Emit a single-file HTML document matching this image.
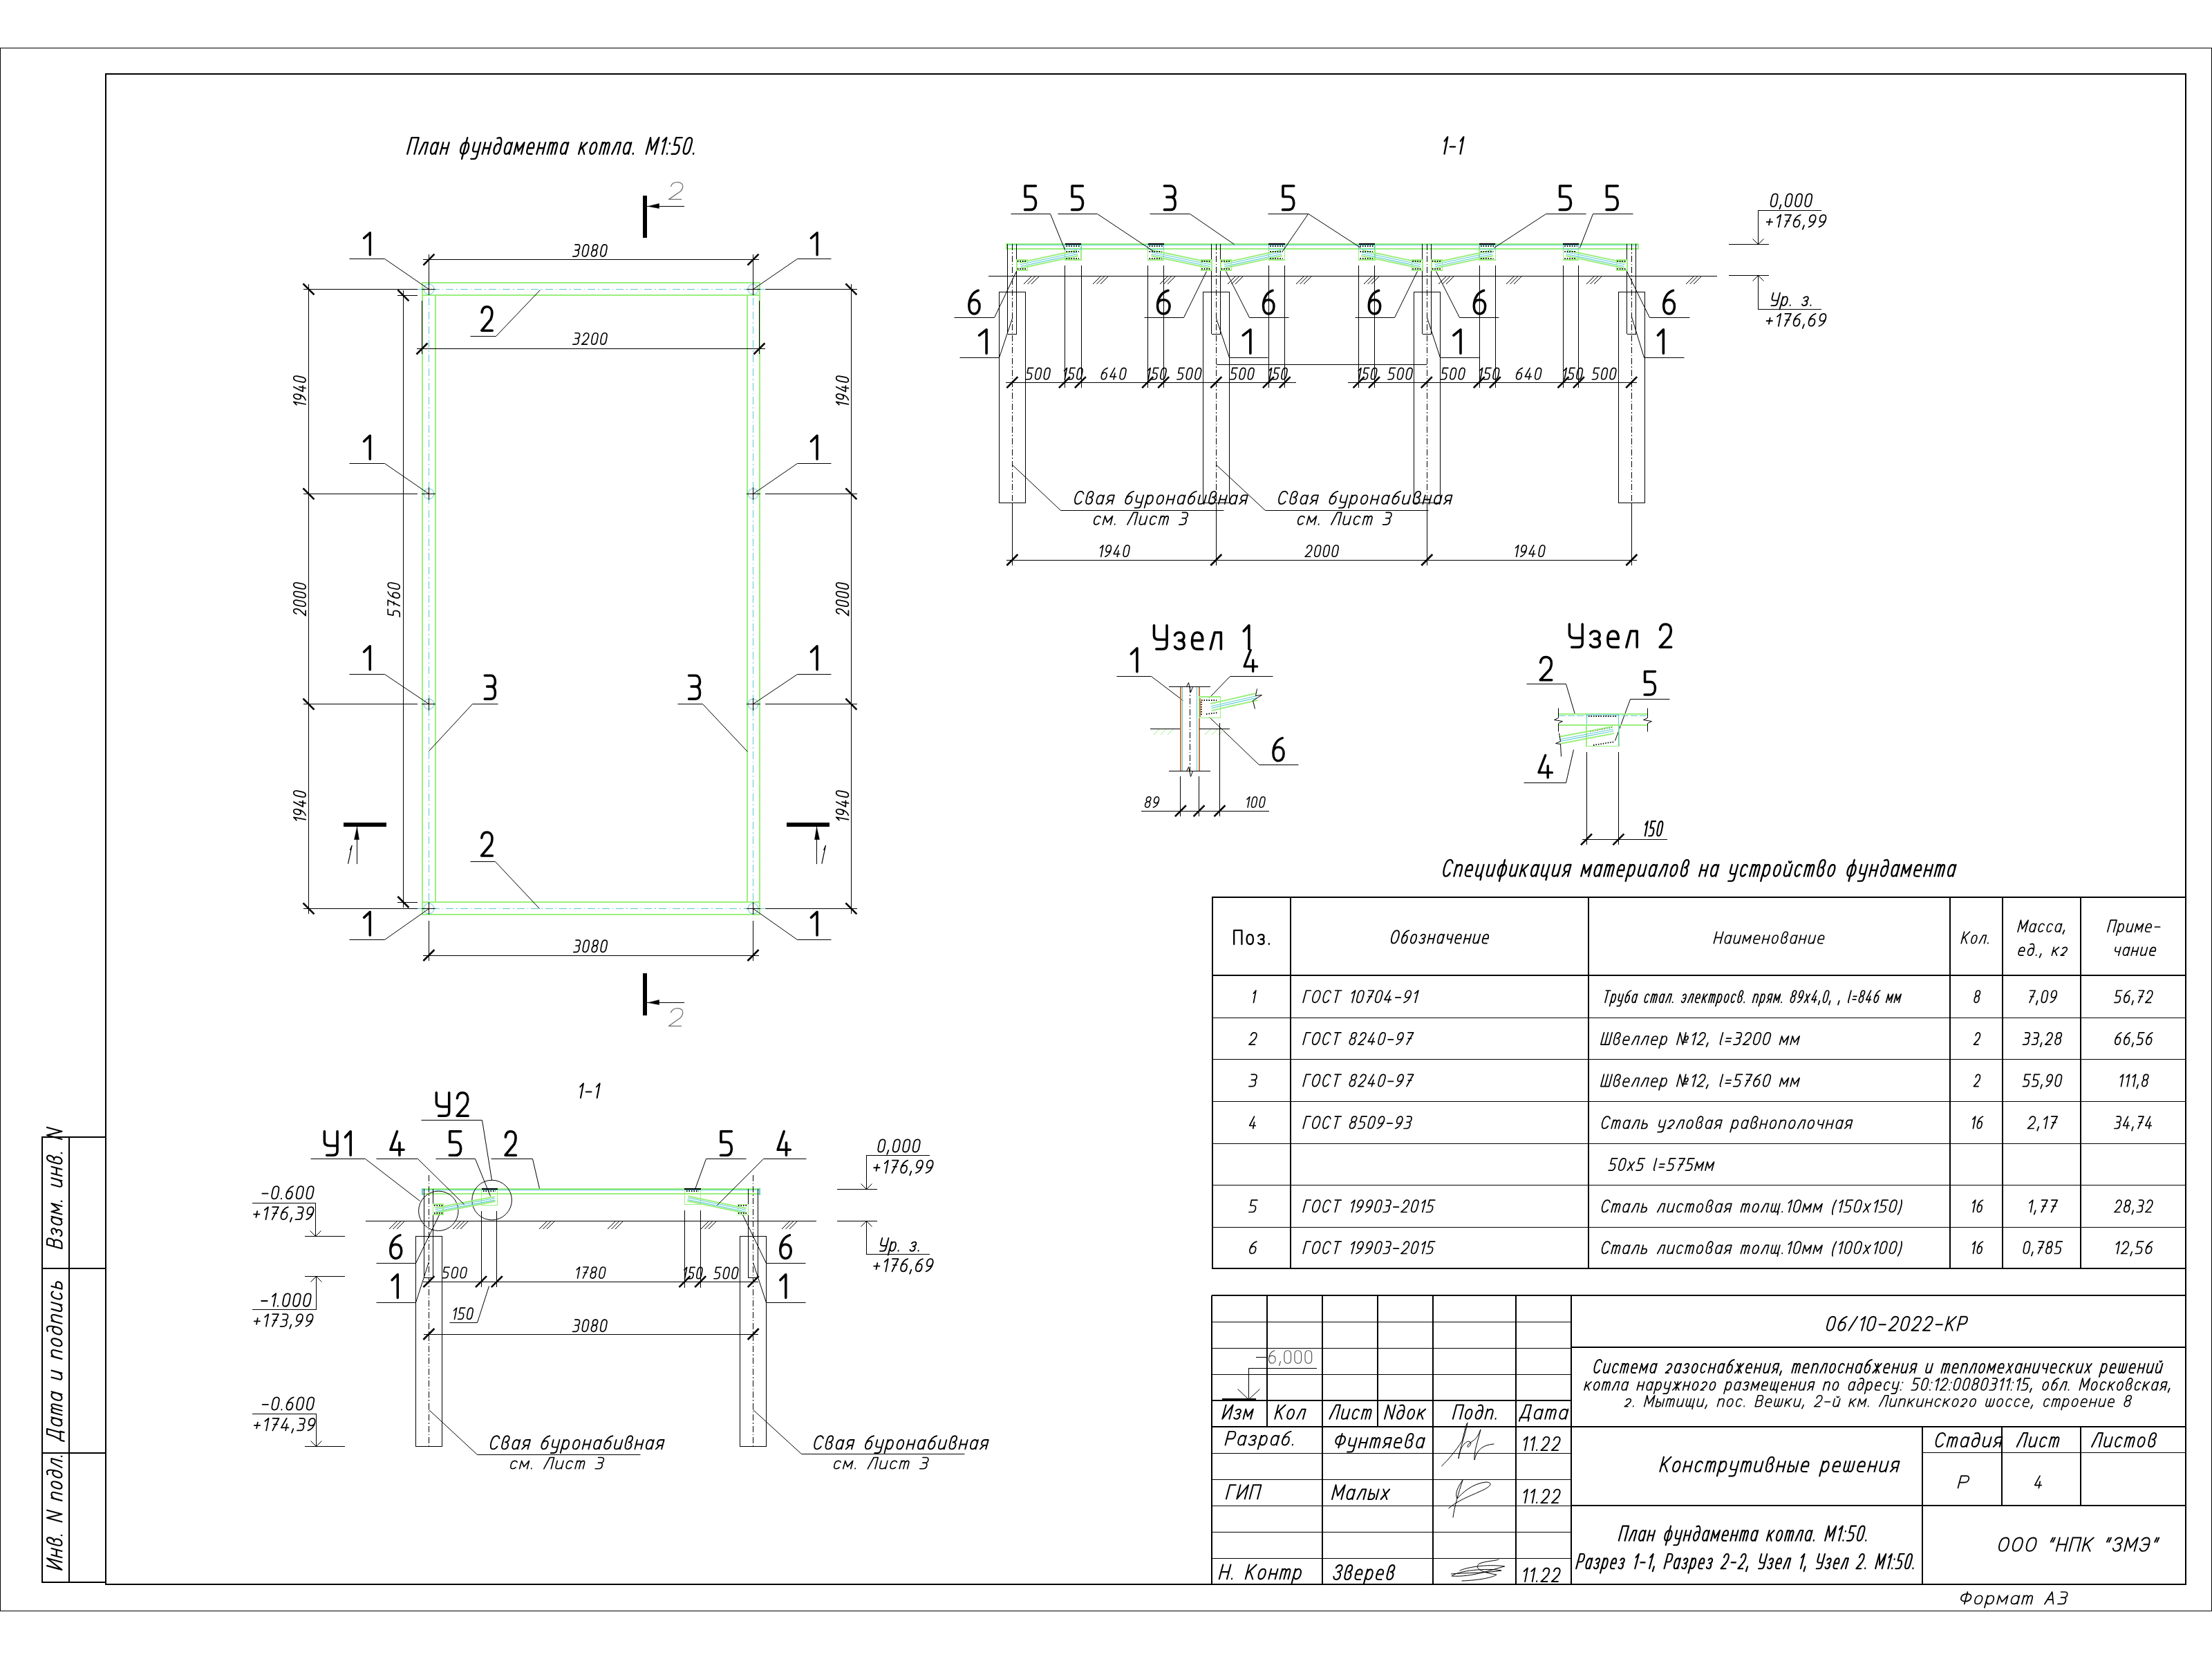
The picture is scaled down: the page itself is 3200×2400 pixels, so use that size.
<!DOCTYPE html><html><head><meta charset="utf-8"><style>html,body{margin:0;padding:0;background:#fff;overflow:hidden}</style></head><body><svg width="3200" height="2400" viewBox="0 0 3200 2400" style="display:block;font-family:'Liberation Sans',sans-serif;font-kerning:none">
<rect width="3200" height="2400" fill="#fff"/>
<defs><path id="g0" d="M0,0.24 L1,0 L1,1" vector-effect="non-scaling-stroke"/><path id="g1" d="M0.02,0.24 C0.06,0.08 0.25,0 0.5,0 C0.78,0 0.98,0.1 0.98,0.27 C0.98,0.38 0.93,0.45 0.85,0.53 L0,1 L1,1" vector-effect="non-scaling-stroke"/><path id="g2" d="M0,0 L0.58,0 C0.86,0 1,0.12 1,0.27 C1,0.4 0.86,0.47 0.6,0.47 L0.22,0.47 M0.6,0.47 C0.86,0.47 1,0.58 1,0.74 C1,0.9 0.86,1 0.58,1 L0,1" vector-effect="non-scaling-stroke"/><path id="g3" d="M0.5,0 L0,0.77 L1,0.77 M0.68,0.47 L0.68,1" vector-effect="non-scaling-stroke"/><path id="g4" d="M1,0 L0.03,0 L0.03,0.45 L0.55,0.45 C0.84,0.45 1,0.57 1,0.72 C1,0.89 0.84,1 0.55,1 L0,1" vector-effect="non-scaling-stroke"/><path id="g5" d="M0.88,0 C0.38,0.06 0,0.32 0,0.66 C0,0.88 0.2,1 0.5,1 C0.8,1 1,0.86 1,0.68 C1,0.5 0.8,0.4 0.5,0.4 C0.25,0.4 0.06,0.48 0,0.6" vector-effect="non-scaling-stroke"/><path id="g6" d="M0,0.3 C0,0.1 0.2,0 0.5,0 C0.8,0 1,0.1 1,0.3 L1,0.7 C1,0.9 0.8,1 0.5,1 C0.2,1 0,0.9 0,0.7 Z" vector-effect="non-scaling-stroke"/><path id="g7" d="M0,0 L1,0 L0.35,1 M0.35,0.5 L0.9,0.5" vector-effect="non-scaling-stroke"/><path id="g8" d="M0.5,0.46 C0.16,0.46 0.04,0.36 0.04,0.22 C0.04,0.08 0.2,0 0.5,0 C0.8,0 0.96,0.08 0.96,0.22 C0.96,0.36 0.84,0.46 0.5,0.46 C0.15,0.46 0,0.58 0,0.73 C0,0.9 0.2,1 0.5,1 C0.8,1 1,0.9 1,0.73 C1,0.58 0.85,0.46 0.5,0.46 Z" vector-effect="non-scaling-stroke"/><path id="g9" d="M0.12,1 C0.62,0.94 1,0.68 1,0.34 C1,0.12 0.8,0 0.5,0 C0.2,0 0,0.14 0,0.32 C0,0.5 0.2,0.6 0.5,0.6 C0.75,0.6 0.94,0.52 1,0.4" vector-effect="non-scaling-stroke"/><path id="g10" d="M1,0.86 L0,1.18" vector-effect="non-scaling-stroke"/><path id="g11" d="M0.5,0.96 L0.5,1" vector-effect="non-scaling-stroke"/><path id="g12" d="M0,0.58 L1,0.58 M0.5,0.33 L0.5,0.83" vector-effect="non-scaling-stroke"/><path id="g13" d="M0,0.58 L1,0.58" vector-effect="non-scaling-stroke"/><path id="g14" d="M0,0.58 L1,0.58" vector-effect="non-scaling-stroke"/><path id="g15" d="M0,0 L0,0.42 C0,0.55 0.15,0.6 0.4,0.6 L1,0.6 M1,0 L1,0.82 C1,0.94 0.88,1 0.68,1 L0.18,1" vector-effect="non-scaling-stroke"/><path id="g16" d="M0,0.42 C0.12,0.32 0.3,0.3 0.5,0.3 C0.8,0.3 0.98,0.38 0.98,0.48 C0.98,0.58 0.82,0.64 0.42,0.64 M0.5,0.64 C0.85,0.64 1,0.72 1,0.83 C1,0.94 0.82,1 0.5,1 C0.3,1 0.12,0.98 0,0.9" vector-effect="non-scaling-stroke"/><path id="g17" d="M0,0.64 L1,0.64 C1,0.42 0.85,0.3 0.5,0.3 C0.18,0.3 0,0.44 0,0.62 L0,0.74 C0,0.9 0.18,1 0.48,1 L1,1" vector-effect="non-scaling-stroke"/><path id="g18" d="M0,1 L0.4,0.3 L1,0.3 L1,1" vector-effect="non-scaling-stroke"/><path id="g19" d="M0,1 L0.5,0 L1,1 M0.2,0.64 L0.8,0.64" vector-effect="non-scaling-stroke"/><path id="g20" d="M0,0 L0,1 L0.6,1 C0.88,1 1,0.88 1,0.73 C1,0.57 0.88,0.47 0.6,0.47 L0,0.47 M0.55,0.47 C0.82,0.47 0.94,0.37 0.94,0.23 C0.94,0.09 0.82,0 0.55,0 L0,0" vector-effect="non-scaling-stroke"/><path id="g21" d="M1,0 L0,0 L0,1" vector-effect="non-scaling-stroke"/><path id="g22" d="M0,1.15 L0,0.9 L1,0.9 L1,1.15 M0.08,0.9 C0.25,0.6 0.3,0.3 0.3,0 L0.88,0 L0.88,0.9" vector-effect="non-scaling-stroke"/><path id="g24" d="M0,0.2 C0.1,0.05 0.3,0 0.5,0 C0.8,0 0.98,0.1 0.98,0.25 C0.98,0.4 0.8,0.47 0.42,0.47 M0.5,0.47 C0.85,0.47 1,0.6 1,0.75 C1,0.9 0.8,1 0.5,1 C0.25,1 0.08,0.92 0,0.8" vector-effect="non-scaling-stroke"/><path id="g25" d="M0,0 L0,1 L1,0 L1,1" vector-effect="non-scaling-stroke"/><path id="g26" d="M0,0 L0,1 M1,0 L0,0.62 M0.3,0.44 L1,1" vector-effect="non-scaling-stroke"/><path id="g27" d="M0,1 L0.42,0 L1,0 L1,1" vector-effect="non-scaling-stroke"/><path id="g28" d="M0,1 L0,0 L0.5,0.75 L1,0 L1,1" vector-effect="non-scaling-stroke"/><path id="g29" d="M0,0 L0,1 M1,0 L1,1 M0,0.5 L1,0.5" vector-effect="non-scaling-stroke"/><path id="g30" d="M0.5,0 C0.85,0 1.0,0.2 1.0,0.5 C1.0,0.8 0.85,1 0.5,1 C0.15,1 0.0,0.8 0.0,0.5 C0.0,0.2 0.15,0 0.5,0 Z" vector-effect="non-scaling-stroke"/><path id="g31" d="M0,1 L0,0 L1,0 L1,1" vector-effect="non-scaling-stroke"/><path id="g32" d="M0,1 L0,0 L0.6,0 C0.88,0 1,0.12 1,0.27 C1,0.42 0.88,0.54 0.6,0.54 L0,0.54" vector-effect="non-scaling-stroke"/><path id="g33" d="M1,0.2 C0.9,0.06 0.72,0 0.5,0 C0.15,0 0,0.25 0,0.5 C0,0.75 0.15,1 0.5,1 C0.72,1 0.9,0.94 1,0.8" vector-effect="non-scaling-stroke"/><path id="g34" d="M0,0 L1,0 M0.5,0 L0.5,1" vector-effect="non-scaling-stroke"/><path id="g35" d="M0.5,0 L0.5,1 M0.5,0.16 C0.15,0.16 0,0.3 0,0.47 C0,0.64 0.15,0.78 0.5,0.78 C0.85,0.78 1,0.64 1,0.47 C1,0.3 0.85,0.16 0.5,0.16 Z" vector-effect="non-scaling-stroke"/><path id="g36" d="M0,0 L0,1 L1,1 L1,0 M0.5,0 L0.5,1" vector-effect="non-scaling-stroke"/><path id="g37" d="M0,0.2 C0.1,0.06 0.28,0 0.5,0 C0.85,0 1,0.25 1,0.5 C1,0.75 0.85,1 0.5,1 C0.28,1 0.1,0.94 0,0.8 M0.35,0.5 L1,0.5" vector-effect="non-scaling-stroke"/><path id="g38" d="M0,1 L0,0 L1,1 L1,0" vector-effect="non-scaling-stroke"/><path id="g39" d="M1,0.3 L1,1 M1,0.62 C1,0.42 0.8,0.3 0.5,0.3 C0.18,0.3 0,0.45 0,0.65 C0,0.87 0.18,1 0.48,1 C0.78,1 1,0.87 1,0.7" vector-effect="non-scaling-stroke"/><path id="g40" d="M0.95,0 C0.45,0.03 0,0.25 0,0.66 C0,0.88 0.2,1 0.5,1 C0.8,1 1,0.88 1,0.68 C1,0.48 0.8,0.38 0.5,0.38 C0.25,0.38 0.06,0.47 0,0.6" vector-effect="non-scaling-stroke"/><path id="g41" d="M0,0.7 L0,0.3 C0,0.1 0.18,0 0.45,0 C0.72,0 0.9,0.1 0.9,0.24 C0.9,0.4 0.7,0.47 0.4,0.47 M0.45,0.47 C0.8,0.47 1,0.6 1,0.76 C1,0.92 0.8,1 0.5,1 C0.2,1 0,0.9 0,0.7" vector-effect="non-scaling-stroke"/><path id="g42" d="M0,0.42 C0.1,0.33 0.3,0.3 0.5,0.3 C0.8,0.3 1,0.38 1,0.5 C1,0.64 0.7,0.78 0,1 L0.7,1" vector-effect="non-scaling-stroke"/><path id="g43" d="M0.05,0.04 C0.2,0.01 0.35,0 0.5,0 C0.85,0.05 1,0.35 1,0.68 C1,0.88 0.8,1 0.5,1 C0.2,1 0,0.88 0,0.7 C0,0.5 0.2,0.38 0.5,0.38 C0.75,0.38 0.95,0.46 1,0.58" vector-effect="non-scaling-stroke"/><path id="g44" d="M0,0.3 L1,1 M1,0.3 L0,1 M0.5,0.3 L0.5,1" vector-effect="non-scaling-stroke"/><path id="g45" d="M0,0.3 L0,0.8 C0,0.93 0.12,1 0.4,1 C0.7,1 1,0.9 1,0.7 M1,0.3 L1,1" vector-effect="non-scaling-stroke"/><path id="g46" d="M0,0.3 L0,0.8 C0,0.93 0.12,1 0.4,1 C0.7,1 1,0.9 1,0.7 M1,0.3 L1,1 M0.3,0.1 C0.38,0.2 0.62,0.2 0.7,0.1" vector-effect="non-scaling-stroke"/><path id="g47" d="M0,0.3 L0,1 M1,0.3 L0,0.74 M0.35,0.6 L1,1" vector-effect="non-scaling-stroke"/><path id="g48" d="M0,1 L0,0.3 L0.5,0.82 L1,0.3 L1,1" vector-effect="non-scaling-stroke"/><path id="g49" d="M0,0.3 L0,1 M1,0.3 L1,1 M0,0.64 L1,0.64" vector-effect="non-scaling-stroke"/><path id="g50" d="M0.5,0.3 C0.85,0.3 1.0,0.43999999999999995 1.0,0.65 C1.0,0.86 0.85,1.0 0.5,1.0 C0.15,1.0 0.0,0.86 0.0,0.65 C0.0,0.43999999999999995 0.15,0.3 0.5,0.3 Z" vector-effect="non-scaling-stroke"/><path id="g51" d="M0,1 L0,0.3 M0,0.5 C0.1,0.35 0.3,0.3 0.6,0.3 C0.9,0.3 1,0.4 1,0.55 L1,1" vector-effect="non-scaling-stroke"/><path id="g52" d="M0,0.3 L0,1.3 M0,0.65 C0,0.45 0.2,0.3 0.5,0.3 C0.8,0.3 1,0.45 1,0.65 C1,0.85 0.8,1 0.5,1 C0.2,1 0,0.85 0,0.65" vector-effect="non-scaling-stroke"/><path id="g53" d="M1,0.42 C0.9,0.33 0.72,0.3 0.5,0.3 C0.15,0.3 0,0.45 0,0.65 C0,0.85 0.15,1 0.5,1 C0.72,1 0.9,0.97 1,0.88" vector-effect="non-scaling-stroke"/><path id="g54" d="M0,1 L0,0.3 M0,0.48 C0.05,0.35 0.15,0.3 0.28,0.3 C0.42,0.3 0.5,0.38 0.5,0.5 L0.5,1 M0.5,0.5 C0.55,0.35 0.65,0.3 0.78,0.3 C0.92,0.3 1,0.38 1,0.5 L1,1" vector-effect="non-scaling-stroke"/><path id="g55" d="M0,0.3 L0,0.68 C0,0.8 0.12,0.86 0.4,0.86 L1,0.86 M1,0.3 L1,1.12 C1,1.24 0.88,1.3 0.65,1.3 L0.12,1.3" vector-effect="non-scaling-stroke"/><path id="g56" d="M0.5,0 L0.5,1.3 M0.5,0.3 C0.85,0.3 1.0,0.43999999999999995 1.0,0.65 C1.0,0.86 0.85,1.0 0.5,1.0 C0.15,1.0 0.0,0.86 0.0,0.65 C0.0,0.43999999999999995 0.15,0.3 0.5,0.3 Z" vector-effect="non-scaling-stroke"/><path id="g57" d="M0,0.3 L1,1 M1,0.3 L0,1" vector-effect="non-scaling-stroke"/><path id="g58" d="M0,0.3 L0,0.8 C0,0.93 0.12,1 0.4,1 C0.68,1 0.9,0.9 0.9,0.7 M0.9,0.3 L0.9,1 L1,1 L1,1.22" vector-effect="non-scaling-stroke"/><path id="g59" d="M0,0.3 L0,0.5 C0,0.62 0.15,0.68 0.45,0.68 L1,0.68 M1,0.3 L1,1" vector-effect="non-scaling-stroke"/><path id="g60" d="M0,0.3 L0,0.8 C0,0.93 0.1,1 0.25,1 C0.4,1 0.5,0.93 0.5,0.8 L0.5,0.3 M0.5,0.8 C0.5,0.93 0.6,1 0.75,1 C0.9,1 1,0.93 1,0.8 L1,0.3" vector-effect="non-scaling-stroke"/><path id="g61" d="M0,0.3 L0,0.8 C0,0.93 0.1,1 0.24,1 C0.38,1 0.48,0.93 0.48,0.8 L0.48,0.3 M0.48,0.8 C0.48,0.93 0.58,1 0.72,1 C0.86,1 0.94,0.93 0.94,0.8 L0.94,0.3 M0.94,0.9 L1,1 L1,1.22" vector-effect="non-scaling-stroke"/><path id="g62" d="M0,0.3 L0,1 L0.38,1 C0.58,1 0.68,0.92 0.68,0.8 C0.68,0.68 0.58,0.6 0.38,0.6 L0,0.6 M1,0.3 L1,1" vector-effect="non-scaling-stroke"/><path id="g63" d="M0,0.3 L0,1 L0.55,1 C0.85,1 1,0.92 1,0.8 C1,0.68 0.85,0.6 0.55,0.6 L0,0.6" vector-effect="non-scaling-stroke"/><path id="g64" d="M0,0.42 C0.1,0.33 0.28,0.3 0.5,0.3 C0.85,0.3 1,0.45 1,0.65 C1,0.85 0.85,1 0.5,1 C0.28,1 0.1,0.97 0,0.88 M0.35,0.65 L1,0.65" vector-effect="non-scaling-stroke"/><path id="g65" d="M1,1 L1,0.3 L0.45,0.3 C0.15,0.3 0,0.4 0,0.52 C0,0.64 0.15,0.72 0.45,0.72 L1,0.72 M0.5,0.72 L0,1" vector-effect="non-scaling-stroke"/><path id="g66" d="M0.4,0 L0.4,0.82 C0.4,0.94 0.6,1 1,1" vector-effect="non-scaling-stroke"/><path id="g67" d="M0,1 L0,0 L0.62,1 L0.62,0 M0.84,0.3 C0.95,0.3 1,0.38 1,0.48 C1,0.58 0.95,0.64 0.84,0.64 C0.73,0.64 0.68,0.58 0.68,0.48 C0.68,0.38 0.73,0.3 0.84,0.3 Z M0.68,0.8 L1,0.8" vector-effect="non-scaling-stroke"/><path id="g68" d="M0,0.48 L1,0.48 M0,0.74 L1,0.74" vector-effect="non-scaling-stroke"/><path id="g69" d="M1,0 C0.1,0.3 0.1,0.95 1,1.2" vector-effect="non-scaling-stroke"/><path id="g70" d="M0,0 C0.9,0.3 0.9,0.95 0,1.2" vector-effect="non-scaling-stroke"/><path id="g71" d="M0.35,0 L0.05,0.32 M1,0 L0.7,0.32" vector-effect="non-scaling-stroke"/><path id="g72" d="M0,1 L1,0" vector-effect="non-scaling-stroke"/><path id="g73" d="M0.5,0.34 L0.5,0.38 M0.5,0.96 L0.5,1" vector-effect="non-scaling-stroke"/></defs>
<rect x="0.5" y="69.5" width="3199.0" height="2261.0" fill="none" stroke="#000" stroke-width="1.4" shape-rendering="crispEdges"/>
<rect x="153.0" y="107.0" width="3009.0" height="2185.0" fill="none" stroke="#000" stroke-width="2.2" shape-rendering="crispEdges"/>
<g fill="none" stroke="#000" stroke-width="2.34" stroke-linecap="round" stroke-linejoin="round">
<use href="#g31" transform="translate(589.2,222.8) skewX(-15) translate(0,-23.7) scale(10.16,23.66)"/>
<use href="#g18" transform="translate(606.2,222.8) skewX(-15) translate(0,-23.7) scale(8.44,23.66)"/>
<use href="#g39" transform="translate(621.5,222.8) skewX(-15) translate(0,-23.7) scale(8.44,23.66)"/>
<use href="#g49" transform="translate(636.8,222.8) skewX(-15) translate(0,-23.7) scale(8.44,23.66)"/>
<use href="#g56" transform="translate(664.4,222.8) skewX(-15) translate(0,-23.7) scale(11.02,23.66)"/>
<use href="#g55" transform="translate(682.3,222.8) skewX(-15) translate(0,-23.7) scale(8.44,23.66)"/>
<use href="#g49" transform="translate(697.6,222.8) skewX(-15) translate(0,-23.7) scale(8.44,23.66)"/>
<use href="#g43" transform="translate(712.9,222.8) skewX(-15) translate(0,-23.7) scale(8.44,23.66)"/>
<use href="#g39" transform="translate(728.2,222.8) skewX(-15) translate(0,-23.7) scale(8.44,23.66)"/>
<use href="#g48" transform="translate(743.5,222.8) skewX(-15) translate(0,-23.7) scale(10.59,23.66)"/>
<use href="#g17" transform="translate(761.0,222.8) skewX(-15) translate(0,-23.7) scale(8.44,23.66)"/>
<use href="#g49" transform="translate(776.3,222.8) skewX(-15) translate(0,-23.7) scale(8.44,23.66)"/>
<use href="#g54" transform="translate(791.6,222.8) skewX(-15) translate(0,-23.7) scale(11.02,23.66)"/>
<use href="#g39" transform="translate(809.5,222.8) skewX(-15) translate(0,-23.7) scale(8.44,23.66)"/>
<use href="#g47" transform="translate(837.1,222.8) skewX(-15) translate(0,-23.7) scale(8.01,23.66)"/>
<use href="#g50" transform="translate(851.9,222.8) skewX(-15) translate(0,-23.7) scale(8.44,23.66)"/>
<use href="#g54" transform="translate(867.2,222.8) skewX(-15) translate(0,-23.7) scale(11.02,23.66)"/>
<use href="#g18" transform="translate(885.1,222.8) skewX(-15) translate(0,-23.7) scale(8.44,23.66)"/>
<use href="#g39" transform="translate(900.4,222.8) skewX(-15) translate(0,-23.7) scale(8.44,23.66)"/>
<use href="#g11" transform="translate(915.7,222.8) skewX(-15) translate(0,-23.7) scale(0.02,23.66)"/>
<use href="#g28" transform="translate(934.7,222.8) skewX(-15) translate(0,-23.7) scale(12.32,23.66)"/>
<use href="#g0" transform="translate(953.9,222.8) skewX(-15) translate(0,-23.7) scale(4.13,23.66)"/>
<use href="#g73" transform="translate(964.9,222.8) skewX(-15) translate(0,-23.7) scale(0.02,23.66)"/>
<use href="#g4" transform="translate(971.6,222.8) skewX(-15) translate(0,-23.7) scale(8.87,23.66)"/>
<use href="#g6" transform="translate(987.3,222.8) skewX(-15) translate(0,-23.7) scale(8.87,23.66)"/>
<use href="#g11" transform="translate(1003.0,222.8) skewX(-15) translate(0,-23.7) scale(0.02,23.66)"/>
</g>
<rect x="610.5" y="409.0" width="488.9" height="18.0" fill="none" stroke="#9bef7d" stroke-width="2" shape-rendering="crispEdges"/>
<rect x="610.5" y="1304.6" width="488.9" height="18.4" fill="none" stroke="#9bef7d" stroke-width="2" shape-rendering="crispEdges"/>
<rect x="610.5" y="427.0" width="19.5" height="877.6" fill="none" stroke="#9bef7d" stroke-width="2" shape-rendering="crispEdges"/>
<rect x="1081.0" y="427.0" width="18.4" height="877.6" fill="none" stroke="#9bef7d" stroke-width="2" shape-rendering="crispEdges"/>
<line x1="604.0" y1="418.5" x2="1106.0" y2="418.5" stroke="#5ac8d2" stroke-width="1.2" stroke-dasharray="11 4 1.5 4" shape-rendering="crispEdges"/>
<line x1="604.0" y1="1314.5" x2="1106.0" y2="1314.5" stroke="#5ac8d2" stroke-width="1.2" stroke-dasharray="11 4 1.5 4" shape-rendering="crispEdges"/>
<line x1="620.5" y1="410.0" x2="620.5" y2="1323.0" stroke="#5ac8d2" stroke-width="1.2" stroke-dasharray="11 4 1.5 4" shape-rendering="crispEdges"/>
<line x1="1089.5" y1="410.0" x2="1089.5" y2="1323.0" stroke="#5ac8d2" stroke-width="1.2" stroke-dasharray="11 4 1.5 4" shape-rendering="crispEdges"/>
<circle cx="620.4" cy="418.4" r="7.5" fill="none" stroke="#5ac8d2" stroke-width="1"/>
<line x1="610.4" y1="418.5" x2="630.4" y2="418.5" stroke="#000" stroke-width="1" shape-rendering="crispEdges"/>
<line x1="620.5" y1="409.4" x2="620.5" y2="427.4" stroke="#000" stroke-width="1" shape-rendering="crispEdges"/>
<circle cx="1089.5" cy="418.4" r="7.5" fill="none" stroke="#5ac8d2" stroke-width="1"/>
<line x1="1079.5" y1="418.5" x2="1099.5" y2="418.5" stroke="#000" stroke-width="1" shape-rendering="crispEdges"/>
<line x1="1089.5" y1="409.4" x2="1089.5" y2="427.4" stroke="#000" stroke-width="1" shape-rendering="crispEdges"/>
<circle cx="620.4" cy="714.4" r="7.5" fill="none" stroke="#5ac8d2" stroke-width="1"/>
<line x1="610.4" y1="714.5" x2="630.4" y2="714.5" stroke="#000" stroke-width="1" shape-rendering="crispEdges"/>
<line x1="620.5" y1="705.4" x2="620.5" y2="723.4" stroke="#000" stroke-width="1" shape-rendering="crispEdges"/>
<circle cx="1089.5" cy="714.4" r="7.5" fill="none" stroke="#5ac8d2" stroke-width="1"/>
<line x1="1079.5" y1="714.5" x2="1099.5" y2="714.5" stroke="#000" stroke-width="1" shape-rendering="crispEdges"/>
<line x1="1089.5" y1="705.4" x2="1089.5" y2="723.4" stroke="#000" stroke-width="1" shape-rendering="crispEdges"/>
<circle cx="620.4" cy="1018.6" r="7.5" fill="none" stroke="#5ac8d2" stroke-width="1"/>
<line x1="610.4" y1="1018.5" x2="630.4" y2="1018.5" stroke="#000" stroke-width="1" shape-rendering="crispEdges"/>
<line x1="620.5" y1="1009.6" x2="620.5" y2="1027.6" stroke="#000" stroke-width="1" shape-rendering="crispEdges"/>
<circle cx="1089.5" cy="1018.6" r="7.5" fill="none" stroke="#5ac8d2" stroke-width="1"/>
<line x1="1079.5" y1="1018.5" x2="1099.5" y2="1018.5" stroke="#000" stroke-width="1" shape-rendering="crispEdges"/>
<line x1="1089.5" y1="1009.6" x2="1089.5" y2="1027.6" stroke="#000" stroke-width="1" shape-rendering="crispEdges"/>
<circle cx="620.4" cy="1314.4" r="7.5" fill="none" stroke="#5ac8d2" stroke-width="1"/>
<line x1="610.4" y1="1314.5" x2="630.4" y2="1314.5" stroke="#000" stroke-width="1" shape-rendering="crispEdges"/>
<line x1="620.5" y1="1305.4" x2="620.5" y2="1323.4" stroke="#000" stroke-width="1" shape-rendering="crispEdges"/>
<circle cx="1089.5" cy="1314.4" r="7.5" fill="none" stroke="#5ac8d2" stroke-width="1"/>
<line x1="1079.5" y1="1314.5" x2="1099.5" y2="1314.5" stroke="#000" stroke-width="1" shape-rendering="crispEdges"/>
<line x1="1089.5" y1="1305.4" x2="1089.5" y2="1323.4" stroke="#000" stroke-width="1" shape-rendering="crispEdges"/>
<line x1="446.5" y1="411.0" x2="446.5" y2="1322.0" stroke="#000" stroke-width="1" shape-rendering="crispEdges"/>
<line x1="439.0" y1="418.5" x2="603.5" y2="418.5" stroke="#000" stroke-width="1" shape-rendering="crispEdges"/>
<line x1="438.5" y1="410.4" x2="454.5" y2="426.4" stroke="#000" stroke-width="2.6"/>
<line x1="439.0" y1="714.5" x2="603.5" y2="714.5" stroke="#000" stroke-width="1" shape-rendering="crispEdges"/>
<line x1="438.5" y1="706.4" x2="454.5" y2="722.4" stroke="#000" stroke-width="2.6"/>
<line x1="439.0" y1="1018.5" x2="603.5" y2="1018.5" stroke="#000" stroke-width="1" shape-rendering="crispEdges"/>
<line x1="438.5" y1="1010.6" x2="454.5" y2="1026.6" stroke="#000" stroke-width="2.6"/>
<line x1="439.0" y1="1314.5" x2="603.5" y2="1314.5" stroke="#000" stroke-width="1" shape-rendering="crispEdges"/>
<line x1="438.5" y1="1306.4" x2="454.5" y2="1322.4" stroke="#000" stroke-width="2.6"/>
<line x1="583.5" y1="420.0" x2="583.5" y2="1313.0" stroke="#000" stroke-width="1" shape-rendering="crispEdges"/>
<line x1="575.0" y1="427.5" x2="604.0" y2="427.5" stroke="#000" stroke-width="1" shape-rendering="crispEdges"/>
<line x1="575.4" y1="419.4" x2="591.4" y2="435.4" stroke="#000" stroke-width="2.6"/>
<line x1="575.0" y1="1305.5" x2="604.0" y2="1305.5" stroke="#000" stroke-width="1" shape-rendering="crispEdges"/>
<line x1="575.4" y1="1297.0" x2="591.4" y2="1313.0" stroke="#000" stroke-width="2.6"/>
<line x1="1231.5" y1="411.0" x2="1231.5" y2="1322.0" stroke="#000" stroke-width="1" shape-rendering="crispEdges"/>
<line x1="1107.0" y1="418.5" x2="1240.0" y2="418.5" stroke="#000" stroke-width="1" shape-rendering="crispEdges"/>
<line x1="1223.4" y1="410.4" x2="1239.4" y2="426.4" stroke="#000" stroke-width="2.6"/>
<line x1="1107.0" y1="714.5" x2="1240.0" y2="714.5" stroke="#000" stroke-width="1" shape-rendering="crispEdges"/>
<line x1="1223.4" y1="706.4" x2="1239.4" y2="722.4" stroke="#000" stroke-width="2.6"/>
<line x1="1107.0" y1="1018.5" x2="1240.0" y2="1018.5" stroke="#000" stroke-width="1" shape-rendering="crispEdges"/>
<line x1="1223.4" y1="1010.6" x2="1239.4" y2="1026.6" stroke="#000" stroke-width="2.6"/>
<line x1="1107.0" y1="1314.5" x2="1240.0" y2="1314.5" stroke="#000" stroke-width="1" shape-rendering="crispEdges"/>
<line x1="1223.4" y1="1306.4" x2="1239.4" y2="1322.4" stroke="#000" stroke-width="2.6"/>
<line x1="611.7" y1="375.5" x2="1097.6" y2="375.5" stroke="#000" stroke-width="1" shape-rendering="crispEdges"/>
<line x1="620.5" y1="368.0" x2="620.5" y2="410.0" stroke="#000" stroke-width="1" shape-rendering="crispEdges"/>
<line x1="612.4" y1="383.6" x2="628.4" y2="367.6" stroke="#000" stroke-width="2.6"/>
<line x1="1089.5" y1="368.0" x2="1089.5" y2="410.0" stroke="#000" stroke-width="1" shape-rendering="crispEdges"/>
<line x1="1081.5" y1="383.6" x2="1097.5" y2="367.6" stroke="#000" stroke-width="2.6"/>
<line x1="603.0" y1="504.5" x2="1106.5" y2="504.5" stroke="#000" stroke-width="1" shape-rendering="crispEdges"/>
<line x1="610.5" y1="435.0" x2="610.5" y2="512.0" stroke="#000" stroke-width="1" shape-rendering="crispEdges"/>
<line x1="602.5" y1="512.5" x2="618.5" y2="496.5" stroke="#000" stroke-width="2.6"/>
<line x1="1098.5" y1="435.0" x2="1098.5" y2="512.0" stroke="#000" stroke-width="1" shape-rendering="crispEdges"/>
<line x1="1090.4" y1="512.5" x2="1106.4" y2="496.5" stroke="#000" stroke-width="2.6"/>
<line x1="611.7" y1="1382.5" x2="1097.6" y2="1382.5" stroke="#000" stroke-width="1" shape-rendering="crispEdges"/>
<line x1="620.5" y1="1332.0" x2="620.5" y2="1390.0" stroke="#000" stroke-width="1" shape-rendering="crispEdges"/>
<line x1="612.4" y1="1390.0" x2="628.4" y2="1374.0" stroke="#000" stroke-width="2.6"/>
<line x1="1089.5" y1="1332.0" x2="1089.5" y2="1390.0" stroke="#000" stroke-width="1" shape-rendering="crispEdges"/>
<line x1="1081.5" y1="1390.0" x2="1097.5" y2="1374.0" stroke="#000" stroke-width="2.6"/>
<g fill="none" stroke="#000" stroke-width="1.67" stroke-linecap="round" stroke-linejoin="round">
<use href="#g2" transform="translate(828.8,370.8) skewX(-11) translate(0,-16.9) scale(7.32,16.93)"/>
<use href="#g6" transform="translate(841.6,370.8) skewX(-11) translate(0,-16.9) scale(7.68,16.93)"/>
<use href="#g8" transform="translate(854.7,370.8) skewX(-11) translate(0,-16.9) scale(7.68,16.93)"/>
<use href="#g6" transform="translate(867.9,370.8) skewX(-11) translate(0,-16.9) scale(7.68,16.93)"/>
</g>
<g fill="none" stroke="#000" stroke-width="1.62" stroke-linecap="round" stroke-linejoin="round">
<use href="#g2" transform="translate(828.8,498.2) skewX(-11) translate(0,-16.4) scale(7.36,16.38)"/>
<use href="#g1" transform="translate(841.6,498.2) skewX(-11) translate(0,-16.4) scale(7.90,16.38)"/>
<use href="#g6" transform="translate(854.9,498.2) skewX(-11) translate(0,-16.4) scale(7.72,16.38)"/>
<use href="#g6" transform="translate(868.0,498.2) skewX(-11) translate(0,-16.4) scale(7.72,16.38)"/>
</g>
<g fill="none" stroke="#000" stroke-width="1.69" stroke-linecap="round" stroke-linejoin="round">
<use href="#g2" transform="translate(829.8,1377.3) skewX(-11) translate(0,-17.1) scale(7.16,17.11)"/>
<use href="#g6" transform="translate(842.4,1377.3) skewX(-11) translate(0,-17.1) scale(7.52,17.11)"/>
<use href="#g8" transform="translate(855.4,1377.3) skewX(-11) translate(0,-17.1) scale(7.52,17.11)"/>
<use href="#g6" transform="translate(868.3,1377.3) skewX(-11) translate(0,-17.1) scale(7.52,17.11)"/>
</g>
<g transform="translate(443.00,589.00) rotate(-90)">
<g fill="none" stroke="#000" stroke-width="1.71" stroke-linecap="round" stroke-linejoin="round">
<use href="#g0" transform="translate(0.9,-0.9) skewX(-11) translate(0,-17.3) scale(3.35,17.29)"/>
<use href="#g9" transform="translate(9.4,-0.9) skewX(-11) translate(0,-17.3) scale(7.05,17.29)"/>
<use href="#g3" transform="translate(21.8,-0.9) skewX(-11) translate(0,-17.3) scale(8.40,17.29)"/>
<use href="#g6" transform="translate(35.4,-0.9) skewX(-11) translate(0,-17.3) scale(7.05,17.29)"/>
</g>
</g>
<g transform="translate(443.00,891.60) rotate(-90)">
<g fill="none" stroke="#000" stroke-width="1.71" stroke-linecap="round" stroke-linejoin="round">
<use href="#g1" transform="translate(0.9,-0.9) skewX(-11) translate(0,-17.3) scale(7.43,17.29)"/>
<use href="#g6" transform="translate(13.6,-0.9) skewX(-11) translate(0,-17.3) scale(7.26,17.29)"/>
<use href="#g6" transform="translate(26.2,-0.9) skewX(-11) translate(0,-17.3) scale(7.26,17.29)"/>
<use href="#g6" transform="translate(38.8,-0.9) skewX(-11) translate(0,-17.3) scale(7.26,17.29)"/>
</g>
</g>
<g transform="translate(443.00,1190.00) rotate(-90)">
<g fill="none" stroke="#000" stroke-width="1.71" stroke-linecap="round" stroke-linejoin="round">
<use href="#g0" transform="translate(0.9,-0.9) skewX(-11) translate(0,-17.3) scale(3.46,17.29)"/>
<use href="#g9" transform="translate(9.6,-0.9) skewX(-11) translate(0,-17.3) scale(7.25,17.29)"/>
<use href="#g3" transform="translate(22.2,-0.9) skewX(-11) translate(0,-17.3) scale(8.63,17.29)"/>
<use href="#g6" transform="translate(36.2,-0.9) skewX(-11) translate(0,-17.3) scale(7.25,17.29)"/>
</g>
</g>
<g transform="translate(1228.30,589.00) rotate(-90)">
<g fill="none" stroke="#000" stroke-width="1.75" stroke-linecap="round" stroke-linejoin="round">
<use href="#g0" transform="translate(0.9,-0.9) skewX(-11) translate(0,-17.7) scale(3.29,17.74)"/>
<use href="#g9" transform="translate(9.5,-0.9) skewX(-11) translate(0,-17.7) scale(6.99,17.74)"/>
<use href="#g3" transform="translate(21.7,-0.9) skewX(-11) translate(0,-17.7) scale(8.33,17.74)"/>
<use href="#g6" transform="translate(35.3,-0.9) skewX(-11) translate(0,-17.7) scale(6.99,17.74)"/>
</g>
</g>
<g transform="translate(1228.30,891.60) rotate(-90)">
<g fill="none" stroke="#000" stroke-width="1.75" stroke-linecap="round" stroke-linejoin="round">
<use href="#g1" transform="translate(0.9,-0.9) skewX(-11) translate(0,-17.7) scale(7.37,17.74)"/>
<use href="#g6" transform="translate(13.6,-0.9) skewX(-11) translate(0,-17.7) scale(7.19,17.74)"/>
<use href="#g6" transform="translate(26.2,-0.9) skewX(-11) translate(0,-17.7) scale(7.19,17.74)"/>
<use href="#g6" transform="translate(38.7,-0.9) skewX(-11) translate(0,-17.7) scale(7.19,17.74)"/>
</g>
</g>
<g transform="translate(1228.30,1190.00) rotate(-90)">
<g fill="none" stroke="#000" stroke-width="1.75" stroke-linecap="round" stroke-linejoin="round">
<use href="#g0" transform="translate(0.9,-0.9) skewX(-11) translate(0,-17.7) scale(3.41,17.74)"/>
<use href="#g9" transform="translate(9.7,-0.9) skewX(-11) translate(0,-17.7) scale(7.19,17.74)"/>
<use href="#g3" transform="translate(22.2,-0.9) skewX(-11) translate(0,-17.7) scale(8.57,17.74)"/>
<use href="#g6" transform="translate(36.1,-0.9) skewX(-11) translate(0,-17.7) scale(7.19,17.74)"/>
</g>
</g>
<g transform="translate(579.00,893.00) rotate(-90)">
<g fill="none" stroke="#000" stroke-width="1.68" stroke-linecap="round" stroke-linejoin="round">
<use href="#g4" transform="translate(0.8,-0.8) skewX(-11) translate(0,-17.0) scale(7.60,17.02)"/>
<use href="#g7" transform="translate(13.9,-0.8) skewX(-11) translate(0,-17.0) scale(7.60,17.02)"/>
<use href="#g5" transform="translate(26.9,-0.8) skewX(-11) translate(0,-17.0) scale(7.60,17.02)"/>
<use href="#g6" transform="translate(39.9,-0.8) skewX(-11) translate(0,-17.0) scale(7.60,17.02)"/>
</g>
</g>
<g fill="none" stroke="#000" stroke-width="3.37" stroke-linecap="round" stroke-linejoin="round">
<use href="#g0" transform="translate(526.5,336.7) scale(8.83,32.13)"/>
</g>
<polyline points="505.5,374.5 556.5,374.5 620.5,418.5" fill="none" stroke="#000" stroke-width="1.0"/>
<g fill="none" stroke="#000" stroke-width="3.37" stroke-linecap="round" stroke-linejoin="round">
<use href="#g0" transform="translate(1173.3,336.7) scale(8.83,32.13)"/>
</g>
<polyline points="1202.5,374.5 1153.5,374.5 1089.5,418.5" fill="none" stroke="#000" stroke-width="1.0"/>
<g fill="none" stroke="#000" stroke-width="3.56" stroke-linecap="round" stroke-linejoin="round">
<use href="#g0" transform="translate(526.6,630.3) scale(8.64,33.94)"/>
</g>
<polyline points="505.5,670.5 556.5,670.5 620.5,714.5" fill="none" stroke="#000" stroke-width="1.0"/>
<g fill="none" stroke="#000" stroke-width="3.56" stroke-linecap="round" stroke-linejoin="round">
<use href="#g0" transform="translate(1173.4,630.3) scale(8.64,33.94)"/>
</g>
<polyline points="1202.5,670.5 1153.5,670.5 1089.5,714.5" fill="none" stroke="#000" stroke-width="1.0"/>
<g fill="none" stroke="#000" stroke-width="3.56" stroke-linecap="round" stroke-linejoin="round">
<use href="#g0" transform="translate(526.6,934.8) scale(8.64,33.94)"/>
</g>
<polyline points="505.5,975.5 556.5,975.5 620.5,1018.5" fill="none" stroke="#000" stroke-width="1.0"/>
<g fill="none" stroke="#000" stroke-width="3.56" stroke-linecap="round" stroke-linejoin="round">
<use href="#g0" transform="translate(1173.4,934.8) scale(8.64,33.94)"/>
</g>
<polyline points="1202.5,975.5 1153.5,975.5 1089.5,1018.5" fill="none" stroke="#000" stroke-width="1.0"/>
<g fill="none" stroke="#000" stroke-width="3.54" stroke-linecap="round" stroke-linejoin="round">
<use href="#g0" transform="translate(526.6,1319.3) scale(8.66,33.76)"/>
</g>
<polyline points="505.5,1359.5 556.5,1359.5 620.5,1314.5" fill="none" stroke="#000" stroke-width="1.0"/>
<g fill="none" stroke="#000" stroke-width="3.54" stroke-linecap="round" stroke-linejoin="round">
<use href="#g0" transform="translate(1173.4,1319.3) scale(8.66,33.76)"/>
</g>
<polyline points="1202.5,1359.5 1153.5,1359.5 1089.5,1314.5" fill="none" stroke="#000" stroke-width="1.0"/>
<g fill="none" stroke="#000" stroke-width="3.61" stroke-linecap="round" stroke-linejoin="round">
<use href="#g1" transform="translate(696.8,443.8) scale(15.39,34.39)"/>
</g>
<polyline points="680.5,486.5 717.5,486.5 781.5,419.5" fill="none" stroke="#000" stroke-width="1.0"/>
<g fill="none" stroke="#000" stroke-width="3.56" stroke-linecap="round" stroke-linejoin="round">
<use href="#g1" transform="translate(696.5,1204.0) scale(15.84,33.94)"/>
</g>
<polyline points="680.5,1246.5 716.5,1246.5 780.5,1314.5" fill="none" stroke="#000" stroke-width="1.0"/>
<g fill="none" stroke="#000" stroke-width="3.56" stroke-linecap="round" stroke-linejoin="round">
<use href="#g2" transform="translate(701.3,977.2) scale(15.14,33.94)"/>
</g>
<polyline points="720.5,1018.5 683.5,1018.5 620.5,1086.5" fill="none" stroke="#000" stroke-width="1.0"/>
<g fill="none" stroke="#000" stroke-width="3.56" stroke-linecap="round" stroke-linejoin="round">
<use href="#g2" transform="translate(996.6,977.2) scale(15.94,33.94)"/>
</g>
<polyline points="980.5,1018.5 1016.5,1018.5 1081.5,1087.5" fill="none" stroke="#000" stroke-width="1.0"/>
<rect x="930.0" y="283.0" width="6.0" height="61.0" fill="#000"/>
<line x1="936.0" y1="298.5" x2="990.0" y2="298.5" stroke="#000" stroke-width="1" shape-rendering="crispEdges"/>
<polygon points="937.5,298.5 953.5,294.5 953.5,301.5" fill="#000" stroke="#000" stroke-width="0.5"/>
<g fill="none" stroke="#707070" stroke-width="1.30" stroke-linecap="round" stroke-linejoin="round">
<use href="#g1" transform="translate(967.6,288.4) skewX(-8) translate(0,-24.7) scale(18.05,24.70)"/>
</g>
<rect x="930.0" y="1408.0" width="6.0" height="61.0" fill="#000"/>
<line x1="936.0" y1="1450.5" x2="990.0" y2="1450.5" stroke="#000" stroke-width="1" shape-rendering="crispEdges"/>
<polygon points="937.5,1450.5 953.5,1446.5 953.5,1453.5" fill="#000" stroke="#000" stroke-width="0.5"/>
<g fill="none" stroke="#707070" stroke-width="1.30" stroke-linecap="round" stroke-linejoin="round">
<use href="#g1" transform="translate(967.6,1484.3) skewX(-8) translate(0,-25.7) scale(17.91,25.70)"/>
</g>
<rect x="497.0" y="1190.0" width="62.0" height="6.0" fill="#000"/>
<line x1="516.5" y1="1196.0" x2="516.5" y2="1250.0" stroke="#000" stroke-width="1" shape-rendering="crispEdges"/>
<polygon points="516.5,1196.5 512.5,1214.5 519.5,1214.5" fill="#000" stroke="#000" stroke-width="0.5"/>
<g fill="none" stroke="#000" stroke-width="1.20" stroke-linecap="round" stroke-linejoin="round">
<use href="#g0" transform="translate(502.3,1249.1) skewX(-12) translate(0,-25.9) scale(1.34,25.90)"/>
</g>
<rect x="1138.0" y="1190.0" width="62.0" height="6.0" fill="#000"/>
<line x1="1181.5" y1="1196.0" x2="1181.5" y2="1250.0" stroke="#000" stroke-width="1" shape-rendering="crispEdges"/>
<polygon points="1181.5,1196.5 1178.5,1214.5 1185.5,1214.5" fill="#000" stroke="#000" stroke-width="0.5"/>
<g fill="none" stroke="#000" stroke-width="1.20" stroke-linecap="round" stroke-linejoin="round">
<use href="#g0" transform="translate(1187.6,1249.1) skewX(-12) translate(0,-25.9) scale(1.34,25.90)"/>
</g>
<g fill="none" stroke="#000" stroke-width="2.39" stroke-linecap="round" stroke-linejoin="round">
<use href="#g0" transform="translate(2086.2,222.5) skewX(-11) translate(0,-24.2) scale(3.30,24.21)"/>
<use href="#g14" transform="translate(2095.9,222.5) skewX(-11) translate(0,-24.2) scale(7.09,24.21)"/>
<use href="#g0" transform="translate(2109.3,222.5) skewX(-11) translate(0,-24.2) scale(3.30,24.21)"/>
</g>
<line x1="1430.2" y1="399.5" x2="2483.9" y2="399.5" stroke="#000" stroke-width="1" shape-rendering="crispEdges"/>
<line x1="1481.0" y1="411.0" x2="1492.0" y2="400.0" stroke="#000" stroke-width="1.0"/>
<line x1="1486.5" y1="411.0" x2="1497.5" y2="400.0" stroke="#000" stroke-width="1.0"/>
<line x1="1492.0" y1="411.0" x2="1503.0" y2="400.0" stroke="#000" stroke-width="1.0"/>
<line x1="1581.0" y1="411.0" x2="1592.0" y2="400.0" stroke="#000" stroke-width="1.0"/>
<line x1="1586.5" y1="411.0" x2="1597.5" y2="400.0" stroke="#000" stroke-width="1.0"/>
<line x1="1592.0" y1="411.0" x2="1603.0" y2="400.0" stroke="#000" stroke-width="1.0"/>
<line x1="1678.0" y1="411.0" x2="1689.0" y2="400.0" stroke="#000" stroke-width="1.0"/>
<line x1="1683.5" y1="411.0" x2="1694.5" y2="400.0" stroke="#000" stroke-width="1.0"/>
<line x1="1689.0" y1="411.0" x2="1700.0" y2="400.0" stroke="#000" stroke-width="1.0"/>
<line x1="1776.0" y1="411.0" x2="1787.0" y2="400.0" stroke="#000" stroke-width="1.0"/>
<line x1="1781.5" y1="411.0" x2="1792.5" y2="400.0" stroke="#000" stroke-width="1.0"/>
<line x1="1787.0" y1="411.0" x2="1798.0" y2="400.0" stroke="#000" stroke-width="1.0"/>
<line x1="1875.0" y1="411.0" x2="1886.0" y2="400.0" stroke="#000" stroke-width="1.0"/>
<line x1="1880.5" y1="411.0" x2="1891.5" y2="400.0" stroke="#000" stroke-width="1.0"/>
<line x1="1886.0" y1="411.0" x2="1897.0" y2="400.0" stroke="#000" stroke-width="1.0"/>
<line x1="1973.0" y1="411.0" x2="1984.0" y2="400.0" stroke="#000" stroke-width="1.0"/>
<line x1="1978.5" y1="411.0" x2="1989.5" y2="400.0" stroke="#000" stroke-width="1.0"/>
<line x1="1984.0" y1="411.0" x2="1995.0" y2="400.0" stroke="#000" stroke-width="1.0"/>
<line x1="2081.0" y1="411.0" x2="2092.0" y2="400.0" stroke="#000" stroke-width="1.0"/>
<line x1="2086.5" y1="411.0" x2="2097.5" y2="400.0" stroke="#000" stroke-width="1.0"/>
<line x1="2092.0" y1="411.0" x2="2103.0" y2="400.0" stroke="#000" stroke-width="1.0"/>
<line x1="2179.0" y1="411.0" x2="2190.0" y2="400.0" stroke="#000" stroke-width="1.0"/>
<line x1="2184.5" y1="411.0" x2="2195.5" y2="400.0" stroke="#000" stroke-width="1.0"/>
<line x1="2190.0" y1="411.0" x2="2201.0" y2="400.0" stroke="#000" stroke-width="1.0"/>
<line x1="2295.0" y1="411.0" x2="2306.0" y2="400.0" stroke="#000" stroke-width="1.0"/>
<line x1="2300.5" y1="411.0" x2="2311.5" y2="400.0" stroke="#000" stroke-width="1.0"/>
<line x1="2306.0" y1="411.0" x2="2317.0" y2="400.0" stroke="#000" stroke-width="1.0"/>
<line x1="2439.0" y1="411.0" x2="2450.0" y2="400.0" stroke="#000" stroke-width="1.0"/>
<line x1="2444.5" y1="411.0" x2="2455.5" y2="400.0" stroke="#000" stroke-width="1.0"/>
<line x1="2450.0" y1="411.0" x2="2461.0" y2="400.0" stroke="#000" stroke-width="1.0"/>
<line x1="1455.1" y1="353.0" x2="2370.2" y2="353.0" stroke="#9bef7d" stroke-width="2.2" shape-rendering="crispEdges"/>
<line x1="1455.1" y1="354.5" x2="2370.2" y2="354.5" stroke="#5ac8d2" stroke-width="1" shape-rendering="crispEdges"/>
<line x1="1455.1" y1="360.0" x2="2370.2" y2="360.0" stroke="#9bef7d" stroke-width="2.2" shape-rendering="crispEdges"/>
<line x1="1456.0" y1="352.5" x2="1456.0" y2="361.0" stroke="#9bef7d" stroke-width="2" shape-rendering="crispEdges"/>
<line x1="2370.0" y1="352.5" x2="2370.0" y2="361.0" stroke="#9bef7d" stroke-width="2.5" shape-rendering="crispEdges"/>
<rect x="1540.5" y="353.3" width="23.5" height="22.7" fill="none" stroke="#9bef7d" stroke-width="1.6" shape-rendering="crispEdges"/>
<rect x="1540.5" y="353.3" width="23.5" height="6.7" fill="none" stroke="#5ac8d2" stroke-width="1" shape-rendering="crispEdges"/>
<line x1="1540.5" y1="353.0" x2="1564.0" y2="353.0" stroke="#000" stroke-width="2" shape-rendering="crispEdges"/>
<line x1="1542.5" y1="356.0" x2="1562.0" y2="356.0" stroke="#000" stroke-width="1.8" stroke-dasharray="1.5 2"/>
<rect x="1660.6" y="353.3" width="23.0" height="22.7" fill="none" stroke="#9bef7d" stroke-width="1.6" shape-rendering="crispEdges"/>
<rect x="1660.6" y="353.3" width="23.0" height="6.7" fill="none" stroke="#5ac8d2" stroke-width="1" shape-rendering="crispEdges"/>
<line x1="1660.6" y1="353.0" x2="1683.6" y2="353.0" stroke="#000" stroke-width="2" shape-rendering="crispEdges"/>
<line x1="1662.6" y1="356.0" x2="1681.6" y2="356.0" stroke="#000" stroke-width="1.8" stroke-dasharray="1.5 2"/>
<rect x="1835.3" y="353.3" width="23.3" height="22.7" fill="none" stroke="#9bef7d" stroke-width="1.6" shape-rendering="crispEdges"/>
<rect x="1835.3" y="353.3" width="23.3" height="6.7" fill="none" stroke="#5ac8d2" stroke-width="1" shape-rendering="crispEdges"/>
<line x1="1835.3" y1="353.0" x2="1858.6" y2="353.0" stroke="#000" stroke-width="2" shape-rendering="crispEdges"/>
<line x1="1837.3" y1="356.0" x2="1856.6" y2="356.0" stroke="#000" stroke-width="1.8" stroke-dasharray="1.5 2"/>
<rect x="1965.5" y="353.3" width="23.3" height="22.7" fill="none" stroke="#9bef7d" stroke-width="1.6" shape-rendering="crispEdges"/>
<rect x="1965.5" y="353.3" width="23.3" height="6.7" fill="none" stroke="#5ac8d2" stroke-width="1" shape-rendering="crispEdges"/>
<line x1="1965.5" y1="353.0" x2="1988.8" y2="353.0" stroke="#000" stroke-width="2" shape-rendering="crispEdges"/>
<line x1="1967.5" y1="356.0" x2="1986.8" y2="356.0" stroke="#000" stroke-width="1.8" stroke-dasharray="1.5 2"/>
<rect x="2140.1" y="353.3" width="23.3" height="22.7" fill="none" stroke="#9bef7d" stroke-width="1.6" shape-rendering="crispEdges"/>
<rect x="2140.1" y="353.3" width="23.3" height="6.7" fill="none" stroke="#5ac8d2" stroke-width="1" shape-rendering="crispEdges"/>
<line x1="2140.1" y1="353.0" x2="2163.4" y2="353.0" stroke="#000" stroke-width="2" shape-rendering="crispEdges"/>
<line x1="2142.1" y1="356.0" x2="2161.4" y2="356.0" stroke="#000" stroke-width="1.8" stroke-dasharray="1.5 2"/>
<rect x="2261.3" y="353.3" width="22.4" height="22.7" fill="none" stroke="#9bef7d" stroke-width="1.6" shape-rendering="crispEdges"/>
<rect x="2261.3" y="353.3" width="22.4" height="6.7" fill="none" stroke="#5ac8d2" stroke-width="1" shape-rendering="crispEdges"/>
<line x1="2261.3" y1="353.0" x2="2283.7" y2="353.0" stroke="#000" stroke-width="2" shape-rendering="crispEdges"/>
<line x1="2263.3" y1="356.0" x2="2281.7" y2="356.0" stroke="#000" stroke-width="1.8" stroke-dasharray="1.5 2"/>
<rect x="1445.4" y="422.3" width="38.0" height="304.7" fill="none" stroke="#000" stroke-width="1" shape-rendering="crispEdges"/>
<line x1="1457.5" y1="353.0" x2="1457.5" y2="483.2" stroke="#000" stroke-width="1" shape-rendering="crispEdges"/>
<line x1="1470.5" y1="353.0" x2="1470.5" y2="483.2" stroke="#000" stroke-width="1" shape-rendering="crispEdges"/>
<line x1="1457.6" y1="483.5" x2="1470.6" y2="483.5" stroke="#000" stroke-width="1" shape-rendering="crispEdges"/>
<line x1="1464.5" y1="353.0" x2="1464.5" y2="727.0" stroke="#000" stroke-width="1" stroke-dasharray="9 3 1.5 3" shape-rendering="crispEdges"/>
<line x1="1464.5" y1="727.0" x2="1464.5" y2="817.5" stroke="#000" stroke-width="1" shape-rendering="crispEdges"/>
<rect x="1740.3" y="422.3" width="38.0" height="304.7" fill="none" stroke="#000" stroke-width="1" shape-rendering="crispEdges"/>
<line x1="1752.5" y1="353.0" x2="1752.5" y2="483.2" stroke="#000" stroke-width="1" shape-rendering="crispEdges"/>
<line x1="1765.5" y1="353.0" x2="1765.5" y2="483.2" stroke="#000" stroke-width="1" shape-rendering="crispEdges"/>
<line x1="1752.5" y1="483.5" x2="1765.5" y2="483.5" stroke="#000" stroke-width="1" shape-rendering="crispEdges"/>
<line x1="1759.5" y1="353.0" x2="1759.5" y2="727.0" stroke="#000" stroke-width="1" stroke-dasharray="9 3 1.5 3" shape-rendering="crispEdges"/>
<line x1="1759.5" y1="727.0" x2="1759.5" y2="817.5" stroke="#000" stroke-width="1" shape-rendering="crispEdges"/>
<rect x="2045.3" y="422.3" width="38.0" height="304.7" fill="none" stroke="#000" stroke-width="1" shape-rendering="crispEdges"/>
<line x1="2057.5" y1="353.0" x2="2057.5" y2="483.2" stroke="#000" stroke-width="1" shape-rendering="crispEdges"/>
<line x1="2070.5" y1="353.0" x2="2070.5" y2="483.2" stroke="#000" stroke-width="1" shape-rendering="crispEdges"/>
<line x1="2057.5" y1="483.5" x2="2070.5" y2="483.5" stroke="#000" stroke-width="1" shape-rendering="crispEdges"/>
<line x1="2064.5" y1="353.0" x2="2064.5" y2="727.0" stroke="#000" stroke-width="1" stroke-dasharray="9 3 1.5 3" shape-rendering="crispEdges"/>
<line x1="2064.5" y1="727.0" x2="2064.5" y2="817.5" stroke="#000" stroke-width="1" shape-rendering="crispEdges"/>
<rect x="2341.4" y="422.3" width="38.0" height="304.7" fill="none" stroke="#000" stroke-width="1" shape-rendering="crispEdges"/>
<line x1="2353.5" y1="353.0" x2="2353.5" y2="483.2" stroke="#000" stroke-width="1" shape-rendering="crispEdges"/>
<line x1="2366.5" y1="353.0" x2="2366.5" y2="483.2" stroke="#000" stroke-width="1" shape-rendering="crispEdges"/>
<line x1="2353.6" y1="483.5" x2="2366.6" y2="483.5" stroke="#000" stroke-width="1" shape-rendering="crispEdges"/>
<line x1="2360.5" y1="353.0" x2="2360.5" y2="727.0" stroke="#000" stroke-width="1" stroke-dasharray="9 3 1.5 3" shape-rendering="crispEdges"/>
<line x1="2360.5" y1="727.0" x2="2360.5" y2="817.5" stroke="#000" stroke-width="1" shape-rendering="crispEdges"/>
<line x1="1476.8" y1="387.9" x2="1559.8" y2="369.9" stroke="#9bef7d" stroke-width="2"/>
<line x1="1475.2" y1="380.1" x2="1558.2" y2="362.1" stroke="#9bef7d" stroke-width="2"/>
<line x1="1476.3" y1="385.5" x2="1559.3" y2="367.5" stroke="#5ac8d2" stroke-width="1.2"/>
<line x1="1475.7" y1="382.8" x2="1558.7" y2="364.8" stroke="#5ac8d2" stroke-width="1.0"/>
<line x1="1665.2" y1="369.9" x2="1750.2" y2="387.9" stroke="#9bef7d" stroke-width="2"/>
<line x1="1666.8" y1="362.1" x2="1751.8" y2="380.1" stroke="#9bef7d" stroke-width="2"/>
<line x1="1665.7" y1="367.5" x2="1750.7" y2="385.5" stroke="#5ac8d2" stroke-width="1.2"/>
<line x1="1666.2" y1="364.8" x2="1751.2" y2="382.8" stroke="#5ac8d2" stroke-width="1.0"/>
<line x1="1771.8" y1="387.9" x2="1854.8" y2="369.9" stroke="#9bef7d" stroke-width="2"/>
<line x1="1770.2" y1="380.1" x2="1853.2" y2="362.1" stroke="#9bef7d" stroke-width="2"/>
<line x1="1771.3" y1="385.5" x2="1854.3" y2="367.5" stroke="#5ac8d2" stroke-width="1.2"/>
<line x1="1770.7" y1="382.8" x2="1853.7" y2="364.8" stroke="#5ac8d2" stroke-width="1.0"/>
<line x1="1969.2" y1="369.9" x2="2054.2" y2="387.9" stroke="#9bef7d" stroke-width="2"/>
<line x1="1970.8" y1="362.1" x2="2055.8" y2="380.1" stroke="#9bef7d" stroke-width="2"/>
<line x1="1969.7" y1="367.5" x2="2054.7" y2="385.5" stroke="#5ac8d2" stroke-width="1.2"/>
<line x1="1970.2" y1="364.8" x2="2055.2" y2="382.8" stroke="#5ac8d2" stroke-width="1.0"/>
<line x1="2076.8" y1="387.9" x2="2159.8" y2="369.9" stroke="#9bef7d" stroke-width="2"/>
<line x1="2075.2" y1="380.1" x2="2158.2" y2="362.1" stroke="#9bef7d" stroke-width="2"/>
<line x1="2076.3" y1="385.5" x2="2159.3" y2="367.5" stroke="#5ac8d2" stroke-width="1.2"/>
<line x1="2075.7" y1="382.8" x2="2158.7" y2="364.8" stroke="#5ac8d2" stroke-width="1.0"/>
<line x1="2265.2" y1="369.9" x2="2349.2" y2="387.9" stroke="#9bef7d" stroke-width="2"/>
<line x1="2266.8" y1="362.1" x2="2350.8" y2="380.1" stroke="#9bef7d" stroke-width="2"/>
<line x1="2265.7" y1="367.5" x2="2349.7" y2="385.5" stroke="#5ac8d2" stroke-width="1.2"/>
<line x1="2266.3" y1="364.8" x2="2350.3" y2="382.8" stroke="#5ac8d2" stroke-width="1.0"/>
<rect x="1470.9" y="376.0" width="15.5" height="15.0" fill="none" stroke="#9bef7d" stroke-width="1.4" shape-rendering="crispEdges"/>
<line x1="1471.9" y1="378.0" x2="1484.9" y2="378.0" stroke="#000" stroke-width="1.8" stroke-dasharray="1.5 2"/>
<line x1="1471.9" y1="389.0" x2="1484.9" y2="389.0" stroke="#000" stroke-width="1.8" stroke-dasharray="1.5 2"/>
<rect x="1737.3" y="376.0" width="15.5" height="15.0" fill="none" stroke="#9bef7d" stroke-width="1.4" shape-rendering="crispEdges"/>
<line x1="1738.3" y1="378.0" x2="1751.3" y2="378.0" stroke="#000" stroke-width="1.8" stroke-dasharray="1.5 2"/>
<line x1="1738.3" y1="389.0" x2="1751.3" y2="389.0" stroke="#000" stroke-width="1.8" stroke-dasharray="1.5 2"/>
<rect x="1765.8" y="376.0" width="15.5" height="15.0" fill="none" stroke="#9bef7d" stroke-width="1.4" shape-rendering="crispEdges"/>
<line x1="1766.8" y1="378.0" x2="1779.8" y2="378.0" stroke="#000" stroke-width="1.8" stroke-dasharray="1.5 2"/>
<line x1="1766.8" y1="389.0" x2="1779.8" y2="389.0" stroke="#000" stroke-width="1.8" stroke-dasharray="1.5 2"/>
<rect x="2042.3" y="376.0" width="15.5" height="15.0" fill="none" stroke="#9bef7d" stroke-width="1.4" shape-rendering="crispEdges"/>
<line x1="2043.3" y1="378.0" x2="2056.3" y2="378.0" stroke="#000" stroke-width="1.8" stroke-dasharray="1.5 2"/>
<line x1="2043.3" y1="389.0" x2="2056.3" y2="389.0" stroke="#000" stroke-width="1.8" stroke-dasharray="1.5 2"/>
<rect x="2070.8" y="376.0" width="15.5" height="15.0" fill="none" stroke="#9bef7d" stroke-width="1.4" shape-rendering="crispEdges"/>
<line x1="2071.8" y1="378.0" x2="2084.8" y2="378.0" stroke="#000" stroke-width="1.8" stroke-dasharray="1.5 2"/>
<line x1="2071.8" y1="389.0" x2="2084.8" y2="389.0" stroke="#000" stroke-width="1.8" stroke-dasharray="1.5 2"/>
<rect x="2338.4" y="376.0" width="15.5" height="15.0" fill="none" stroke="#9bef7d" stroke-width="1.4" shape-rendering="crispEdges"/>
<line x1="2339.4" y1="378.0" x2="2352.4" y2="378.0" stroke="#000" stroke-width="1.8" stroke-dasharray="1.5 2"/>
<line x1="2339.4" y1="389.0" x2="2352.4" y2="389.0" stroke="#000" stroke-width="1.8" stroke-dasharray="1.5 2"/>
<line x1="1542.5" y1="364.0" x2="1561.0" y2="364.0" stroke="#000" stroke-width="1.8" stroke-dasharray="1.5 2"/>
<line x1="1542.5" y1="374.0" x2="1561.0" y2="374.0" stroke="#000" stroke-width="1.8" stroke-dasharray="1.5 2"/>
<line x1="1662.6" y1="364.0" x2="1680.6" y2="364.0" stroke="#000" stroke-width="1.8" stroke-dasharray="1.5 2"/>
<line x1="1662.6" y1="374.0" x2="1680.6" y2="374.0" stroke="#000" stroke-width="1.8" stroke-dasharray="1.5 2"/>
<line x1="1837.3" y1="364.0" x2="1855.6" y2="364.0" stroke="#000" stroke-width="1.8" stroke-dasharray="1.5 2"/>
<line x1="1837.3" y1="374.0" x2="1855.6" y2="374.0" stroke="#000" stroke-width="1.8" stroke-dasharray="1.5 2"/>
<line x1="1967.5" y1="364.0" x2="1985.8" y2="364.0" stroke="#000" stroke-width="1.8" stroke-dasharray="1.5 2"/>
<line x1="1967.5" y1="374.0" x2="1985.8" y2="374.0" stroke="#000" stroke-width="1.8" stroke-dasharray="1.5 2"/>
<line x1="2142.1" y1="364.0" x2="2160.4" y2="364.0" stroke="#000" stroke-width="1.8" stroke-dasharray="1.5 2"/>
<line x1="2142.1" y1="374.0" x2="2160.4" y2="374.0" stroke="#000" stroke-width="1.8" stroke-dasharray="1.5 2"/>
<line x1="2263.3" y1="364.0" x2="2280.7" y2="364.0" stroke="#000" stroke-width="1.8" stroke-dasharray="1.5 2"/>
<line x1="2263.3" y1="374.0" x2="2280.7" y2="374.0" stroke="#000" stroke-width="1.8" stroke-dasharray="1.5 2"/>
<line x1="1540.5" y1="383.5" x2="1540.5" y2="561.0" stroke="#000" stroke-width="1" shape-rendering="crispEdges"/>
<line x1="1564.5" y1="383.5" x2="1564.5" y2="561.0" stroke="#000" stroke-width="1" shape-rendering="crispEdges"/>
<line x1="1660.5" y1="383.5" x2="1660.5" y2="561.0" stroke="#000" stroke-width="1" shape-rendering="crispEdges"/>
<line x1="1683.5" y1="383.5" x2="1683.5" y2="561.0" stroke="#000" stroke-width="1" shape-rendering="crispEdges"/>
<line x1="1835.5" y1="383.5" x2="1835.5" y2="561.0" stroke="#000" stroke-width="1" shape-rendering="crispEdges"/>
<line x1="1858.5" y1="383.5" x2="1858.5" y2="561.0" stroke="#000" stroke-width="1" shape-rendering="crispEdges"/>
<line x1="1965.5" y1="383.5" x2="1965.5" y2="561.0" stroke="#000" stroke-width="1" shape-rendering="crispEdges"/>
<line x1="1988.5" y1="383.5" x2="1988.5" y2="561.0" stroke="#000" stroke-width="1" shape-rendering="crispEdges"/>
<line x1="2140.5" y1="383.5" x2="2140.5" y2="561.0" stroke="#000" stroke-width="1" shape-rendering="crispEdges"/>
<line x1="2163.5" y1="383.5" x2="2163.5" y2="561.0" stroke="#000" stroke-width="1" shape-rendering="crispEdges"/>
<line x1="2261.5" y1="383.5" x2="2261.5" y2="561.0" stroke="#000" stroke-width="1" shape-rendering="crispEdges"/>
<line x1="2283.5" y1="383.5" x2="2283.5" y2="561.0" stroke="#000" stroke-width="1" shape-rendering="crispEdges"/>
<line x1="1455.0" y1="553.5" x2="1875.0" y2="553.5" stroke="#000" stroke-width="1" shape-rendering="crispEdges"/>
<line x1="1949.5" y1="553.5" x2="2367.5" y2="553.5" stroke="#000" stroke-width="1" shape-rendering="crispEdges"/>
<line x1="1456.4" y1="561.2" x2="1472.4" y2="545.2" stroke="#000" stroke-width="2.6"/>
<line x1="1531.9" y1="561.2" x2="1547.9" y2="545.2" stroke="#000" stroke-width="2.6"/>
<line x1="1554.9" y1="561.2" x2="1570.9" y2="545.2" stroke="#000" stroke-width="2.6"/>
<line x1="1652.2" y1="561.2" x2="1668.2" y2="545.2" stroke="#000" stroke-width="2.6"/>
<line x1="1675.2" y1="561.2" x2="1691.2" y2="545.2" stroke="#000" stroke-width="2.6"/>
<line x1="1751.3" y1="561.2" x2="1767.3" y2="545.2" stroke="#000" stroke-width="2.6"/>
<line x1="1826.9" y1="561.2" x2="1842.9" y2="545.2" stroke="#000" stroke-width="2.6"/>
<line x1="1850.7" y1="561.2" x2="1866.7" y2="545.2" stroke="#000" stroke-width="2.6"/>
<line x1="1957.6" y1="561.2" x2="1973.6" y2="545.2" stroke="#000" stroke-width="2.6"/>
<line x1="1980.0" y1="561.2" x2="1996.0" y2="545.2" stroke="#000" stroke-width="2.6"/>
<line x1="2055.8" y1="561.2" x2="2071.8" y2="545.2" stroke="#000" stroke-width="2.6"/>
<line x1="2131.7" y1="561.2" x2="2147.7" y2="545.2" stroke="#000" stroke-width="2.6"/>
<line x1="2154.8" y1="561.2" x2="2170.8" y2="545.2" stroke="#000" stroke-width="2.6"/>
<line x1="2253.5" y1="561.2" x2="2269.5" y2="545.2" stroke="#000" stroke-width="2.6"/>
<line x1="2275.9" y1="561.2" x2="2291.9" y2="545.2" stroke="#000" stroke-width="2.6"/>
<line x1="2352.2" y1="561.2" x2="2368.2" y2="545.2" stroke="#000" stroke-width="2.6"/>
<g fill="none" stroke="#000" stroke-width="1.62" stroke-linecap="round" stroke-linejoin="round">
<use href="#g4" transform="translate(1484.2,548.8) skewX(-11) translate(0,-16.4) scale(7.34,16.38)"/>
<use href="#g6" transform="translate(1496.8,548.8) skewX(-11) translate(0,-16.4) scale(7.34,16.38)"/>
<use href="#g6" transform="translate(1509.4,548.8) skewX(-11) translate(0,-16.4) scale(7.34,16.38)"/>
</g>
<g fill="none" stroke="#000" stroke-width="1.62" stroke-linecap="round" stroke-linejoin="round">
<use href="#g0" transform="translate(1537.1,548.8) skewX(-11) translate(0,-16.4) scale(3.19,16.38)"/>
<use href="#g4" transform="translate(1545.3,548.8) skewX(-11) translate(0,-16.4) scale(6.71,16.38)"/>
<use href="#g6" transform="translate(1557.0,548.8) skewX(-11) translate(0,-16.4) scale(6.71,16.38)"/>
</g>
<g fill="none" stroke="#000" stroke-width="1.62" stroke-linecap="round" stroke-linejoin="round">
<use href="#g5" transform="translate(1592.4,548.8) skewX(-11) translate(0,-16.4) scale(7.44,16.38)"/>
<use href="#g3" transform="translate(1605.1,548.8) skewX(-11) translate(0,-16.4) scale(8.84,16.38)"/>
<use href="#g6" transform="translate(1619.2,548.8) skewX(-11) translate(0,-16.4) scale(7.44,16.38)"/>
</g>
<g fill="none" stroke="#000" stroke-width="1.62" stroke-linecap="round" stroke-linejoin="round">
<use href="#g0" transform="translate(1657.8,548.8) skewX(-11) translate(0,-16.4) scale(3.24,16.38)"/>
<use href="#g4" transform="translate(1666.1,548.8) skewX(-11) translate(0,-16.4) scale(6.80,16.38)"/>
<use href="#g6" transform="translate(1677.9,548.8) skewX(-11) translate(0,-16.4) scale(6.80,16.38)"/>
</g>
<g fill="none" stroke="#000" stroke-width="1.62" stroke-linecap="round" stroke-linejoin="round">
<use href="#g4" transform="translate(1702.8,548.8) skewX(-11) translate(0,-16.4) scale(7.36,16.38)"/>
<use href="#g6" transform="translate(1715.4,548.8) skewX(-11) translate(0,-16.4) scale(7.36,16.38)"/>
<use href="#g6" transform="translate(1728.0,548.8) skewX(-11) translate(0,-16.4) scale(7.36,16.38)"/>
</g>
<g fill="none" stroke="#000" stroke-width="1.62" stroke-linecap="round" stroke-linejoin="round">
<use href="#g4" transform="translate(1779.8,548.8) skewX(-11) translate(0,-16.4) scale(7.18,16.38)"/>
<use href="#g6" transform="translate(1792.2,548.8) skewX(-11) translate(0,-16.4) scale(7.18,16.38)"/>
<use href="#g6" transform="translate(1804.5,548.8) skewX(-11) translate(0,-16.4) scale(7.18,16.38)"/>
</g>
<g fill="none" stroke="#000" stroke-width="1.62" stroke-linecap="round" stroke-linejoin="round">
<use href="#g0" transform="translate(1833.3,548.8) skewX(-11) translate(0,-16.4) scale(3.15,16.38)"/>
<use href="#g4" transform="translate(1841.4,548.8) skewX(-11) translate(0,-16.4) scale(6.65,16.38)"/>
<use href="#g6" transform="translate(1853.0,548.8) skewX(-11) translate(0,-16.4) scale(6.65,16.38)"/>
</g>
<g fill="none" stroke="#000" stroke-width="1.62" stroke-linecap="round" stroke-linejoin="round">
<use href="#g0" transform="translate(1962.7,548.8) skewX(-11) translate(0,-16.4) scale(3.20,16.38)"/>
<use href="#g4" transform="translate(1970.9,548.8) skewX(-11) translate(0,-16.4) scale(6.74,16.38)"/>
<use href="#g6" transform="translate(1982.6,548.8) skewX(-11) translate(0,-16.4) scale(6.74,16.38)"/>
</g>
<g fill="none" stroke="#000" stroke-width="1.62" stroke-linecap="round" stroke-linejoin="round">
<use href="#g4" transform="translate(2007.9,548.8) skewX(-11) translate(0,-16.4) scale(7.47,16.38)"/>
<use href="#g6" transform="translate(2020.7,548.8) skewX(-11) translate(0,-16.4) scale(7.47,16.38)"/>
<use href="#g6" transform="translate(2033.4,548.8) skewX(-11) translate(0,-16.4) scale(7.47,16.38)"/>
</g>
<g fill="none" stroke="#000" stroke-width="1.62" stroke-linecap="round" stroke-linejoin="round">
<use href="#g4" transform="translate(2084.5,548.8) skewX(-11) translate(0,-16.4) scale(7.26,16.38)"/>
<use href="#g6" transform="translate(2097.0,548.8) skewX(-11) translate(0,-16.4) scale(7.26,16.38)"/>
<use href="#g6" transform="translate(2109.4,548.8) skewX(-11) translate(0,-16.4) scale(7.26,16.38)"/>
</g>
<g fill="none" stroke="#000" stroke-width="1.62" stroke-linecap="round" stroke-linejoin="round">
<use href="#g0" transform="translate(2138.0,548.8) skewX(-11) translate(0,-16.4) scale(3.49,16.38)"/>
<use href="#g4" transform="translate(2146.7,548.8) skewX(-11) translate(0,-16.4) scale(7.24,16.38)"/>
<use href="#g6" transform="translate(2159.1,548.8) skewX(-11) translate(0,-16.4) scale(7.24,16.38)"/>
</g>
<g fill="none" stroke="#000" stroke-width="1.62" stroke-linecap="round" stroke-linejoin="round">
<use href="#g5" transform="translate(2192.7,548.8) skewX(-11) translate(0,-16.4) scale(7.54,16.38)"/>
<use href="#g3" transform="translate(2205.6,548.8) skewX(-11) translate(0,-16.4) scale(8.95,16.38)"/>
<use href="#g6" transform="translate(2219.8,548.8) skewX(-11) translate(0,-16.4) scale(7.54,16.38)"/>
</g>
<g fill="none" stroke="#000" stroke-width="1.62" stroke-linecap="round" stroke-linejoin="round">
<use href="#g0" transform="translate(2259.8,548.8) skewX(-11) translate(0,-16.4) scale(3.29,16.38)"/>
<use href="#g4" transform="translate(2268.2,548.8) skewX(-11) translate(0,-16.4) scale(6.89,16.38)"/>
<use href="#g6" transform="translate(2280.1,548.8) skewX(-11) translate(0,-16.4) scale(6.89,16.38)"/>
</g>
<g fill="none" stroke="#000" stroke-width="1.62" stroke-linecap="round" stroke-linejoin="round">
<use href="#g4" transform="translate(2303.3,548.8) skewX(-11) translate(0,-16.4) scale(7.26,16.38)"/>
<use href="#g6" transform="translate(2315.8,548.8) skewX(-11) translate(0,-16.4) scale(7.26,16.38)"/>
<use href="#g6" transform="translate(2328.2,548.8) skewX(-11) translate(0,-16.4) scale(7.26,16.38)"/>
</g>
<line x1="1759.6" y1="527.5" x2="2064.3" y2="527.5" stroke="#000" stroke-width="1" shape-rendering="crispEdges"/>
<line x1="1456.0" y1="810.5" x2="2367.5" y2="810.5" stroke="#000" stroke-width="1" shape-rendering="crispEdges"/>
<line x1="1456.4" y1="818.0" x2="1472.4" y2="802.0" stroke="#000" stroke-width="2.6"/>
<line x1="1751.3" y1="818.0" x2="1767.3" y2="802.0" stroke="#000" stroke-width="2.6"/>
<line x1="2056.3" y1="818.0" x2="2072.3" y2="802.0" stroke="#000" stroke-width="2.6"/>
<line x1="2352.4" y1="818.0" x2="2368.4" y2="802.0" stroke="#000" stroke-width="2.6"/>
<g fill="none" stroke="#000" stroke-width="1.63" stroke-linecap="round" stroke-linejoin="round">
<use href="#g0" transform="translate(1589.2,805.3) skewX(-11) translate(0,-16.5) scale(3.51,16.47)"/>
<use href="#g9" transform="translate(1597.9,805.3) skewX(-11) translate(0,-16.5) scale(7.27,16.47)"/>
<use href="#g3" transform="translate(1610.4,805.3) skewX(-11) translate(0,-16.5) scale(8.64,16.47)"/>
<use href="#g6" transform="translate(1624.3,805.3) skewX(-11) translate(0,-16.5) scale(7.27,16.47)"/>
</g>
<g fill="none" stroke="#000" stroke-width="1.63" stroke-linecap="round" stroke-linejoin="round">
<use href="#g1" transform="translate(1888.0,805.3) skewX(-11) translate(0,-16.5) scale(7.58,16.47)"/>
<use href="#g6" transform="translate(1900.9,805.3) skewX(-11) translate(0,-16.5) scale(7.41,16.47)"/>
<use href="#g6" transform="translate(1913.6,805.3) skewX(-11) translate(0,-16.5) scale(7.41,16.47)"/>
<use href="#g6" transform="translate(1926.3,805.3) skewX(-11) translate(0,-16.5) scale(7.41,16.47)"/>
</g>
<g fill="none" stroke="#000" stroke-width="1.63" stroke-linecap="round" stroke-linejoin="round">
<use href="#g0" transform="translate(2190.1,805.3) skewX(-11) translate(0,-16.5) scale(3.51,16.47)"/>
<use href="#g9" transform="translate(2198.8,805.3) skewX(-11) translate(0,-16.5) scale(7.27,16.47)"/>
<use href="#g3" transform="translate(2211.3,805.3) skewX(-11) translate(0,-16.5) scale(8.64,16.47)"/>
<use href="#g6" transform="translate(2225.2,805.3) skewX(-11) translate(0,-16.5) scale(7.27,16.47)"/>
</g>
<polyline points="1464.5,672.5 1534.5,738.5 1770.5,738.5" fill="none" stroke="#000" stroke-width="1.0"/>
<g fill="none" stroke="#000" stroke-width="1.80" stroke-linecap="round" stroke-linejoin="round">
<use href="#g33" transform="translate(1553.1,729.1) skewX(-15) translate(0,-18.2) scale(10.54,18.20)"/>
<use href="#g41" transform="translate(1569.9,729.1) skewX(-15) translate(0,-18.2) scale(8.84,18.20)"/>
<use href="#g39" transform="translate(1585.0,729.1) skewX(-15) translate(0,-18.2) scale(8.84,18.20)"/>
<use href="#g65" transform="translate(1600.1,729.1) skewX(-15) translate(0,-18.2) scale(8.41,18.20)"/>
<use href="#g40" transform="translate(1626.9,729.1) skewX(-15) translate(0,-18.2) scale(8.84,18.20)"/>
<use href="#g55" transform="translate(1642.0,729.1) skewX(-15) translate(0,-18.2) scale(8.84,18.20)"/>
<use href="#g52" transform="translate(1657.1,729.1) skewX(-15) translate(0,-18.2) scale(8.84,18.20)"/>
<use href="#g50" transform="translate(1672.2,729.1) skewX(-15) translate(0,-18.2) scale(8.84,18.20)"/>
<use href="#g49" transform="translate(1687.3,729.1) skewX(-15) translate(0,-18.2) scale(8.84,18.20)"/>
<use href="#g39" transform="translate(1702.4,729.1) skewX(-15) translate(0,-18.2) scale(8.84,18.20)"/>
<use href="#g40" transform="translate(1717.5,729.1) skewX(-15) translate(0,-18.2) scale(8.84,18.20)"/>
<use href="#g45" transform="translate(1732.6,729.1) skewX(-15) translate(0,-18.2) scale(8.84,18.20)"/>
<use href="#g41" transform="translate(1747.7,729.1) skewX(-15) translate(0,-18.2) scale(8.84,18.20)"/>
<use href="#g49" transform="translate(1762.8,729.1) skewX(-15) translate(0,-18.2) scale(8.84,18.20)"/>
<use href="#g39" transform="translate(1777.9,729.1) skewX(-15) translate(0,-18.2) scale(8.84,18.20)"/>
<use href="#g65" transform="translate(1793.0,729.1) skewX(-15) translate(0,-18.2) scale(8.41,18.20)"/>
</g>
<g fill="none" stroke="#000" stroke-width="1.73" stroke-linecap="round" stroke-linejoin="round">
<use href="#g53" transform="translate(1581.4,758.9) skewX(-15) translate(0,-17.5) scale(7.93,17.47)"/>
<use href="#g48" transform="translate(1595.4,758.9) skewX(-15) translate(0,-17.5) scale(10.87,17.47)"/>
<use href="#g11" transform="translate(1612.4,758.9) skewX(-15) translate(0,-17.5) scale(0.37,17.47)"/>
<use href="#g27" transform="translate(1630.9,758.9) skewX(-15) translate(0,-17.5) scale(10.45,17.47)"/>
<use href="#g45" transform="translate(1647.5,758.9) skewX(-15) translate(0,-17.5) scale(8.77,17.47)"/>
<use href="#g53" transform="translate(1662.4,758.9) skewX(-15) translate(0,-17.5) scale(7.93,17.47)"/>
<use href="#g54" transform="translate(1676.4,758.9) skewX(-15) translate(0,-17.5) scale(11.28,17.47)"/>
<use href="#g2" transform="translate(1705.8,758.9) skewX(-15) translate(0,-17.5) scale(8.77,17.47)"/>
</g>
<polyline points="1759.5,672.5 1830.5,738.5 2066.5,738.5" fill="none" stroke="#000" stroke-width="1.0"/>
<g fill="none" stroke="#000" stroke-width="1.80" stroke-linecap="round" stroke-linejoin="round">
<use href="#g33" transform="translate(1848.1,729.1) skewX(-15) translate(0,-18.2) scale(10.57,18.20)"/>
<use href="#g41" transform="translate(1865.0,729.1) skewX(-15) translate(0,-18.2) scale(8.87,18.20)"/>
<use href="#g39" transform="translate(1880.1,729.1) skewX(-15) translate(0,-18.2) scale(8.87,18.20)"/>
<use href="#g65" transform="translate(1895.2,729.1) skewX(-15) translate(0,-18.2) scale(8.44,18.20)"/>
<use href="#g40" transform="translate(1922.1,729.1) skewX(-15) translate(0,-18.2) scale(8.87,18.20)"/>
<use href="#g55" transform="translate(1937.3,729.1) skewX(-15) translate(0,-18.2) scale(8.87,18.20)"/>
<use href="#g52" transform="translate(1952.4,729.1) skewX(-15) translate(0,-18.2) scale(8.87,18.20)"/>
<use href="#g50" transform="translate(1967.5,729.1) skewX(-15) translate(0,-18.2) scale(8.87,18.20)"/>
<use href="#g49" transform="translate(1982.7,729.1) skewX(-15) translate(0,-18.2) scale(8.87,18.20)"/>
<use href="#g39" transform="translate(1997.8,729.1) skewX(-15) translate(0,-18.2) scale(8.87,18.20)"/>
<use href="#g40" transform="translate(2013.0,729.1) skewX(-15) translate(0,-18.2) scale(8.87,18.20)"/>
<use href="#g45" transform="translate(2028.1,729.1) skewX(-15) translate(0,-18.2) scale(8.87,18.20)"/>
<use href="#g41" transform="translate(2043.3,729.1) skewX(-15) translate(0,-18.2) scale(8.87,18.20)"/>
<use href="#g49" transform="translate(2058.4,729.1) skewX(-15) translate(0,-18.2) scale(8.87,18.20)"/>
<use href="#g39" transform="translate(2073.6,729.1) skewX(-15) translate(0,-18.2) scale(8.87,18.20)"/>
<use href="#g65" transform="translate(2088.7,729.1) skewX(-15) translate(0,-18.2) scale(8.44,18.20)"/>
</g>
<g fill="none" stroke="#000" stroke-width="1.73" stroke-linecap="round" stroke-linejoin="round">
<use href="#g53" transform="translate(1876.4,758.9) skewX(-15) translate(0,-17.5) scale(7.91,17.47)"/>
<use href="#g48" transform="translate(1890.4,758.9) skewX(-15) translate(0,-17.5) scale(10.84,17.47)"/>
<use href="#g11" transform="translate(1907.4,758.9) skewX(-15) translate(0,-17.5) scale(0.37,17.47)"/>
<use href="#g27" transform="translate(1925.8,758.9) skewX(-15) translate(0,-17.5) scale(10.42,17.47)"/>
<use href="#g45" transform="translate(1942.3,758.9) skewX(-15) translate(0,-17.5) scale(8.74,17.47)"/>
<use href="#g53" transform="translate(1957.2,758.9) skewX(-15) translate(0,-17.5) scale(7.91,17.47)"/>
<use href="#g54" transform="translate(1971.2,758.9) skewX(-15) translate(0,-17.5) scale(11.26,17.47)"/>
<use href="#g2" transform="translate(2000.5,758.9) skewX(-15) translate(0,-17.5) scale(8.74,17.47)"/>
</g>
<g fill="none" stroke="#000" stroke-width="3.61" stroke-linecap="round" stroke-linejoin="round">
<use href="#g4" transform="translate(1482.6,269.0) scale(15.89,34.39)"/>
</g>
<polyline points="1462.5,309.5 1519.5,309.5 1540.5,361.5" fill="none" stroke="#000" stroke-width="1.0"/>
<g fill="none" stroke="#000" stroke-width="3.61" stroke-linecap="round" stroke-linejoin="round">
<use href="#g4" transform="translate(1550.6,269.0) scale(15.89,34.39)"/>
</g>
<polyline points="1530.5,309.5 1587.5,309.5 1668.5,363.5" fill="none" stroke="#000" stroke-width="1.0"/>
<g fill="none" stroke="#000" stroke-width="3.61" stroke-linecap="round" stroke-linejoin="round">
<use href="#g2" transform="translate(1684.4,269.0) scale(15.79,34.39)"/>
</g>
<polyline points="1663.5,309.5 1721.5,309.5 1785.5,353.5" fill="none" stroke="#000" stroke-width="1.0"/>
<g fill="none" stroke="#000" stroke-width="3.61" stroke-linecap="round" stroke-linejoin="round">
<use href="#g4" transform="translate(1855.5,269.0) scale(16.29,34.39)"/>
</g>
<polyline points="1834.5,309.5 1892.5,309.5 1855.5,363.5" fill="none" stroke="#000" stroke-width="1.0"/>
<line x1="1892.6" y1="309.3" x2="1968.5" y2="358.5" stroke="#000" stroke-width="1"/>
<g fill="none" stroke="#000" stroke-width="3.61" stroke-linecap="round" stroke-linejoin="round">
<use href="#g4" transform="translate(2256.2,269.0) scale(16.29,34.39)"/>
</g>
<polyline points="2294.5,309.5 2236.5,309.5 2161.5,358.5" fill="none" stroke="#000" stroke-width="1.0"/>
<g fill="none" stroke="#000" stroke-width="3.61" stroke-linecap="round" stroke-linejoin="round">
<use href="#g4" transform="translate(2324.0,269.0) scale(16.29,34.39)"/>
</g>
<polyline points="2362.5,309.5 2304.5,309.5 2285.5,358.5" fill="none" stroke="#000" stroke-width="1.0"/>
<g fill="none" stroke="#000" stroke-width="3.53" stroke-linecap="round" stroke-linejoin="round">
<use href="#g5" transform="translate(1401.8,420.3) scale(15.27,33.67)"/>
</g>
<polyline points="1380.5,459.5 1438.5,459.5 1470.5,392.5" fill="none" stroke="#000" stroke-width="1.0"/>
<g fill="none" stroke="#000" stroke-width="3.53" stroke-linecap="round" stroke-linejoin="round">
<use href="#g5" transform="translate(1674.5,420.3) scale(17.57,33.67)"/>
</g>
<polyline points="1655.5,459.5 1712.5,459.5 1745.5,392.5" fill="none" stroke="#000" stroke-width="1.0"/>
<g fill="none" stroke="#000" stroke-width="3.53" stroke-linecap="round" stroke-linejoin="round">
<use href="#g5" transform="translate(1827.5,420.3) scale(15.47,33.67)"/>
</g>
<polyline points="1864.5,459.5 1807.5,459.5 1773.5,392.5" fill="none" stroke="#000" stroke-width="1.0"/>
<g fill="none" stroke="#000" stroke-width="3.53" stroke-linecap="round" stroke-linejoin="round">
<use href="#g5" transform="translate(1980.3,420.3) scale(16.37,33.67)"/>
</g>
<polyline points="1960.5,459.5 2017.5,459.5 2050.5,392.5" fill="none" stroke="#000" stroke-width="1.0"/>
<g fill="none" stroke="#000" stroke-width="3.53" stroke-linecap="round" stroke-linejoin="round">
<use href="#g5" transform="translate(2132.3,420.3) scale(16.37,33.67)"/>
</g>
<polyline points="2168.5,459.5 2111.5,459.5 2077.5,392.5" fill="none" stroke="#000" stroke-width="1.0"/>
<g fill="none" stroke="#000" stroke-width="3.53" stroke-linecap="round" stroke-linejoin="round">
<use href="#g5" transform="translate(2406.7,420.3) scale(15.77,33.67)"/>
</g>
<polyline points="2444.5,459.5 2386.5,459.5 2353.5,392.5" fill="none" stroke="#000" stroke-width="1.0"/>
<g fill="none" stroke="#000" stroke-width="3.61" stroke-linecap="round" stroke-linejoin="round">
<use href="#g0" transform="translate(1416.6,476.8) scale(10.49,34.39)"/>
</g>
<polyline points="1388.5,517.5 1445.5,517.5 1464.5,460.5" fill="none" stroke="#000" stroke-width="1.0"/>
<g fill="none" stroke="#000" stroke-width="3.61" stroke-linecap="round" stroke-linejoin="round">
<use href="#g0" transform="translate(1798.3,476.8) scale(10.59,34.39)"/>
</g>
<polyline points="1834.5,517.5 1778.5,517.5 1759.5,460.5" fill="none" stroke="#000" stroke-width="1.0"/>
<g fill="none" stroke="#000" stroke-width="3.61" stroke-linecap="round" stroke-linejoin="round">
<use href="#g0" transform="translate(2102.9,476.8) scale(10.09,34.39)"/>
</g>
<polyline points="2140.5,517.5 2083.5,517.5 2064.5,459.5" fill="none" stroke="#000" stroke-width="1.0"/>
<g fill="none" stroke="#000" stroke-width="3.61" stroke-linecap="round" stroke-linejoin="round">
<use href="#g0" transform="translate(2398.5,476.8) scale(7.89,34.39)"/>
</g>
<polyline points="2436.5,517.5 2378.5,517.5 2360.5,458.5" fill="none" stroke="#000" stroke-width="1.0"/>
<line x1="2501.3" y1="353.5" x2="2558.8" y2="353.5" stroke="#000" stroke-width="1" shape-rendering="crispEdges"/>
<line x1="2543.5" y1="353.3" x2="2543.5" y2="304.4" stroke="#000" stroke-width="1" shape-rendering="crispEdges"/>
<line x1="2543.2" y1="304.5" x2="2634.6" y2="304.5" stroke="#000" stroke-width="1" shape-rendering="crispEdges"/>
<polyline points="2535.5,345.5 2543.5,353.5 2551.5,345.5" fill="none" stroke="#000" stroke-width="1"/>
<g fill="none" stroke="#000" stroke-width="1.83" stroke-linecap="round" stroke-linejoin="round">
<use href="#g6" transform="translate(2560.7,298.9) skewX(-11) translate(0,-18.5) scale(8.33,18.47)"/>
<use href="#g10" transform="translate(2575.0,298.9) skewX(-11) translate(0,-18.5) scale(0.91,18.47)"/>
<use href="#g6" transform="translate(2581.8,298.9) skewX(-11) translate(0,-18.5) scale(8.33,18.47)"/>
<use href="#g6" transform="translate(2596.1,298.9) skewX(-11) translate(0,-18.5) scale(8.33,18.47)"/>
<use href="#g6" transform="translate(2610.3,298.9) skewX(-11) translate(0,-18.5) scale(8.33,18.47)"/>
</g>
<g fill="none" stroke="#000" stroke-width="1.75" stroke-linecap="round" stroke-linejoin="round">
<use href="#g12" transform="translate(2554.2,328.5) skewX(-11) translate(0,-17.7) scale(8.37,17.65)"/>
<use href="#g0" transform="translate(2568.5,328.5) skewX(-11) translate(0,-17.7) scale(4.33,17.65)"/>
<use href="#g7" transform="translate(2578.9,328.5) skewX(-11) translate(0,-17.7) scale(8.78,17.65)"/>
<use href="#g5" transform="translate(2593.6,328.5) skewX(-11) translate(0,-17.7) scale(8.78,17.65)"/>
<use href="#g10" transform="translate(2608.4,328.5) skewX(-11) translate(0,-17.7) scale(1.09,17.65)"/>
<use href="#g9" transform="translate(2615.5,328.5) skewX(-11) translate(0,-17.7) scale(8.78,17.65)"/>
<use href="#g9" transform="translate(2630.3,328.5) skewX(-11) translate(0,-17.7) scale(8.78,17.65)"/>
</g>
<line x1="2501.3" y1="398.5" x2="2558.8" y2="398.5" stroke="#000" stroke-width="1" shape-rendering="crispEdges"/>
<line x1="2543.5" y1="398.4" x2="2543.5" y2="447.3" stroke="#000" stroke-width="1" shape-rendering="crispEdges"/>
<line x1="2543.2" y1="447.5" x2="2634.6" y2="447.5" stroke="#000" stroke-width="1" shape-rendering="crispEdges"/>
<polyline points="2535.5,406.5 2543.5,398.5 2551.5,406.5" fill="none" stroke="#000" stroke-width="1"/>
<g fill="none" stroke="#000" stroke-width="1.83" stroke-linecap="round" stroke-linejoin="round">
<use href="#g15" transform="translate(2560.7,442.1) skewX(-15) translate(0,-18.5) scale(9.46,18.47)"/>
<use href="#g52" transform="translate(2576.0,442.1) skewX(-15) translate(0,-18.5) scale(7.74,18.47)"/>
<use href="#g11" transform="translate(2589.6,442.1) skewX(-15) translate(0,-18.5) scale(0.09,18.47)"/>
<use href="#g16" transform="translate(2606.4,442.1) skewX(-15) translate(0,-18.5) scale(6.97,18.47)"/>
<use href="#g11" transform="translate(2619.3,442.1) skewX(-15) translate(0,-18.5) scale(0.09,18.47)"/>
</g>
<g fill="none" stroke="#000" stroke-width="1.76" stroke-linecap="round" stroke-linejoin="round">
<use href="#g12" transform="translate(2554.2,471.7) skewX(-11) translate(0,-17.8) scale(8.35,17.84)"/>
<use href="#g0" transform="translate(2568.5,471.7) skewX(-11) translate(0,-17.8) scale(4.31,17.84)"/>
<use href="#g7" transform="translate(2578.9,471.7) skewX(-11) translate(0,-17.8) scale(8.76,17.84)"/>
<use href="#g5" transform="translate(2593.6,471.7) skewX(-11) translate(0,-17.8) scale(8.76,17.84)"/>
<use href="#g10" transform="translate(2608.4,471.7) skewX(-11) translate(0,-17.8) scale(1.07,17.84)"/>
<use href="#g5" transform="translate(2615.5,471.7) skewX(-11) translate(0,-17.8) scale(8.76,17.84)"/>
<use href="#g9" transform="translate(2630.3,471.7) skewX(-11) translate(0,-17.8) scale(8.76,17.84)"/>
</g>
<g fill="none" stroke="#000" stroke-width="3.58" stroke-linecap="round" stroke-linejoin="round">
<use href="#g15" transform="translate(1669.5,904.8) scale(18.54,34.12)"/>
<use href="#g16" transform="translate(1699.5,904.8) scale(13.67,34.12)"/>
<use href="#g17" transform="translate(1724.6,904.8) scale(15.17,34.12)"/>
<use href="#g18" transform="translate(1751.2,904.8) scale(15.17,34.12)"/>
<use href="#g0" transform="translate(1799.2,904.8) scale(7.67,34.12)"/>
</g>
<g fill="none" stroke="#000" stroke-width="3.56" stroke-linecap="round" stroke-linejoin="round">
<use href="#g0" transform="translate(1636.4,937.8) scale(8.54,33.94)"/>
</g>
<polyline points="1615.5,978.5 1665.5,978.5 1711.5,1013.5" fill="none" stroke="#000" stroke-width="1.0"/>
<g fill="none" stroke="#000" stroke-width="3.25" stroke-linecap="round" stroke-linejoin="round">
<use href="#g3" transform="translate(1800.0,940.4) scale(18.65,30.95)"/>
</g>
<polyline points="1841.5,978.5 1779.5,978.5 1749.5,1009.5" fill="none" stroke="#000" stroke-width="1.0"/>
<g fill="none" stroke="#000" stroke-width="3.46" stroke-linecap="round" stroke-linejoin="round">
<use href="#g5" transform="translate(1841.9,1067.7) scale(15.24,32.94)"/>
</g>
<polyline points="1878.5,1106.5 1821.5,1106.5 1749.5,1037.5" fill="none" stroke="#000" stroke-width="1.0"/>
<line x1="1708.0" y1="993.0" x2="1708.0" y2="1115.0" stroke="#c8783c" stroke-width="2" shape-rendering="crispEdges"/>
<line x1="1735.0" y1="993.0" x2="1735.0" y2="1115.0" stroke="#c8783c" stroke-width="2" shape-rendering="crispEdges"/>
<line x1="1710.5" y1="993.0" x2="1710.5" y2="1115.0" stroke="#5ac8d2" stroke-width="1" shape-rendering="crispEdges"/>
<line x1="1731.5" y1="993.0" x2="1731.5" y2="1115.0" stroke="#5ac8d2" stroke-width="1" shape-rendering="crispEdges"/>
<line x1="1721.5" y1="993.0" x2="1721.5" y2="1115.0" stroke="#000" stroke-width="1" stroke-dasharray="9 3 1.5 3" shape-rendering="crispEdges"/>
<line x1="1690.7" y1="993.5" x2="1751.4" y2="993.5" stroke="#000" stroke-width="1" shape-rendering="crispEdges"/>
<polyline points="1716.5,993.5 1719.5,987.5 1722.5,1001.5 1725.5,993.5" fill="none" stroke="#000" stroke-width="1"/>
<line x1="1690.7" y1="1115.5" x2="1751.4" y2="1115.5" stroke="#000" stroke-width="1" shape-rendering="crispEdges"/>
<polyline points="1716.5,1115.5 1719.5,1109.5 1722.5,1123.5 1725.5,1115.5" fill="none" stroke="#000" stroke-width="1"/>
<line x1="1663.6" y1="1054.5" x2="1707.0" y2="1054.5" stroke="#000" stroke-width="1" shape-rendering="crispEdges"/>
<line x1="1735.0" y1="1054.5" x2="1778.5" y2="1054.5" stroke="#000" stroke-width="1" shape-rendering="crispEdges"/>
<line x1="1669.0" y1="1063.0" x2="1677.0" y2="1055.0" stroke="#9bef7d" stroke-width="1"/>
<line x1="1679.0" y1="1063.0" x2="1687.0" y2="1055.0" stroke="#9bef7d" stroke-width="1"/>
<line x1="1689.0" y1="1063.0" x2="1697.0" y2="1055.0" stroke="#9bef7d" stroke-width="1"/>
<line x1="1743.0" y1="1063.0" x2="1751.0" y2="1055.0" stroke="#9bef7d" stroke-width="1"/>
<line x1="1753.0" y1="1063.0" x2="1761.0" y2="1055.0" stroke="#9bef7d" stroke-width="1"/>
<line x1="1763.0" y1="1063.0" x2="1771.0" y2="1055.0" stroke="#9bef7d" stroke-width="1"/>
<rect x="1735.0" y="1008.0" width="30.4" height="30.5" fill="none" stroke="#9bef7d" stroke-width="1.6" shape-rendering="crispEdges"/>
<line x1="1736.0" y1="1010.0" x2="1736.0" y2="1037.0" stroke="#c8783c" stroke-width="2.5" shape-rendering="crispEdges"/>
<line x1="1738.0" y1="1013.0" x2="1760.0" y2="1013.0" stroke="#000" stroke-width="1.8" stroke-dasharray="1.5 2"/>
<line x1="1745.0" y1="1033.0" x2="1762.0" y2="1031.0" stroke="#000" stroke-width="1.8" stroke-dasharray="1.5 2"/>
<line x1="1738.0" y1="1015.0" x2="1738.0" y2="1036.0" stroke="#000" stroke-width="1.8" stroke-dasharray="1.5 2"/>
<line x1="1753.1" y1="1027.9" x2="1819.1" y2="1012.9" stroke="#9bef7d" stroke-width="2"/>
<line x1="1750.9" y1="1018.1" x2="1816.9" y2="1003.1" stroke="#9bef7d" stroke-width="2"/>
<line x1="1752.3" y1="1024.5" x2="1818.3" y2="1009.5" stroke="#5ac8d2" stroke-width="1.2"/>
<line x1="1751.7" y1="1021.8" x2="1817.7" y2="1006.8" stroke="#5ac8d2" stroke-width="1.0"/>
<polyline points="1818.5,996.5 1816.5,1006.5 1825.5,1005.5 1812.5,1013.5 1815.5,1025.5" fill="none" stroke="#000" stroke-width="1"/>
<line x1="1650.5" y1="1173.5" x2="1836.4" y2="1173.5" stroke="#000" stroke-width="1" shape-rendering="crispEdges"/>
<line x1="1699.9" y1="1181.1" x2="1715.9" y2="1165.1" stroke="#000" stroke-width="2.6"/>
<line x1="1726.6" y1="1181.1" x2="1742.6" y2="1165.1" stroke="#000" stroke-width="2.6"/>
<line x1="1756.5" y1="1181.1" x2="1772.5" y2="1165.1" stroke="#000" stroke-width="2.6"/>
<line x1="1707.5" y1="1123.0" x2="1707.5" y2="1181.0" stroke="#000" stroke-width="1" shape-rendering="crispEdges"/>
<line x1="1734.5" y1="1123.0" x2="1734.5" y2="1181.0" stroke="#000" stroke-width="1" shape-rendering="crispEdges"/>
<line x1="1764.5" y1="1046.4" x2="1764.5" y2="1181.0" stroke="#000" stroke-width="1" shape-rendering="crispEdges"/>
<g fill="none" stroke="#000" stroke-width="1.51" stroke-linecap="round" stroke-linejoin="round">
<use href="#g8" transform="translate(1655.9,1168.0) skewX(-11) translate(0,-15.3) scale(6.86,15.29)"/>
<use href="#g9" transform="translate(1667.6,1168.0) skewX(-11) translate(0,-15.3) scale(6.86,15.29)"/>
</g>
<g fill="none" stroke="#000" stroke-width="1.51" stroke-linecap="round" stroke-linejoin="round">
<use href="#g0" transform="translate(1801.8,1168.0) skewX(-11) translate(0,-15.3) scale(3.18,15.29)"/>
<use href="#g6" transform="translate(1809.7,1168.0) skewX(-11) translate(0,-15.3) scale(6.62,15.29)"/>
<use href="#g6" transform="translate(1821.2,1168.0) skewX(-11) translate(0,-15.3) scale(6.62,15.29)"/>
</g>
<g fill="none" stroke="#000" stroke-width="3.51" stroke-linecap="round" stroke-linejoin="round">
<use href="#g15" transform="translate(2270.4,902.9) scale(18.81,33.39)"/>
<use href="#g16" transform="translate(2300.6,902.9) scale(13.89,33.39)"/>
<use href="#g17" transform="translate(2325.9,902.9) scale(15.40,33.39)"/>
<use href="#g18" transform="translate(2352.8,902.9) scale(15.40,33.39)"/>
<use href="#g1" transform="translate(2401.2,902.9) scale(16.54,33.39)"/>
</g>
<g fill="none" stroke="#000" stroke-width="3.51" stroke-linecap="round" stroke-linejoin="round">
<use href="#g1" transform="translate(2228.2,950.4) scale(16.59,33.39)"/>
</g>
<polyline points="2208.5,989.5 2265.5,989.5 2278.5,1033.5" fill="none" stroke="#000" stroke-width="1.0"/>
<g fill="none" stroke="#000" stroke-width="3.51" stroke-linecap="round" stroke-linejoin="round">
<use href="#g4" transform="translate(2379.1,971.5) scale(15.39,33.39)"/>
</g>
<polyline points="2415.5,1011.5 2358.5,1011.5 2336.5,1071.5" fill="none" stroke="#000" stroke-width="1.0"/>
<g fill="none" stroke="#000" stroke-width="3.40" stroke-linecap="round" stroke-linejoin="round">
<use href="#g3" transform="translate(2226.0,1092.7) scale(19.40,32.40)"/>
</g>
<polyline points="2204.5,1132.5 2265.5,1132.5 2276.5,1084.5" fill="none" stroke="#000" stroke-width="1.0"/>
<line x1="2254.9" y1="1033.0" x2="2383.6" y2="1033.0" stroke="#9bef7d" stroke-width="2" shape-rendering="crispEdges"/>
<line x1="2254.9" y1="1049.0" x2="2383.6" y2="1049.0" stroke="#9bef7d" stroke-width="2" shape-rendering="crispEdges"/>
<line x1="2254.9" y1="1035.5" x2="2383.6" y2="1035.5" stroke="#5ac8d2" stroke-width="1" stroke-dasharray="10 3" shape-rendering="crispEdges"/>
<polyline points="2254.5,1024.5 2254.5,1038.5 2248.5,1041.5 2260.5,1043.5 2254.5,1046.5 2254.5,1058.5" fill="none" stroke="#000" stroke-width="1"/>
<polyline points="2383.5,1024.5 2383.5,1038.5 2377.5,1041.5 2389.5,1043.5 2383.5,1046.5 2383.5,1058.5" fill="none" stroke="#000" stroke-width="1"/>
<rect x="2295.0" y="1033.0" width="46.4" height="46.4" fill="none" stroke="#5ac8d2" stroke-width="1" shape-rendering="crispEdges"/>
<rect x="2295.0" y="1048.8" width="47.4" height="30.6" fill="none" stroke="#9bef7d" stroke-width="1.6" shape-rendering="crispEdges"/>
<line x1="2298.0" y1="1036.0" x2="2338.0" y2="1036.0" stroke="#000" stroke-width="1.8" stroke-dasharray="1.5 2"/>
<line x1="2300.0" y1="1058.0" x2="2332.0" y2="1052.0" stroke="#000" stroke-width="1.8" stroke-dasharray="1.5 2"/>
<line x1="2305.0" y1="1078.0" x2="2336.0" y2="1073.0" stroke="#000" stroke-width="1.8" stroke-dasharray="1.5 2"/>
<line x1="2256.9" y1="1075.9" x2="2334.9" y2="1060.9" stroke="#9bef7d" stroke-width="2"/>
<line x1="2255.1" y1="1066.1" x2="2333.1" y2="1051.1" stroke="#9bef7d" stroke-width="2"/>
<line x1="2256.3" y1="1072.5" x2="2334.3" y2="1057.5" stroke="#5ac8d2" stroke-width="1.2"/>
<line x1="2255.8" y1="1069.8" x2="2333.8" y2="1054.8" stroke="#5ac8d2" stroke-width="1.0"/>
<polyline points="2255.5,1060.5 2257.5,1072.5 2250.5,1075.5 2257.5,1076.5 2258.5,1094.5" fill="none" stroke="#000" stroke-width="1"/>
<line x1="2295.5" y1="1087.8" x2="2295.5" y2="1222.0" stroke="#000" stroke-width="1" shape-rendering="crispEdges"/>
<line x1="2341.5" y1="1087.8" x2="2341.5" y2="1222.0" stroke="#000" stroke-width="1" shape-rendering="crispEdges"/>
<line x1="2288.6" y1="1214.5" x2="2412.0" y2="1214.5" stroke="#000" stroke-width="1" shape-rendering="crispEdges"/>
<line x1="2287.0" y1="1222.4" x2="2303.0" y2="1206.4" stroke="#000" stroke-width="2.6"/>
<line x1="2333.4" y1="1222.4" x2="2349.4" y2="1206.4" stroke="#000" stroke-width="2.6"/>
<g fill="none" stroke="#000" stroke-width="2.09" stroke-linecap="round" stroke-linejoin="round">
<use href="#g0" transform="translate(2377.2,1209.2) skewX(-11) translate(0,-21.1) scale(2.53,21.11)"/>
<use href="#g4" transform="translate(2385.1,1209.2) skewX(-11) translate(0,-21.1) scale(5.92,21.11)"/>
<use href="#g6" transform="translate(2396.3,1209.2) skewX(-11) translate(0,-21.1) scale(5.92,21.11)"/>
</g>
<g fill="none" stroke="#000" stroke-width="2.05" stroke-linecap="round" stroke-linejoin="round">
<use href="#g0" transform="translate(836.2,1588.1) skewX(-11) translate(0,-20.7) scale(3.76,20.75)"/>
<use href="#g14" transform="translate(846.1,1588.1) skewX(-11) translate(0,-20.7) scale(7.64,20.75)"/>
<use href="#g0" transform="translate(859.9,1588.1) skewX(-11) translate(0,-20.7) scale(3.76,20.75)"/>
</g>
<line x1="610.6" y1="1720.0" x2="1099.5" y2="1720.0" stroke="#9bef7d" stroke-width="2.2" shape-rendering="crispEdges"/>
<line x1="610.6" y1="1721.5" x2="1099.5" y2="1721.5" stroke="#5ac8d2" stroke-width="1" shape-rendering="crispEdges"/>
<line x1="610.6" y1="1727.0" x2="1099.5" y2="1727.0" stroke="#9bef7d" stroke-width="2.2" shape-rendering="crispEdges"/>
<line x1="611.0" y1="1719.0" x2="611.0" y2="1729.0" stroke="#5ac8d2" stroke-width="2" shape-rendering="crispEdges"/>
<line x1="1099.0" y1="1719.0" x2="1099.0" y2="1729.0" stroke="#5ac8d2" stroke-width="2" shape-rendering="crispEdges"/>
<line x1="528.9" y1="1766.5" x2="1181.2" y2="1766.5" stroke="#000" stroke-width="1" shape-rendering="crispEdges"/>
<line x1="563.0" y1="1778.0" x2="574.0" y2="1767.0" stroke="#000" stroke-width="1.0"/>
<line x1="568.5" y1="1778.0" x2="579.5" y2="1767.0" stroke="#000" stroke-width="1.0"/>
<line x1="574.0" y1="1778.0" x2="585.0" y2="1767.0" stroke="#000" stroke-width="1.0"/>
<line x1="655.0" y1="1778.0" x2="666.0" y2="1767.0" stroke="#000" stroke-width="1.0"/>
<line x1="660.5" y1="1778.0" x2="671.5" y2="1767.0" stroke="#000" stroke-width="1.0"/>
<line x1="666.0" y1="1778.0" x2="677.0" y2="1767.0" stroke="#000" stroke-width="1.0"/>
<line x1="780.0" y1="1778.0" x2="791.0" y2="1767.0" stroke="#000" stroke-width="1.0"/>
<line x1="785.5" y1="1778.0" x2="796.5" y2="1767.0" stroke="#000" stroke-width="1.0"/>
<line x1="791.0" y1="1778.0" x2="802.0" y2="1767.0" stroke="#000" stroke-width="1.0"/>
<line x1="879.0" y1="1778.0" x2="890.0" y2="1767.0" stroke="#000" stroke-width="1.0"/>
<line x1="884.5" y1="1778.0" x2="895.5" y2="1767.0" stroke="#000" stroke-width="1.0"/>
<line x1="890.0" y1="1778.0" x2="901.0" y2="1767.0" stroke="#000" stroke-width="1.0"/>
<line x1="1014.0" y1="1778.0" x2="1025.0" y2="1767.0" stroke="#000" stroke-width="1.0"/>
<line x1="1019.5" y1="1778.0" x2="1030.5" y2="1767.0" stroke="#000" stroke-width="1.0"/>
<line x1="1025.0" y1="1778.0" x2="1036.0" y2="1767.0" stroke="#000" stroke-width="1.0"/>
<line x1="1131.0" y1="1778.0" x2="1142.0" y2="1767.0" stroke="#000" stroke-width="1.0"/>
<line x1="1136.5" y1="1778.0" x2="1147.5" y2="1767.0" stroke="#000" stroke-width="1.0"/>
<line x1="1142.0" y1="1778.0" x2="1153.0" y2="1767.0" stroke="#000" stroke-width="1.0"/>
<line x1="613.5" y1="1720.0" x2="613.5" y2="1848.7" stroke="#000" stroke-width="1" shape-rendering="crispEdges"/>
<line x1="626.5" y1="1720.0" x2="626.5" y2="1848.7" stroke="#000" stroke-width="1" shape-rendering="crispEdges"/>
<line x1="613.4" y1="1848.5" x2="626.3" y2="1848.5" stroke="#000" stroke-width="1" shape-rendering="crispEdges"/>
<rect x="601.6" y="1788.5" width="38.0" height="304.2" fill="none" stroke="#000" stroke-width="1" shape-rendering="crispEdges"/>
<line x1="620.5" y1="1699.6" x2="620.5" y2="2092.7" stroke="#000" stroke-width="1" stroke-dasharray="9 3 1.5 3" shape-rendering="crispEdges"/>
<line x1="1082.5" y1="1720.0" x2="1082.5" y2="1848.7" stroke="#000" stroke-width="1" shape-rendering="crispEdges"/>
<line x1="1096.5" y1="1720.0" x2="1096.5" y2="1848.7" stroke="#000" stroke-width="1" shape-rendering="crispEdges"/>
<line x1="1082.5" y1="1848.5" x2="1096.3" y2="1848.5" stroke="#000" stroke-width="1" shape-rendering="crispEdges"/>
<rect x="1070.5" y="1788.5" width="38.0" height="304.2" fill="none" stroke="#000" stroke-width="1" shape-rendering="crispEdges"/>
<line x1="1089.5" y1="1699.6" x2="1089.5" y2="2092.7" stroke="#000" stroke-width="1" stroke-dasharray="9 3 1.5 3" shape-rendering="crispEdges"/>
<circle cx="634.3" cy="1751.8" r="28.7" fill="none" stroke="#000" stroke-width="1"/>
<circle cx="711.6" cy="1736.1" r="28.8" fill="none" stroke="#000" stroke-width="1"/>
<rect x="696.6" y="1720.5" width="23.1" height="22.8" fill="none" stroke="#9bef7d" stroke-width="1.6" shape-rendering="crispEdges"/>
<line x1="696.6" y1="1720.0" x2="719.7" y2="1720.0" stroke="#000" stroke-width="2" shape-rendering="crispEdges"/>
<line x1="699.0" y1="1723.0" x2="717.0" y2="1723.0" stroke="#000" stroke-width="1.8" stroke-dasharray="1.5 2"/>
<rect x="990.4" y="1720.0" width="23.1" height="22.4" fill="none" stroke="#9bef7d" stroke-width="1.6" shape-rendering="crispEdges"/>
<line x1="990.4" y1="1720.0" x2="1013.5" y2="1720.0" stroke="#000" stroke-width="2" shape-rendering="crispEdges"/>
<line x1="993.0" y1="1723.0" x2="1011.0" y2="1723.0" stroke="#000" stroke-width="1.8" stroke-dasharray="1.5 2"/>
<line x1="630.7" y1="1754.4" x2="716.7" y2="1738.1" stroke="#9bef7d" stroke-width="2"/>
<line x1="629.3" y1="1747.6" x2="715.3" y2="1731.3" stroke="#9bef7d" stroke-width="2"/>
<line x1="630.3" y1="1752.5" x2="716.3" y2="1736.2" stroke="#5ac8d2" stroke-width="1.2"/>
<line x1="629.8" y1="1749.8" x2="715.8" y2="1733.5" stroke="#5ac8d2" stroke-width="1.0"/>
<line x1="994.3" y1="1737.4" x2="1078.3" y2="1754.9" stroke="#9bef7d" stroke-width="2"/>
<line x1="995.7" y1="1730.6" x2="1079.7" y2="1748.1" stroke="#9bef7d" stroke-width="2"/>
<line x1="994.7" y1="1735.5" x2="1078.7" y2="1753.0" stroke="#5ac8d2" stroke-width="1.2"/>
<line x1="995.2" y1="1732.8" x2="1079.2" y2="1750.3" stroke="#5ac8d2" stroke-width="1.0"/>
<rect x="626.3" y="1742.0" width="14.7" height="15.0" fill="none" stroke="#9bef7d" stroke-width="1.4" shape-rendering="crispEdges"/>
<rect x="1067.3" y="1742.4" width="15.2" height="15.2" fill="none" stroke="#9bef7d" stroke-width="1.4" shape-rendering="crispEdges"/>
<line x1="628.0" y1="1744.0" x2="640.0" y2="1744.0" stroke="#000" stroke-width="1.8" stroke-dasharray="1.5 2"/>
<line x1="628.0" y1="1755.0" x2="640.0" y2="1755.0" stroke="#000" stroke-width="1.8" stroke-dasharray="1.5 2"/>
<line x1="1068.0" y1="1744.0" x2="1081.0" y2="1744.0" stroke="#000" stroke-width="1.8" stroke-dasharray="1.5 2"/>
<line x1="1068.0" y1="1755.0" x2="1081.0" y2="1755.0" stroke="#000" stroke-width="1.8" stroke-dasharray="1.5 2"/>
<line x1="696.5" y1="1751.8" x2="696.5" y2="1862.0" stroke="#000" stroke-width="1" shape-rendering="crispEdges"/>
<line x1="718.5" y1="1751.8" x2="718.5" y2="1862.0" stroke="#000" stroke-width="1" shape-rendering="crispEdges"/>
<line x1="990.5" y1="1751.0" x2="990.5" y2="1863.0" stroke="#000" stroke-width="1" shape-rendering="crispEdges"/>
<line x1="1013.5" y1="1751.0" x2="1013.5" y2="1863.0" stroke="#000" stroke-width="1" shape-rendering="crispEdges"/>
<line x1="612.4" y1="1854.5" x2="1097.0" y2="1854.5" stroke="#000" stroke-width="1" shape-rendering="crispEdges"/>
<line x1="612.4" y1="1862.2" x2="628.4" y2="1846.2" stroke="#000" stroke-width="2.6"/>
<line x1="688.0" y1="1862.2" x2="704.0" y2="1846.2" stroke="#000" stroke-width="2.6"/>
<line x1="710.8" y1="1862.2" x2="726.8" y2="1846.2" stroke="#000" stroke-width="2.6"/>
<line x1="982.4" y1="1862.2" x2="998.4" y2="1846.2" stroke="#000" stroke-width="2.6"/>
<line x1="1005.2" y1="1862.2" x2="1021.2" y2="1846.2" stroke="#000" stroke-width="2.6"/>
<line x1="1081.7" y1="1862.2" x2="1097.7" y2="1846.2" stroke="#000" stroke-width="2.6"/>
<g fill="none" stroke="#000" stroke-width="1.54" stroke-linecap="round" stroke-linejoin="round">
<use href="#g4" transform="translate(639.8,1848.8) skewX(-11) translate(0,-15.6) scale(7.57,15.56)"/>
<use href="#g6" transform="translate(652.6,1848.8) skewX(-11) translate(0,-15.6) scale(7.57,15.56)"/>
<use href="#g6" transform="translate(665.3,1848.8) skewX(-11) translate(0,-15.6) scale(7.57,15.56)"/>
</g>
<g fill="none" stroke="#000" stroke-width="1.59" stroke-linecap="round" stroke-linejoin="round">
<use href="#g0" transform="translate(831.9,1849.1) skewX(-11) translate(0,-16.1) scale(3.61,16.11)"/>
<use href="#g7" transform="translate(840.7,1849.1) skewX(-11) translate(0,-16.1) scale(7.42,16.11)"/>
<use href="#g8" transform="translate(853.4,1849.1) skewX(-11) translate(0,-16.1) scale(7.42,16.11)"/>
<use href="#g6" transform="translate(866.0,1849.1) skewX(-11) translate(0,-16.1) scale(7.42,16.11)"/>
</g>
<g fill="none" stroke="#000" stroke-width="1.62" stroke-linecap="round" stroke-linejoin="round">
<use href="#g0" transform="translate(987.4,1849.8) skewX(-11) translate(0,-16.4) scale(3.12,16.38)"/>
<use href="#g4" transform="translate(995.5,1849.8) skewX(-11) translate(0,-16.4) scale(6.59,16.38)"/>
<use href="#g6" transform="translate(1007.0,1849.8) skewX(-11) translate(0,-16.4) scale(6.59,16.38)"/>
</g>
<g fill="none" stroke="#000" stroke-width="1.62" stroke-linecap="round" stroke-linejoin="round">
<use href="#g4" transform="translate(1032.9,1849.8) skewX(-11) translate(0,-16.4) scale(7.34,16.38)"/>
<use href="#g6" transform="translate(1045.5,1849.8) skewX(-11) translate(0,-16.4) scale(7.34,16.38)"/>
<use href="#g6" transform="translate(1058.1,1849.8) skewX(-11) translate(0,-16.4) scale(7.34,16.38)"/>
</g>
<g fill="none" stroke="#000" stroke-width="1.61" stroke-linecap="round" stroke-linejoin="round">
<use href="#g0" transform="translate(654.1,1908.4) skewX(-11) translate(0,-16.3) scale(3.39,16.29)"/>
<use href="#g4" transform="translate(662.6,1908.4) skewX(-11) translate(0,-16.3) scale(7.05,16.29)"/>
<use href="#g6" transform="translate(674.8,1908.4) skewX(-11) translate(0,-16.3) scale(7.05,16.29)"/>
</g>
<polyline points="650.5,1913.5 690.5,1913.5 707.5,1860.5" fill="none" stroke="#000" stroke-width="1.0"/>
<line x1="613.4" y1="1930.5" x2="1097.0" y2="1930.5" stroke="#000" stroke-width="1" shape-rendering="crispEdges"/>
<line x1="612.4" y1="1938.0" x2="628.4" y2="1922.0" stroke="#000" stroke-width="2.6"/>
<line x1="1081.7" y1="1938.0" x2="1097.7" y2="1922.0" stroke="#000" stroke-width="2.6"/>
<g fill="none" stroke="#000" stroke-width="1.69" stroke-linecap="round" stroke-linejoin="round">
<use href="#g2" transform="translate(828.6,1926.3) skewX(-11) translate(0,-17.1) scale(7.33,17.11)"/>
<use href="#g6" transform="translate(841.5,1926.3) skewX(-11) translate(0,-17.1) scale(7.69,17.11)"/>
<use href="#g8" transform="translate(854.6,1926.3) skewX(-11) translate(0,-17.1) scale(7.69,17.11)"/>
<use href="#g6" transform="translate(867.8,1926.3) skewX(-11) translate(0,-17.1) scale(7.69,17.11)"/>
</g>
<g fill="none" stroke="#000" stroke-width="3.61" stroke-linecap="round" stroke-linejoin="round">
<use href="#g15" transform="translate(469.4,1636.8) scale(18.60,34.39)"/>
<use href="#g0" transform="translate(499.5,1636.8) scale(7.68,34.39)"/>
</g>
<polyline points="449.5,1676.5 528.5,1676.5 607.5,1737.5" fill="none" stroke="#000" stroke-width="1.0"/>
<g fill="none" stroke="#000" stroke-width="3.61" stroke-linecap="round" stroke-linejoin="round">
<use href="#g3" transform="translate(564.9,1636.8) scale(19.19,34.39)"/>
</g>
<polyline points="544.5,1676.5 604.5,1676.5 671.5,1742.5" fill="none" stroke="#000" stroke-width="1.0"/>
<g fill="none" stroke="#000" stroke-width="3.61" stroke-linecap="round" stroke-linejoin="round">
<use href="#g4" transform="translate(650.3,1636.8) scale(16.39,34.39)"/>
</g>
<polyline points="630.5,1676.5 687.5,1676.5 709.5,1730.5" fill="none" stroke="#000" stroke-width="1.0"/>
<g fill="none" stroke="#000" stroke-width="3.61" stroke-linecap="round" stroke-linejoin="round">
<use href="#g1" transform="translate(731.0,1636.8) scale(15.39,34.39)"/>
</g>
<polyline points="710.5,1676.5 770.5,1676.5 780.5,1719.5" fill="none" stroke="#000" stroke-width="1.0"/>
<g fill="none" stroke="#000" stroke-width="3.61" stroke-linecap="round" stroke-linejoin="round">
<use href="#g4" transform="translate(1042.5,1636.8) scale(15.89,34.39)"/>
</g>
<polyline points="1079.5,1676.5 1021.5,1676.5 1005.5,1720.5" fill="none" stroke="#000" stroke-width="1.0"/>
<g fill="none" stroke="#000" stroke-width="3.61" stroke-linecap="round" stroke-linejoin="round">
<use href="#g3" transform="translate(1125.1,1636.8) scale(18.19,34.39)"/>
</g>
<polyline points="1166.5,1676.5 1104.5,1676.5 1037.5,1743.5" fill="none" stroke="#000" stroke-width="1.0"/>
<g fill="none" stroke="#000" stroke-width="3.52" stroke-linecap="round" stroke-linejoin="round">
<use href="#g15" transform="translate(631.3,1580.8) scale(18.40,33.49)"/>
<use href="#g1" transform="translate(661.0,1580.8) scale(16.17,33.49)"/>
</g>
<polyline points="609.5,1620.5 697.5,1620.5 711.5,1707.5" fill="none" stroke="#000" stroke-width="1.0"/>
<g fill="none" stroke="#000" stroke-width="3.52" stroke-linecap="round" stroke-linejoin="round">
<use href="#g5" transform="translate(564.8,1786.9) scale(15.98,33.49)"/>
</g>
<polyline points="544.5,1827.5 601.5,1827.5 635.5,1757.5" fill="none" stroke="#000" stroke-width="1.0"/>
<g fill="none" stroke="#000" stroke-width="3.52" stroke-linecap="round" stroke-linejoin="round">
<use href="#g0" transform="translate(567.1,1843.8) scale(8.18,33.58)"/>
</g>
<polyline points="544.5,1884.5 601.5,1884.5 620.5,1825.5" fill="none" stroke="#000" stroke-width="1.0"/>
<g fill="none" stroke="#000" stroke-width="3.52" stroke-linecap="round" stroke-linejoin="round">
<use href="#g5" transform="translate(1128.8,1786.9) scale(15.49,33.49)"/>
</g>
<polyline points="1165.5,1827.5 1108.5,1827.5 1074.5,1757.5" fill="none" stroke="#000" stroke-width="1.0"/>
<g fill="none" stroke="#000" stroke-width="3.52" stroke-linecap="round" stroke-linejoin="round">
<use href="#g0" transform="translate(1128.8,1843.8) scale(7.98,33.58)"/>
</g>
<polyline points="1165.5,1884.5 1108.5,1884.5 1089.5,1826.5" fill="none" stroke="#000" stroke-width="1.0"/>
<g fill="none" stroke="#000" stroke-width="1.81" stroke-linecap="round" stroke-linejoin="round">
<use href="#g14" transform="translate(377.9,1734.4) skewX(-11) translate(0,-18.3) scale(8.23,18.29)"/>
<use href="#g6" transform="translate(392.2,1734.4) skewX(-11) translate(0,-18.3) scale(8.63,18.29)"/>
<use href="#g11" transform="translate(406.8,1734.4) skewX(-11) translate(0,-18.3) scale(0.20,18.29)"/>
<use href="#g5" transform="translate(413.0,1734.4) skewX(-11) translate(0,-18.3) scale(8.63,18.29)"/>
<use href="#g6" transform="translate(427.7,1734.4) skewX(-11) translate(0,-18.3) scale(8.63,18.29)"/>
<use href="#g6" transform="translate(442.4,1734.4) skewX(-11) translate(0,-18.3) scale(8.63,18.29)"/>
</g>
<line x1="364.7" y1="1740.5" x2="456.8" y2="1740.5" stroke="#000" stroke-width="1" shape-rendering="crispEdges"/>
<g fill="none" stroke="#000" stroke-width="1.79" stroke-linecap="round" stroke-linejoin="round">
<use href="#g12" transform="translate(365.6,1764.2) skewX(-11) translate(0,-18.1) scale(8.45,18.11)"/>
<use href="#g0" transform="translate(380.1,1764.2) skewX(-11) translate(0,-18.1) scale(4.35,18.11)"/>
<use href="#g7" transform="translate(390.6,1764.2) skewX(-11) translate(0,-18.1) scale(8.86,18.11)"/>
<use href="#g5" transform="translate(405.5,1764.2) skewX(-11) translate(0,-18.1) scale(8.86,18.11)"/>
<use href="#g10" transform="translate(420.5,1764.2) skewX(-11) translate(0,-18.1) scale(1.08,18.11)"/>
<use href="#g2" transform="translate(427.6,1764.2) skewX(-11) translate(0,-18.1) scale(8.45,18.11)"/>
<use href="#g9" transform="translate(442.2,1764.2) skewX(-11) translate(0,-18.1) scale(8.86,18.11)"/>
</g>
<line x1="456.5" y1="1740.4" x2="456.5" y2="1788.3" stroke="#000" stroke-width="1" shape-rendering="crispEdges"/>
<polyline points="448.5,1780.5 456.5,1788.5 464.5,1780.5" fill="none" stroke="#000" stroke-width="1"/>
<line x1="440.6" y1="1788.5" x2="498.5" y2="1788.5" stroke="#000" stroke-width="1" shape-rendering="crispEdges"/>
<line x1="440.6" y1="1846.5" x2="498.5" y2="1846.5" stroke="#000" stroke-width="1" shape-rendering="crispEdges"/>
<line x1="457.5" y1="1846.4" x2="457.5" y2="1894.9" stroke="#000" stroke-width="1" shape-rendering="crispEdges"/>
<polyline points="449.5,1854.5 457.5,1846.5 465.5,1854.5" fill="none" stroke="#000" stroke-width="1"/>
<line x1="365.4" y1="1894.5" x2="457.0" y2="1894.5" stroke="#000" stroke-width="1" shape-rendering="crispEdges"/>
<g fill="none" stroke="#000" stroke-width="1.83" stroke-linecap="round" stroke-linejoin="round">
<use href="#g14" transform="translate(376.7,1889.8) skewX(-11) translate(0,-18.5) scale(8.45,18.47)"/>
<use href="#g0" transform="translate(391.3,1889.8) skewX(-11) translate(0,-18.5) scale(4.34,18.47)"/>
<use href="#g11" transform="translate(401.8,1889.8) skewX(-11) translate(0,-18.5) scale(0.23,18.47)"/>
<use href="#g6" transform="translate(408.2,1889.8) skewX(-11) translate(0,-18.5) scale(8.86,18.47)"/>
<use href="#g6" transform="translate(423.2,1889.8) skewX(-11) translate(0,-18.5) scale(8.86,18.47)"/>
<use href="#g6" transform="translate(438.2,1889.8) skewX(-11) translate(0,-18.5) scale(8.86,18.47)"/>
</g>
<g fill="none" stroke="#000" stroke-width="1.75" stroke-linecap="round" stroke-linejoin="round">
<use href="#g12" transform="translate(366.3,1918.8) skewX(-11) translate(0,-17.7) scale(8.32,17.65)"/>
<use href="#g0" transform="translate(380.6,1918.8) skewX(-11) translate(0,-17.7) scale(4.29,17.65)"/>
<use href="#g7" transform="translate(390.8,1918.8) skewX(-11) translate(0,-17.7) scale(8.72,17.65)"/>
<use href="#g2" transform="translate(405.5,1918.8) skewX(-11) translate(0,-17.7) scale(8.32,17.65)"/>
<use href="#g10" transform="translate(419.8,1918.8) skewX(-11) translate(0,-17.7) scale(1.07,17.65)"/>
<use href="#g9" transform="translate(426.8,1918.8) skewX(-11) translate(0,-17.7) scale(8.72,17.65)"/>
<use href="#g9" transform="translate(441.5,1918.8) skewX(-11) translate(0,-17.7) scale(8.72,17.65)"/>
</g>
<g fill="none" stroke="#000" stroke-width="1.80" stroke-linecap="round" stroke-linejoin="round">
<use href="#g14" transform="translate(378.2,2039.6) skewX(-11) translate(0,-18.2) scale(8.28,18.20)"/>
<use href="#g6" transform="translate(392.5,2039.6) skewX(-11) translate(0,-18.2) scale(8.69,18.20)"/>
<use href="#g11" transform="translate(407.2,2039.6) skewX(-11) translate(0,-18.2) scale(0.22,18.20)"/>
<use href="#g5" transform="translate(413.5,2039.6) skewX(-11) translate(0,-18.2) scale(8.69,18.20)"/>
<use href="#g6" transform="translate(428.2,2039.6) skewX(-11) translate(0,-18.2) scale(8.69,18.20)"/>
<use href="#g6" transform="translate(442.9,2039.6) skewX(-11) translate(0,-18.2) scale(8.69,18.20)"/>
</g>
<line x1="365.4" y1="2045.5" x2="457.0" y2="2045.5" stroke="#000" stroke-width="1" shape-rendering="crispEdges"/>
<g fill="none" stroke="#000" stroke-width="1.75" stroke-linecap="round" stroke-linejoin="round">
<use href="#g12" transform="translate(366.3,2069.5) skewX(-11) translate(0,-17.7) scale(8.48,17.65)"/>
<use href="#g0" transform="translate(380.8,2069.5) skewX(-11) translate(0,-17.7) scale(4.39,17.65)"/>
<use href="#g7" transform="translate(391.2,2069.5) skewX(-11) translate(0,-17.7) scale(8.89,17.65)"/>
<use href="#g3" transform="translate(406.1,2069.5) skewX(-11) translate(0,-17.7) scale(10.52,17.65)"/>
<use href="#g10" transform="translate(422.7,2069.5) skewX(-11) translate(0,-17.7) scale(1.12,17.65)"/>
<use href="#g2" transform="translate(429.9,2069.5) skewX(-11) translate(0,-17.7) scale(8.48,17.65)"/>
<use href="#g9" transform="translate(444.4,2069.5) skewX(-11) translate(0,-17.7) scale(8.89,17.65)"/>
</g>
<line x1="457.5" y1="2045.0" x2="457.5" y2="2092.7" stroke="#000" stroke-width="1" shape-rendering="crispEdges"/>
<polyline points="449.5,2084.5 457.5,2092.5 465.5,2084.5" fill="none" stroke="#000" stroke-width="1"/>
<line x1="441.4" y1="2092.5" x2="498.7" y2="2092.5" stroke="#000" stroke-width="1" shape-rendering="crispEdges"/>
<line x1="1211.0" y1="1720.5" x2="1268.5" y2="1720.5" stroke="#000" stroke-width="1" shape-rendering="crispEdges"/>
<line x1="1253.5" y1="1720.2" x2="1253.5" y2="1671.4" stroke="#000" stroke-width="1" shape-rendering="crispEdges"/>
<line x1="1253.3" y1="1671.5" x2="1344.5" y2="1671.5" stroke="#000" stroke-width="1" shape-rendering="crispEdges"/>
<polyline points="1245.5,1712.5 1253.5,1720.5 1261.5,1712.5" fill="none" stroke="#000" stroke-width="1"/>
<g fill="none" stroke="#000" stroke-width="1.79" stroke-linecap="round" stroke-linejoin="round">
<use href="#g6" transform="translate(1269.4,1666.5) skewX(-11) translate(0,-18.1) scale(8.51,18.11)"/>
<use href="#g10" transform="translate(1283.9,1666.5) skewX(-11) translate(0,-18.1) scale(0.98,18.11)"/>
<use href="#g6" transform="translate(1290.8,1666.5) skewX(-11) translate(0,-18.1) scale(8.51,18.11)"/>
<use href="#g6" transform="translate(1305.3,1666.5) skewX(-11) translate(0,-18.1) scale(8.51,18.11)"/>
<use href="#g6" transform="translate(1319.7,1666.5) skewX(-11) translate(0,-18.1) scale(8.51,18.11)"/>
</g>
<g fill="none" stroke="#000" stroke-width="1.80" stroke-linecap="round" stroke-linejoin="round">
<use href="#g12" transform="translate(1262.8,1696.9) skewX(-11) translate(0,-18.2) scale(8.27,18.20)"/>
<use href="#g0" transform="translate(1277.1,1696.9) skewX(-11) translate(0,-18.2) scale(4.24,18.20)"/>
<use href="#g7" transform="translate(1287.4,1696.9) skewX(-11) translate(0,-18.2) scale(8.67,18.20)"/>
<use href="#g5" transform="translate(1302.1,1696.9) skewX(-11) translate(0,-18.2) scale(8.67,18.20)"/>
<use href="#g10" transform="translate(1316.8,1696.9) skewX(-11) translate(0,-18.2) scale(1.02,18.20)"/>
<use href="#g9" transform="translate(1323.8,1696.9) skewX(-11) translate(0,-18.2) scale(8.67,18.20)"/>
<use href="#g9" transform="translate(1338.5,1696.9) skewX(-11) translate(0,-18.2) scale(8.67,18.20)"/>
</g>
<line x1="1211.0" y1="1766.5" x2="1268.5" y2="1766.5" stroke="#000" stroke-width="1" shape-rendering="crispEdges"/>
<line x1="1253.5" y1="1766.5" x2="1253.5" y2="1814.5" stroke="#000" stroke-width="1" shape-rendering="crispEdges"/>
<line x1="1253.3" y1="1814.5" x2="1344.5" y2="1814.5" stroke="#000" stroke-width="1" shape-rendering="crispEdges"/>
<polyline points="1245.5,1774.5 1253.5,1766.5 1261.5,1774.5" fill="none" stroke="#000" stroke-width="1"/>
<g fill="none" stroke="#000" stroke-width="1.87" stroke-linecap="round" stroke-linejoin="round">
<use href="#g15" transform="translate(1271.3,1809.8) skewX(-15) translate(0,-18.9) scale(9.15,18.93)"/>
<use href="#g52" transform="translate(1286.3,1809.8) skewX(-15) translate(0,-18.9) scale(7.47,18.93)"/>
<use href="#g11" transform="translate(1299.5,1809.8) skewX(-15) translate(0,-18.9) scale(0.02,18.93)"/>
<use href="#g16" transform="translate(1316.0,1809.8) skewX(-15) translate(0,-18.9) scale(6.72,18.93)"/>
<use href="#g11" transform="translate(1328.5,1809.8) skewX(-15) translate(0,-18.9) scale(0.02,18.93)"/>
</g>
<g fill="none" stroke="#000" stroke-width="1.80" stroke-linecap="round" stroke-linejoin="round">
<use href="#g12" transform="translate(1262.8,1839.3) skewX(-11) translate(0,-18.2) scale(8.27,18.20)"/>
<use href="#g0" transform="translate(1277.1,1839.3) skewX(-11) translate(0,-18.2) scale(4.24,18.20)"/>
<use href="#g7" transform="translate(1287.4,1839.3) skewX(-11) translate(0,-18.2) scale(8.67,18.20)"/>
<use href="#g5" transform="translate(1302.1,1839.3) skewX(-11) translate(0,-18.2) scale(8.67,18.20)"/>
<use href="#g10" transform="translate(1316.8,1839.3) skewX(-11) translate(0,-18.2) scale(1.02,18.20)"/>
<use href="#g5" transform="translate(1323.8,1839.3) skewX(-11) translate(0,-18.2) scale(8.67,18.20)"/>
<use href="#g9" transform="translate(1338.5,1839.3) skewX(-11) translate(0,-18.2) scale(8.67,18.20)"/>
</g>
<polyline points="620.5,2039.5 690.5,2104.5 926.5,2104.5" fill="none" stroke="#000" stroke-width="1.0"/>
<g fill="none" stroke="#000" stroke-width="1.88" stroke-linecap="round" stroke-linejoin="round">
<use href="#g33" transform="translate(707.9,2096.3) skewX(-15) translate(0,-19.0) scale(10.50,19.02)"/>
<use href="#g41" transform="translate(724.8,2096.3) skewX(-15) translate(0,-19.0) scale(8.79,19.02)"/>
<use href="#g39" transform="translate(740.0,2096.3) skewX(-15) translate(0,-19.0) scale(8.79,19.02)"/>
<use href="#g65" transform="translate(755.1,2096.3) skewX(-15) translate(0,-19.0) scale(8.36,19.02)"/>
<use href="#g40" transform="translate(782.0,2096.3) skewX(-15) translate(0,-19.0) scale(8.79,19.02)"/>
<use href="#g55" transform="translate(797.2,2096.3) skewX(-15) translate(0,-19.0) scale(8.79,19.02)"/>
<use href="#g52" transform="translate(812.3,2096.3) skewX(-15) translate(0,-19.0) scale(8.79,19.02)"/>
<use href="#g50" transform="translate(827.5,2096.3) skewX(-15) translate(0,-19.0) scale(8.79,19.02)"/>
<use href="#g49" transform="translate(842.6,2096.3) skewX(-15) translate(0,-19.0) scale(8.79,19.02)"/>
<use href="#g39" transform="translate(857.8,2096.3) skewX(-15) translate(0,-19.0) scale(8.79,19.02)"/>
<use href="#g40" transform="translate(872.9,2096.3) skewX(-15) translate(0,-19.0) scale(8.79,19.02)"/>
<use href="#g45" transform="translate(888.1,2096.3) skewX(-15) translate(0,-19.0) scale(8.79,19.02)"/>
<use href="#g41" transform="translate(903.2,2096.3) skewX(-15) translate(0,-19.0) scale(8.79,19.02)"/>
<use href="#g49" transform="translate(918.4,2096.3) skewX(-15) translate(0,-19.0) scale(8.79,19.02)"/>
<use href="#g39" transform="translate(933.5,2096.3) skewX(-15) translate(0,-19.0) scale(8.79,19.02)"/>
<use href="#g65" transform="translate(948.7,2096.3) skewX(-15) translate(0,-19.0) scale(8.36,19.02)"/>
</g>
<g fill="none" stroke="#000" stroke-width="1.61" stroke-linecap="round" stroke-linejoin="round">
<use href="#g53" transform="translate(737.6,2124.8) skewX(-15) translate(0,-16.3) scale(7.98,16.29)"/>
<use href="#g48" transform="translate(751.6,2124.8) skewX(-15) translate(0,-16.3) scale(10.89,16.29)"/>
<use href="#g11" transform="translate(768.4,2124.8) skewX(-15) translate(0,-16.3) scale(0.47,16.29)"/>
<use href="#g27" transform="translate(786.8,2124.8) skewX(-15) translate(0,-16.3) scale(10.48,16.29)"/>
<use href="#g45" transform="translate(803.3,2124.8) skewX(-15) translate(0,-16.3) scale(8.81,16.29)"/>
<use href="#g53" transform="translate(818.0,2124.8) skewX(-15) translate(0,-16.3) scale(7.98,16.29)"/>
<use href="#g54" transform="translate(832.0,2124.8) skewX(-15) translate(0,-16.3) scale(11.31,16.29)"/>
<use href="#g2" transform="translate(861.2,2124.8) skewX(-15) translate(0,-16.3) scale(8.81,16.29)"/>
</g>
<polyline points="1089.5,2039.5 1159.5,2103.5 1395.5,2103.5" fill="none" stroke="#000" stroke-width="1.0"/>
<g fill="none" stroke="#000" stroke-width="1.88" stroke-linecap="round" stroke-linejoin="round">
<use href="#g33" transform="translate(1176.3,2096.3) skewX(-15) translate(0,-19.0) scale(10.53,19.02)"/>
<use href="#g41" transform="translate(1193.2,2096.3) skewX(-15) translate(0,-19.0) scale(8.82,19.02)"/>
<use href="#g39" transform="translate(1208.4,2096.3) skewX(-15) translate(0,-19.0) scale(8.82,19.02)"/>
<use href="#g65" transform="translate(1223.6,2096.3) skewX(-15) translate(0,-19.0) scale(8.39,19.02)"/>
<use href="#g40" transform="translate(1250.6,2096.3) skewX(-15) translate(0,-19.0) scale(8.82,19.02)"/>
<use href="#g55" transform="translate(1265.8,2096.3) skewX(-15) translate(0,-19.0) scale(8.82,19.02)"/>
<use href="#g52" transform="translate(1281.0,2096.3) skewX(-15) translate(0,-19.0) scale(8.82,19.02)"/>
<use href="#g50" transform="translate(1296.2,2096.3) skewX(-15) translate(0,-19.0) scale(8.82,19.02)"/>
<use href="#g49" transform="translate(1311.4,2096.3) skewX(-15) translate(0,-19.0) scale(8.82,19.02)"/>
<use href="#g39" transform="translate(1326.6,2096.3) skewX(-15) translate(0,-19.0) scale(8.82,19.02)"/>
<use href="#g40" transform="translate(1341.8,2096.3) skewX(-15) translate(0,-19.0) scale(8.82,19.02)"/>
<use href="#g45" transform="translate(1357.0,2096.3) skewX(-15) translate(0,-19.0) scale(8.82,19.02)"/>
<use href="#g41" transform="translate(1372.2,2096.3) skewX(-15) translate(0,-19.0) scale(8.82,19.02)"/>
<use href="#g49" transform="translate(1387.4,2096.3) skewX(-15) translate(0,-19.0) scale(8.82,19.02)"/>
<use href="#g39" transform="translate(1402.6,2096.3) skewX(-15) translate(0,-19.0) scale(8.82,19.02)"/>
<use href="#g65" transform="translate(1417.8,2096.3) skewX(-15) translate(0,-19.0) scale(8.39,19.02)"/>
</g>
<g fill="none" stroke="#000" stroke-width="1.61" stroke-linecap="round" stroke-linejoin="round">
<use href="#g53" transform="translate(1205.6,2124.8) skewX(-15) translate(0,-16.3) scale(8.08,16.29)"/>
<use href="#g48" transform="translate(1219.7,2124.8) skewX(-15) translate(0,-16.3) scale(11.03,16.29)"/>
<use href="#g11" transform="translate(1236.8,2124.8) skewX(-15) translate(0,-16.3) scale(0.50,16.29)"/>
<use href="#g27" transform="translate(1255.3,2124.8) skewX(-15) translate(0,-16.3) scale(10.61,16.29)"/>
<use href="#g45" transform="translate(1272.0,2124.8) skewX(-15) translate(0,-16.3) scale(8.93,16.29)"/>
<use href="#g53" transform="translate(1286.9,2124.8) skewX(-15) translate(0,-16.3) scale(8.08,16.29)"/>
<use href="#g54" transform="translate(1301.1,2124.8) skewX(-15) translate(0,-16.3) scale(11.45,16.29)"/>
<use href="#g2" transform="translate(1330.6,2124.8) skewX(-15) translate(0,-16.3) scale(8.93,16.29)"/>
</g>
<g fill="none" stroke="#000" stroke-width="2.34" stroke-linecap="round" stroke-linejoin="round">
<use href="#g33" transform="translate(2086.2,1267.6) skewX(-15) translate(0,-23.7) scale(10.22,23.66)"/>
<use href="#g51" transform="translate(2103.3,1267.6) skewX(-15) translate(0,-23.7) scale(8.49,23.66)"/>
<use href="#g17" transform="translate(2118.6,1267.6) skewX(-15) translate(0,-23.7) scale(8.49,23.66)"/>
<use href="#g58" transform="translate(2134.0,1267.6) skewX(-15) translate(0,-23.7) scale(8.92,23.66)"/>
<use href="#g45" transform="translate(2149.8,1267.6) skewX(-15) translate(0,-23.7) scale(8.49,23.66)"/>
<use href="#g56" transform="translate(2165.2,1267.6) skewX(-15) translate(0,-23.7) scale(11.08,23.66)"/>
<use href="#g45" transform="translate(2183.2,1267.6) skewX(-15) translate(0,-23.7) scale(8.49,23.66)"/>
<use href="#g47" transform="translate(2198.5,1267.6) skewX(-15) translate(0,-23.7) scale(8.05,23.66)"/>
<use href="#g39" transform="translate(2213.5,1267.6) skewX(-15) translate(0,-23.7) scale(8.49,23.66)"/>
<use href="#g58" transform="translate(2228.9,1267.6) skewX(-15) translate(0,-23.7) scale(8.92,23.66)"/>
<use href="#g45" transform="translate(2244.7,1267.6) skewX(-15) translate(0,-23.7) scale(8.49,23.66)"/>
<use href="#g65" transform="translate(2260.0,1267.6) skewX(-15) translate(0,-23.7) scale(8.05,23.66)"/>
<use href="#g48" transform="translate(2287.3,1267.6) skewX(-15) translate(0,-23.7) scale(10.65,23.66)"/>
<use href="#g39" transform="translate(2304.9,1267.6) skewX(-15) translate(0,-23.7) scale(8.49,23.66)"/>
<use href="#g54" transform="translate(2320.2,1267.6) skewX(-15) translate(0,-23.7) scale(11.08,23.66)"/>
<use href="#g17" transform="translate(2338.2,1267.6) skewX(-15) translate(0,-23.7) scale(8.49,23.66)"/>
<use href="#g52" transform="translate(2353.6,1267.6) skewX(-15) translate(0,-23.7) scale(8.49,23.66)"/>
<use href="#g45" transform="translate(2368.9,1267.6) skewX(-15) translate(0,-23.7) scale(8.49,23.66)"/>
<use href="#g39" transform="translate(2384.3,1267.6) skewX(-15) translate(0,-23.7) scale(8.49,23.66)"/>
<use href="#g18" transform="translate(2399.7,1267.6) skewX(-15) translate(0,-23.7) scale(8.49,23.66)"/>
<use href="#g50" transform="translate(2415.1,1267.6) skewX(-15) translate(0,-23.7) scale(8.49,23.66)"/>
<use href="#g41" transform="translate(2430.4,1267.6) skewX(-15) translate(0,-23.7) scale(8.49,23.66)"/>
<use href="#g49" transform="translate(2458.1,1267.6) skewX(-15) translate(0,-23.7) scale(8.49,23.66)"/>
<use href="#g39" transform="translate(2473.5,1267.6) skewX(-15) translate(0,-23.7) scale(8.49,23.66)"/>
<use href="#g55" transform="translate(2501.2,1267.6) skewX(-15) translate(0,-23.7) scale(8.49,23.66)"/>
<use href="#g53" transform="translate(2516.6,1267.6) skewX(-15) translate(0,-23.7) scale(7.62,23.66)"/>
<use href="#g54" transform="translate(2531.1,1267.6) skewX(-15) translate(0,-23.7) scale(11.08,23.66)"/>
<use href="#g52" transform="translate(2549.1,1267.6) skewX(-15) translate(0,-23.7) scale(8.49,23.66)"/>
<use href="#g50" transform="translate(2564.5,1267.6) skewX(-15) translate(0,-23.7) scale(8.49,23.66)"/>
<use href="#g46" transform="translate(2579.8,1267.6) skewX(-15) translate(0,-23.7) scale(8.49,23.66)"/>
<use href="#g53" transform="translate(2595.2,1267.6) skewX(-15) translate(0,-23.7) scale(7.62,23.66)"/>
<use href="#g54" transform="translate(2609.7,1267.6) skewX(-15) translate(0,-23.7) scale(11.08,23.66)"/>
<use href="#g41" transform="translate(2627.7,1267.6) skewX(-15) translate(0,-23.7) scale(8.49,23.66)"/>
<use href="#g50" transform="translate(2643.0,1267.6) skewX(-15) translate(0,-23.7) scale(8.49,23.66)"/>
<use href="#g56" transform="translate(2670.8,1267.6) skewX(-15) translate(0,-23.7) scale(11.08,23.66)"/>
<use href="#g55" transform="translate(2688.7,1267.6) skewX(-15) translate(0,-23.7) scale(8.49,23.66)"/>
<use href="#g49" transform="translate(2704.1,1267.6) skewX(-15) translate(0,-23.7) scale(8.49,23.66)"/>
<use href="#g43" transform="translate(2719.5,1267.6) skewX(-15) translate(0,-23.7) scale(8.49,23.66)"/>
<use href="#g39" transform="translate(2734.9,1267.6) skewX(-15) translate(0,-23.7) scale(8.49,23.66)"/>
<use href="#g48" transform="translate(2750.2,1267.6) skewX(-15) translate(0,-23.7) scale(10.65,23.66)"/>
<use href="#g17" transform="translate(2767.8,1267.6) skewX(-15) translate(0,-23.7) scale(8.49,23.66)"/>
<use href="#g49" transform="translate(2783.1,1267.6) skewX(-15) translate(0,-23.7) scale(8.49,23.66)"/>
<use href="#g54" transform="translate(2798.5,1267.6) skewX(-15) translate(0,-23.7) scale(11.08,23.66)"/>
<use href="#g39" transform="translate(2816.5,1267.6) skewX(-15) translate(0,-23.7) scale(8.49,23.66)"/>
</g>
<rect x="1754.0" y="1298.3" width="1408.0" height="536.4" fill="none" stroke="#000" stroke-width="2.2" shape-rendering="crispEdges"/>
<line x1="1867.0" y1="1298.3" x2="1867.0" y2="1834.7" stroke="#000" stroke-width="1.6" shape-rendering="crispEdges"/>
<line x1="2298.0" y1="1298.3" x2="2298.0" y2="1834.7" stroke="#000" stroke-width="1.6" shape-rendering="crispEdges"/>
<line x1="2821.0" y1="1298.3" x2="2821.0" y2="1834.7" stroke="#000" stroke-width="1.6" shape-rendering="crispEdges"/>
<line x1="2897.0" y1="1298.3" x2="2897.0" y2="1834.7" stroke="#000" stroke-width="1.6" shape-rendering="crispEdges"/>
<line x1="3010.0" y1="1298.3" x2="3010.0" y2="1834.7" stroke="#000" stroke-width="1.6" shape-rendering="crispEdges"/>
<line x1="1754.0" y1="1411.0" x2="3162.0" y2="1411.0" stroke="#000" stroke-width="2.2" shape-rendering="crispEdges"/>
<line x1="1754.0" y1="1472.5" x2="3162.0" y2="1472.5" stroke="#000" stroke-width="1.2" shape-rendering="crispEdges"/>
<line x1="1754.0" y1="1532.5" x2="3162.0" y2="1532.5" stroke="#000" stroke-width="1.2" shape-rendering="crispEdges"/>
<line x1="1754.0" y1="1593.5" x2="3162.0" y2="1593.5" stroke="#000" stroke-width="1.2" shape-rendering="crispEdges"/>
<line x1="1754.0" y1="1654.5" x2="3162.0" y2="1654.5" stroke="#000" stroke-width="1.2" shape-rendering="crispEdges"/>
<line x1="1754.0" y1="1714.5" x2="3162.0" y2="1714.5" stroke="#000" stroke-width="1.2" shape-rendering="crispEdges"/>
<line x1="1754.0" y1="1775.5" x2="3162.0" y2="1775.5" stroke="#000" stroke-width="1.2" shape-rendering="crispEdges"/>
<g fill="none" stroke="#000" stroke-width="2.30" stroke-linecap="round" stroke-linejoin="round">
<use href="#g31" transform="translate(1785.2,1345.9) scale(11.24,20.10)"/>
<use href="#g50" transform="translate(1803.6,1345.9) scale(9.37,20.10)"/>
<use href="#g16" transform="translate(1820.2,1345.9) scale(8.44,20.10)"/>
<use href="#g11" transform="translate(1835.8,1345.9) scale(0.03,20.10)"/>
</g>
<g fill="none" stroke="#000" stroke-width="1.82" stroke-linecap="round" stroke-linejoin="round">
<use href="#g30" transform="translate(2011.1,1364.6) skewX(-15) translate(0,-18.4) scale(9.65,18.38)"/>
<use href="#g40" transform="translate(2026.5,1364.6) skewX(-15) translate(0,-18.4) scale(7.43,18.38)"/>
<use href="#g50" transform="translate(2039.6,1364.6) skewX(-15) translate(0,-18.4) scale(7.43,18.38)"/>
<use href="#g16" transform="translate(2052.7,1364.6) skewX(-15) translate(0,-18.4) scale(6.69,18.38)"/>
<use href="#g49" transform="translate(2065.1,1364.6) skewX(-15) translate(0,-18.4) scale(7.43,18.38)"/>
<use href="#g39" transform="translate(2078.3,1364.6) skewX(-15) translate(0,-18.4) scale(7.43,18.38)"/>
<use href="#g59" transform="translate(2091.4,1364.6) skewX(-15) translate(0,-18.4) scale(7.06,18.38)"/>
<use href="#g17" transform="translate(2104.1,1364.6) skewX(-15) translate(0,-18.4) scale(7.43,18.38)"/>
<use href="#g49" transform="translate(2117.3,1364.6) skewX(-15) translate(0,-18.4) scale(7.43,18.38)"/>
<use href="#g45" transform="translate(2130.4,1364.6) skewX(-15) translate(0,-18.4) scale(7.43,18.38)"/>
<use href="#g17" transform="translate(2143.5,1364.6) skewX(-15) translate(0,-18.4) scale(7.43,18.38)"/>
</g>
<g fill="none" stroke="#000" stroke-width="1.66" stroke-linecap="round" stroke-linejoin="round">
<use href="#g29" transform="translate(2479.3,1364.7) skewX(-15) translate(0,-16.7) scale(9.20,16.74)"/>
<use href="#g39" transform="translate(2494.1,1364.7) skewX(-15) translate(0,-16.7) scale(7.71,16.74)"/>
<use href="#g45" transform="translate(2507.4,1364.7) skewX(-15) translate(0,-16.7) scale(7.71,16.74)"/>
<use href="#g48" transform="translate(2520.7,1364.7) skewX(-15) translate(0,-16.7) scale(9.58,16.74)"/>
<use href="#g17" transform="translate(2535.9,1364.7) skewX(-15) translate(0,-16.7) scale(7.71,16.74)"/>
<use href="#g49" transform="translate(2549.2,1364.7) skewX(-15) translate(0,-16.7) scale(7.71,16.74)"/>
<use href="#g50" transform="translate(2562.5,1364.7) skewX(-15) translate(0,-16.7) scale(7.71,16.74)"/>
<use href="#g41" transform="translate(2575.8,1364.7) skewX(-15) translate(0,-16.7) scale(7.71,16.74)"/>
<use href="#g39" transform="translate(2589.1,1364.7) skewX(-15) translate(0,-16.7) scale(7.71,16.74)"/>
<use href="#g49" transform="translate(2602.3,1364.7) skewX(-15) translate(0,-16.7) scale(7.71,16.74)"/>
<use href="#g45" transform="translate(2615.6,1364.7) skewX(-15) translate(0,-16.7) scale(7.71,16.74)"/>
<use href="#g17" transform="translate(2628.9,1364.7) skewX(-15) translate(0,-16.7) scale(7.71,16.74)"/>
</g>
<g fill="none" stroke="#000" stroke-width="1.66" stroke-linecap="round" stroke-linejoin="round">
<use href="#g26" transform="translate(2837.2,1364.7) skewX(-15) translate(0,-16.7) scale(8.06,16.74)"/>
<use href="#g50" transform="translate(2850.7,1364.7) skewX(-15) translate(0,-16.7) scale(7.18,16.74)"/>
<use href="#g18" transform="translate(2863.2,1364.7) skewX(-15) translate(0,-16.7) scale(7.18,16.74)"/>
<use href="#g11" transform="translate(2875.7,1364.7) skewX(-15) translate(0,-16.7) scale(0.11,16.74)"/>
</g>
<g fill="none" stroke="#000" stroke-width="1.67" stroke-linecap="round" stroke-linejoin="round">
<use href="#g28" transform="translate(2919.0,1348.0) skewX(-15) translate(0,-16.8) scale(10.63,16.84)"/>
<use href="#g39" transform="translate(2935.1,1348.0) skewX(-15) translate(0,-16.8) scale(7.38,16.84)"/>
<use href="#g53" transform="translate(2948.0,1348.0) skewX(-15) translate(0,-16.8) scale(6.65,16.84)"/>
<use href="#g53" transform="translate(2960.1,1348.0) skewX(-15) translate(0,-16.8) scale(6.65,16.84)"/>
<use href="#g39" transform="translate(2972.2,1348.0) skewX(-15) translate(0,-16.8) scale(7.38,16.84)"/>
<use href="#g10" transform="translate(2985.0,1348.0) skewX(-15) translate(0,-16.8) scale(0.87,16.84)"/>
</g>
<g fill="none" stroke="#000" stroke-width="1.67" stroke-linecap="round" stroke-linejoin="round">
<use href="#g17" transform="translate(2919.2,1382.1) skewX(-15) translate(0,-16.8) scale(7.59,16.84)"/>
<use href="#g43" transform="translate(2932.4,1382.1) skewX(-15) translate(0,-16.8) scale(7.59,16.84)"/>
<use href="#g11" transform="translate(2945.5,1382.1) skewX(-15) translate(0,-16.8) scale(0.19,16.84)"/>
<use href="#g10" transform="translate(2951.3,1382.1) skewX(-15) translate(0,-16.8) scale(0.93,16.84)"/>
<use href="#g47" transform="translate(2968.3,1382.1) skewX(-15) translate(0,-16.8) scale(7.22,16.84)"/>
<use href="#g42" transform="translate(2981.1,1382.1) skewX(-15) translate(0,-16.8) scale(6.85,16.84)"/>
</g>
<g fill="none" stroke="#000" stroke-width="1.67" stroke-linecap="round" stroke-linejoin="round">
<use href="#g31" transform="translate(3048.8,1348.0) skewX(-15) translate(0,-16.8) scale(8.71,16.84)"/>
<use href="#g52" transform="translate(3063.0,1348.0) skewX(-15) translate(0,-16.8) scale(7.28,16.84)"/>
<use href="#g45" transform="translate(3075.7,1348.0) skewX(-15) translate(0,-16.8) scale(7.28,16.84)"/>
<use href="#g48" transform="translate(3088.4,1348.0) skewX(-15) translate(0,-16.8) scale(9.06,16.84)"/>
<use href="#g17" transform="translate(3102.8,1348.0) skewX(-15) translate(0,-16.8) scale(7.28,16.84)"/>
<use href="#g13" transform="translate(3115.5,1348.0) skewX(-15) translate(0,-16.8) scale(7.28,16.84)"/>
</g>
<g fill="none" stroke="#000" stroke-width="1.66" stroke-linecap="round" stroke-linejoin="round">
<use href="#g59" transform="translate(3057.7,1382.1) skewX(-15) translate(0,-16.7) scale(7.06,16.74)"/>
<use href="#g39" transform="translate(3070.3,1382.1) skewX(-15) translate(0,-16.7) scale(7.42,16.74)"/>
<use href="#g49" transform="translate(3083.1,1382.1) skewX(-15) translate(0,-16.7) scale(7.42,16.74)"/>
<use href="#g45" transform="translate(3096.0,1382.1) skewX(-15) translate(0,-16.7) scale(7.42,16.74)"/>
<use href="#g17" transform="translate(3108.9,1382.1) skewX(-15) translate(0,-16.7) scale(7.42,16.74)"/>
</g>
<g fill="none" stroke="#000" stroke-width="1.71" stroke-linecap="round" stroke-linejoin="round">
<use href="#g0" transform="translate(1810.9,1450.3) skewX(-11) translate(0,-17.3) scale(2.60,17.29)"/>
</g>
<g fill="none" stroke="#000" stroke-width="1.71" stroke-linecap="round" stroke-linejoin="round">
<use href="#g21" transform="translate(1885.1,1450.3) skewX(-15) translate(0,-17.3) scale(6.59,17.29)"/>
<use href="#g30" transform="translate(1897.2,1450.3) skewX(-15) translate(0,-17.3) scale(9.72,17.29)"/>
<use href="#g33" transform="translate(1912.5,1450.3) skewX(-15) translate(0,-17.3) scale(8.98,17.29)"/>
<use href="#g34" transform="translate(1927.1,1450.3) skewX(-15) translate(0,-17.3) scale(8.98,17.29)"/>
<use href="#g0" transform="translate(1952.2,1450.3) skewX(-15) translate(0,-17.3) scale(3.82,17.29)"/>
<use href="#g6" transform="translate(1961.6,1450.3) skewX(-15) translate(0,-17.3) scale(7.88,17.29)"/>
<use href="#g7" transform="translate(1975.0,1450.3) skewX(-15) translate(0,-17.3) scale(7.88,17.29)"/>
<use href="#g6" transform="translate(1988.5,1450.3) skewX(-15) translate(0,-17.3) scale(7.88,17.29)"/>
<use href="#g3" transform="translate(2001.9,1450.3) skewX(-15) translate(0,-17.3) scale(9.35,17.29)"/>
<use href="#g13" transform="translate(2016.9,1450.3) skewX(-15) translate(0,-17.3) scale(7.51,17.29)"/>
<use href="#g9" transform="translate(2030.0,1450.3) skewX(-15) translate(0,-17.3) scale(7.88,17.29)"/>
<use href="#g0" transform="translate(2043.4,1450.3) skewX(-15) translate(0,-17.3) scale(3.82,17.29)"/>
</g>
<g fill="none" stroke="#000" stroke-width="1.71" stroke-linecap="round" stroke-linejoin="round">
<use href="#g34" transform="translate(2318.7,1450.3) skewX(-15) translate(0,-17.3) scale(6.52,17.29)"/>
<use href="#g52" transform="translate(2329.9,1450.3) skewX(-15) translate(0,-17.3) scale(5.38,17.29)"/>
<use href="#g55" transform="translate(2339.9,1450.3) skewX(-15) translate(0,-17.3) scale(5.38,17.29)"/>
<use href="#g40" transform="translate(2350.0,1450.3) skewX(-15) translate(0,-17.3) scale(5.38,17.29)"/>
<use href="#g39" transform="translate(2360.1,1450.3) skewX(-15) translate(0,-17.3) scale(5.38,17.29)"/>
<use href="#g53" transform="translate(2378.2,1450.3) skewX(-15) translate(0,-17.3) scale(4.81,17.29)"/>
<use href="#g54" transform="translate(2387.7,1450.3) skewX(-15) translate(0,-17.3) scale(7.08,17.29)"/>
<use href="#g39" transform="translate(2399.5,1450.3) skewX(-15) translate(0,-17.3) scale(5.38,17.29)"/>
<use href="#g18" transform="translate(2409.6,1450.3) skewX(-15) translate(0,-17.3) scale(5.38,17.29)"/>
<use href="#g11" transform="translate(2419.6,1450.3) skewX(-15) translate(0,-17.3) scale(0.02,17.29)"/>
<use href="#g64" transform="translate(2432.1,1450.3) skewX(-15) translate(0,-17.3) scale(4.81,17.29)"/>
<use href="#g18" transform="translate(2441.6,1450.3) skewX(-15) translate(0,-17.3) scale(5.38,17.29)"/>
<use href="#g17" transform="translate(2451.7,1450.3) skewX(-15) translate(0,-17.3) scale(5.38,17.29)"/>
<use href="#g47" transform="translate(2461.8,1450.3) skewX(-15) translate(0,-17.3) scale(5.10,17.29)"/>
<use href="#g54" transform="translate(2471.6,1450.3) skewX(-15) translate(0,-17.3) scale(7.08,17.29)"/>
<use href="#g52" transform="translate(2483.3,1450.3) skewX(-15) translate(0,-17.3) scale(5.38,17.29)"/>
<use href="#g50" transform="translate(2493.4,1450.3) skewX(-15) translate(0,-17.3) scale(5.38,17.29)"/>
<use href="#g53" transform="translate(2503.5,1450.3) skewX(-15) translate(0,-17.3) scale(4.81,17.29)"/>
<use href="#g41" transform="translate(2513.0,1450.3) skewX(-15) translate(0,-17.3) scale(5.38,17.29)"/>
<use href="#g11" transform="translate(2523.0,1450.3) skewX(-15) translate(0,-17.3) scale(0.02,17.29)"/>
<use href="#g51" transform="translate(2535.5,1450.3) skewX(-15) translate(0,-17.3) scale(5.38,17.29)"/>
<use href="#g52" transform="translate(2545.6,1450.3) skewX(-15) translate(0,-17.3) scale(5.38,17.29)"/>
<use href="#g65" transform="translate(2555.7,1450.3) skewX(-15) translate(0,-17.3) scale(5.10,17.29)"/>
<use href="#g48" transform="translate(2565.5,1450.3) skewX(-15) translate(0,-17.3) scale(6.80,17.29)"/>
<use href="#g11" transform="translate(2576.9,1450.3) skewX(-15) translate(0,-17.3) scale(0.02,17.29)"/>
<use href="#g8" transform="translate(2589.4,1450.3) skewX(-15) translate(0,-17.3) scale(5.67,17.29)"/>
<use href="#g9" transform="translate(2599.8,1450.3) skewX(-15) translate(0,-17.3) scale(5.67,17.29)"/>
<use href="#g57" transform="translate(2610.1,1450.3) skewX(-15) translate(0,-17.3) scale(5.10,17.29)"/>
<use href="#g3" transform="translate(2619.9,1450.3) skewX(-15) translate(0,-17.3) scale(6.80,17.29)"/>
<use href="#g10" transform="translate(2631.4,1450.3) skewX(-15) translate(0,-17.3) scale(0.28,17.29)"/>
<use href="#g6" transform="translate(2636.4,1450.3) skewX(-15) translate(0,-17.3) scale(5.67,17.29)"/>
<use href="#g10" transform="translate(2646.7,1450.3) skewX(-15) translate(0,-17.3) scale(0.28,17.29)"/>
<use href="#g10" transform="translate(2659.8,1450.3) skewX(-15) translate(0,-17.3) scale(0.28,17.29)"/>
<use href="#g66" transform="translate(2672.8,1450.3) skewX(-15) translate(0,-17.3) scale(1.41,17.29)"/>
<use href="#g68" transform="translate(2678.9,1450.3) skewX(-15) translate(0,-17.3) scale(4.67,17.29)"/>
<use href="#g8" transform="translate(2688.3,1450.3) skewX(-15) translate(0,-17.3) scale(5.67,17.29)"/>
<use href="#g3" transform="translate(2698.6,1450.3) skewX(-15) translate(0,-17.3) scale(6.80,17.29)"/>
<use href="#g5" transform="translate(2710.1,1450.3) skewX(-15) translate(0,-17.3) scale(5.67,17.29)"/>
<use href="#g48" transform="translate(2728.6,1450.3) skewX(-15) translate(0,-17.3) scale(6.80,17.29)"/>
<use href="#g48" transform="translate(2740.1,1450.3) skewX(-15) translate(0,-17.3) scale(6.80,17.29)"/>
</g>
<g fill="none" stroke="#000" stroke-width="1.71" stroke-linecap="round" stroke-linejoin="round">
<use href="#g8" transform="translate(2855.4,1450.3) skewX(-11) translate(0,-17.3) scale(6.60,17.29)"/>
</g>
<g fill="none" stroke="#000" stroke-width="1.71" stroke-linecap="round" stroke-linejoin="round">
<use href="#g7" transform="translate(2933.4,1450.3) skewX(-11) translate(0,-17.3) scale(7.51,17.29)"/>
<use href="#g10" transform="translate(2946.3,1450.3) skewX(-11) translate(0,-17.3) scale(0.77,17.29)"/>
<use href="#g6" transform="translate(2952.5,1450.3) skewX(-11) translate(0,-17.3) scale(7.51,17.29)"/>
<use href="#g9" transform="translate(2965.4,1450.3) skewX(-11) translate(0,-17.3) scale(7.51,17.29)"/>
</g>
<g fill="none" stroke="#000" stroke-width="1.71" stroke-linecap="round" stroke-linejoin="round">
<use href="#g4" transform="translate(3058.9,1450.3) skewX(-11) translate(0,-17.3) scale(7.49,17.29)"/>
<use href="#g5" transform="translate(3071.8,1450.3) skewX(-11) translate(0,-17.3) scale(7.49,17.29)"/>
<use href="#g10" transform="translate(3084.7,1450.3) skewX(-11) translate(0,-17.3) scale(0.77,17.29)"/>
<use href="#g7" transform="translate(3090.9,1450.3) skewX(-11) translate(0,-17.3) scale(7.49,17.29)"/>
<use href="#g1" transform="translate(3103.8,1450.3) skewX(-11) translate(0,-17.3) scale(7.67,17.29)"/>
</g>
<g fill="none" stroke="#000" stroke-width="1.71" stroke-linecap="round" stroke-linejoin="round">
<use href="#g1" transform="translate(1806.9,1511.1) skewX(-11) translate(0,-17.3) scale(8.60,17.29)"/>
</g>
<g fill="none" stroke="#000" stroke-width="1.71" stroke-linecap="round" stroke-linejoin="round">
<use href="#g21" transform="translate(1885.1,1511.1) skewX(-15) translate(0,-17.3) scale(6.48,17.29)"/>
<use href="#g30" transform="translate(1897.1,1511.1) skewX(-15) translate(0,-17.3) scale(9.57,17.29)"/>
<use href="#g33" transform="translate(1912.2,1511.1) skewX(-15) translate(0,-17.3) scale(8.85,17.29)"/>
<use href="#g34" transform="translate(1926.6,1511.1) skewX(-15) translate(0,-17.3) scale(8.85,17.29)"/>
<use href="#g8" transform="translate(1951.3,1511.1) skewX(-15) translate(0,-17.3) scale(7.75,17.29)"/>
<use href="#g1" transform="translate(1964.6,1511.1) skewX(-15) translate(0,-17.3) scale(7.94,17.29)"/>
<use href="#g3" transform="translate(1978.1,1511.1) skewX(-15) translate(0,-17.3) scale(9.21,17.29)"/>
<use href="#g6" transform="translate(1992.8,1511.1) skewX(-15) translate(0,-17.3) scale(7.75,17.29)"/>
<use href="#g13" transform="translate(2006.1,1511.1) skewX(-15) translate(0,-17.3) scale(7.39,17.29)"/>
<use href="#g9" transform="translate(2019.0,1511.1) skewX(-15) translate(0,-17.3) scale(7.75,17.29)"/>
<use href="#g7" transform="translate(2032.3,1511.1) skewX(-15) translate(0,-17.3) scale(7.75,17.29)"/>
</g>
<g fill="none" stroke="#000" stroke-width="1.71" stroke-linecap="round" stroke-linejoin="round">
<use href="#g36" transform="translate(2315.9,1511.1) skewX(-15) translate(0,-17.3) scale(11.71,17.29)"/>
<use href="#g41" transform="translate(2333.3,1511.1) skewX(-15) translate(0,-17.3) scale(7.88,17.29)"/>
<use href="#g17" transform="translate(2346.9,1511.1) skewX(-15) translate(0,-17.3) scale(7.88,17.29)"/>
<use href="#g18" transform="translate(2360.5,1511.1) skewX(-15) translate(0,-17.3) scale(7.88,17.29)"/>
<use href="#g18" transform="translate(2374.1,1511.1) skewX(-15) translate(0,-17.3) scale(7.88,17.29)"/>
<use href="#g17" transform="translate(2387.8,1511.1) skewX(-15) translate(0,-17.3) scale(7.88,17.29)"/>
<use href="#g52" transform="translate(2401.4,1511.1) skewX(-15) translate(0,-17.3) scale(7.88,17.29)"/>
<use href="#g67" transform="translate(2425.9,1511.1) skewX(-15) translate(0,-17.3) scale(13.63,17.29)"/>
<use href="#g0" transform="translate(2445.3,1511.1) skewX(-15) translate(0,-17.3) scale(4.04,17.29)"/>
<use href="#g1" transform="translate(2455.1,1511.1) skewX(-15) translate(0,-17.3) scale(8.45,17.29)"/>
<use href="#g10" transform="translate(2469.3,1511.1) skewX(-15) translate(0,-17.3) scale(0.97,17.29)"/>
<use href="#g66" transform="translate(2486.9,1511.1) skewX(-15) translate(0,-17.3) scale(2.51,17.29)"/>
<use href="#g68" transform="translate(2495.1,1511.1) skewX(-15) translate(0,-17.3) scale(6.92,17.29)"/>
<use href="#g2" transform="translate(2507.8,1511.1) skewX(-15) translate(0,-17.3) scale(7.88,17.29)"/>
<use href="#g1" transform="translate(2521.4,1511.1) skewX(-15) translate(0,-17.3) scale(8.45,17.29)"/>
<use href="#g6" transform="translate(2535.6,1511.1) skewX(-15) translate(0,-17.3) scale(8.26,17.29)"/>
<use href="#g6" transform="translate(2549.6,1511.1) skewX(-15) translate(0,-17.3) scale(8.26,17.29)"/>
<use href="#g48" transform="translate(2574.5,1511.1) skewX(-15) translate(0,-17.3) scale(9.80,17.29)"/>
<use href="#g48" transform="translate(2590.1,1511.1) skewX(-15) translate(0,-17.3) scale(9.80,17.29)"/>
</g>
<g fill="none" stroke="#000" stroke-width="1.71" stroke-linecap="round" stroke-linejoin="round">
<use href="#g1" transform="translate(2855.4,1511.1) skewX(-11) translate(0,-17.3) scale(6.60,17.29)"/>
</g>
<g fill="none" stroke="#000" stroke-width="1.71" stroke-linecap="round" stroke-linejoin="round">
<use href="#g2" transform="translate(2926.4,1511.1) skewX(-11) translate(0,-17.3) scale(7.42,17.29)"/>
<use href="#g2" transform="translate(2939.3,1511.1) skewX(-11) translate(0,-17.3) scale(7.42,17.29)"/>
<use href="#g10" transform="translate(2952.3,1511.1) skewX(-11) translate(0,-17.3) scale(0.85,17.29)"/>
<use href="#g1" transform="translate(2958.7,1511.1) skewX(-11) translate(0,-17.3) scale(7.96,17.29)"/>
<use href="#g8" transform="translate(2972.2,1511.1) skewX(-11) translate(0,-17.3) scale(7.78,17.29)"/>
</g>
<g fill="none" stroke="#000" stroke-width="1.71" stroke-linecap="round" stroke-linejoin="round">
<use href="#g5" transform="translate(3058.9,1511.1) skewX(-11) translate(0,-17.3) scale(7.52,17.29)"/>
<use href="#g5" transform="translate(3071.8,1511.1) skewX(-11) translate(0,-17.3) scale(7.52,17.29)"/>
<use href="#g10" transform="translate(3084.8,1511.1) skewX(-11) translate(0,-17.3) scale(0.77,17.29)"/>
<use href="#g4" transform="translate(3091.0,1511.1) skewX(-11) translate(0,-17.3) scale(7.52,17.29)"/>
<use href="#g5" transform="translate(3103.9,1511.1) skewX(-11) translate(0,-17.3) scale(7.52,17.29)"/>
</g>
<g fill="none" stroke="#000" stroke-width="1.71" stroke-linecap="round" stroke-linejoin="round">
<use href="#g2" transform="translate(1806.9,1571.6) skewX(-11) translate(0,-17.3) scale(8.60,17.29)"/>
</g>
<g fill="none" stroke="#000" stroke-width="1.71" stroke-linecap="round" stroke-linejoin="round">
<use href="#g21" transform="translate(1885.1,1571.6) skewX(-15) translate(0,-17.3) scale(6.48,17.29)"/>
<use href="#g30" transform="translate(1897.1,1571.6) skewX(-15) translate(0,-17.3) scale(9.57,17.29)"/>
<use href="#g33" transform="translate(1912.2,1571.6) skewX(-15) translate(0,-17.3) scale(8.85,17.29)"/>
<use href="#g34" transform="translate(1926.6,1571.6) skewX(-15) translate(0,-17.3) scale(8.85,17.29)"/>
<use href="#g8" transform="translate(1951.3,1571.6) skewX(-15) translate(0,-17.3) scale(7.75,17.29)"/>
<use href="#g1" transform="translate(1964.6,1571.6) skewX(-15) translate(0,-17.3) scale(7.94,17.29)"/>
<use href="#g3" transform="translate(1978.1,1571.6) skewX(-15) translate(0,-17.3) scale(9.21,17.29)"/>
<use href="#g6" transform="translate(1992.8,1571.6) skewX(-15) translate(0,-17.3) scale(7.75,17.29)"/>
<use href="#g13" transform="translate(2006.1,1571.6) skewX(-15) translate(0,-17.3) scale(7.39,17.29)"/>
<use href="#g9" transform="translate(2019.0,1571.6) skewX(-15) translate(0,-17.3) scale(7.75,17.29)"/>
<use href="#g7" transform="translate(2032.3,1571.6) skewX(-15) translate(0,-17.3) scale(7.75,17.29)"/>
</g>
<g fill="none" stroke="#000" stroke-width="1.71" stroke-linecap="round" stroke-linejoin="round">
<use href="#g36" transform="translate(2315.9,1571.6) skewX(-15) translate(0,-17.3) scale(11.70,17.29)"/>
<use href="#g41" transform="translate(2333.3,1571.6) skewX(-15) translate(0,-17.3) scale(7.87,17.29)"/>
<use href="#g17" transform="translate(2346.9,1571.6) skewX(-15) translate(0,-17.3) scale(7.87,17.29)"/>
<use href="#g18" transform="translate(2360.5,1571.6) skewX(-15) translate(0,-17.3) scale(7.87,17.29)"/>
<use href="#g18" transform="translate(2374.1,1571.6) skewX(-15) translate(0,-17.3) scale(7.87,17.29)"/>
<use href="#g17" transform="translate(2387.7,1571.6) skewX(-15) translate(0,-17.3) scale(7.87,17.29)"/>
<use href="#g52" transform="translate(2401.3,1571.6) skewX(-15) translate(0,-17.3) scale(7.87,17.29)"/>
<use href="#g67" transform="translate(2425.8,1571.6) skewX(-15) translate(0,-17.3) scale(13.62,17.29)"/>
<use href="#g0" transform="translate(2445.2,1571.6) skewX(-15) translate(0,-17.3) scale(4.04,17.29)"/>
<use href="#g1" transform="translate(2455.0,1571.6) skewX(-15) translate(0,-17.3) scale(8.45,17.29)"/>
<use href="#g10" transform="translate(2469.2,1571.6) skewX(-15) translate(0,-17.3) scale(0.97,17.29)"/>
<use href="#g66" transform="translate(2486.8,1571.6) skewX(-15) translate(0,-17.3) scale(2.51,17.29)"/>
<use href="#g68" transform="translate(2495.0,1571.6) skewX(-15) translate(0,-17.3) scale(6.91,17.29)"/>
<use href="#g4" transform="translate(2507.7,1571.6) skewX(-15) translate(0,-17.3) scale(8.25,17.29)"/>
<use href="#g7" transform="translate(2521.7,1571.6) skewX(-15) translate(0,-17.3) scale(8.25,17.29)"/>
<use href="#g5" transform="translate(2535.6,1571.6) skewX(-15) translate(0,-17.3) scale(8.25,17.29)"/>
<use href="#g6" transform="translate(2549.6,1571.6) skewX(-15) translate(0,-17.3) scale(8.25,17.29)"/>
<use href="#g48" transform="translate(2574.5,1571.6) skewX(-15) translate(0,-17.3) scale(9.79,17.29)"/>
<use href="#g48" transform="translate(2590.1,1571.6) skewX(-15) translate(0,-17.3) scale(9.79,17.29)"/>
</g>
<g fill="none" stroke="#000" stroke-width="1.71" stroke-linecap="round" stroke-linejoin="round">
<use href="#g1" transform="translate(2855.4,1571.6) skewX(-11) translate(0,-17.3) scale(6.60,17.29)"/>
</g>
<g fill="none" stroke="#000" stroke-width="1.71" stroke-linecap="round" stroke-linejoin="round">
<use href="#g4" transform="translate(2926.4,1571.6) skewX(-11) translate(0,-17.3) scale(7.69,17.29)"/>
<use href="#g4" transform="translate(2939.5,1571.6) skewX(-11) translate(0,-17.3) scale(7.69,17.29)"/>
<use href="#g10" transform="translate(2952.7,1571.6) skewX(-11) translate(0,-17.3) scale(0.82,17.29)"/>
<use href="#g9" transform="translate(2959.1,1571.6) skewX(-11) translate(0,-17.3) scale(7.69,17.29)"/>
<use href="#g6" transform="translate(2972.3,1571.6) skewX(-11) translate(0,-17.3) scale(7.69,17.29)"/>
</g>
<g fill="none" stroke="#000" stroke-width="1.71" stroke-linecap="round" stroke-linejoin="round">
<use href="#g0" transform="translate(3064.9,1571.6) skewX(-11) translate(0,-17.3) scale(3.58,17.29)"/>
<use href="#g0" transform="translate(3073.8,1571.6) skewX(-11) translate(0,-17.3) scale(3.58,17.29)"/>
<use href="#g0" transform="translate(3082.8,1571.6) skewX(-11) translate(0,-17.3) scale(3.58,17.29)"/>
<use href="#g10" transform="translate(3091.8,1571.6) skewX(-11) translate(0,-17.3) scale(0.76,17.29)"/>
<use href="#g8" transform="translate(3098.0,1571.6) skewX(-11) translate(0,-17.3) scale(7.46,17.29)"/>
</g>
<g fill="none" stroke="#000" stroke-width="1.71" stroke-linecap="round" stroke-linejoin="round">
<use href="#g3" transform="translate(1806.9,1632.5) skewX(-11) translate(0,-17.3) scale(8.60,17.29)"/>
</g>
<g fill="none" stroke="#000" stroke-width="1.71" stroke-linecap="round" stroke-linejoin="round">
<use href="#g21" transform="translate(1885.1,1632.5) skewX(-15) translate(0,-17.3) scale(6.50,17.29)"/>
<use href="#g30" transform="translate(1897.1,1632.5) skewX(-15) translate(0,-17.3) scale(9.60,17.29)"/>
<use href="#g33" transform="translate(1912.2,1632.5) skewX(-15) translate(0,-17.3) scale(8.87,17.29)"/>
<use href="#g34" transform="translate(1926.7,1632.5) skewX(-15) translate(0,-17.3) scale(8.87,17.29)"/>
<use href="#g8" transform="translate(1951.5,1632.5) skewX(-15) translate(0,-17.3) scale(7.78,17.29)"/>
<use href="#g4" transform="translate(1964.8,1632.5) skewX(-15) translate(0,-17.3) scale(7.78,17.29)"/>
<use href="#g6" transform="translate(1978.1,1632.5) skewX(-15) translate(0,-17.3) scale(7.78,17.29)"/>
<use href="#g9" transform="translate(1991.4,1632.5) skewX(-15) translate(0,-17.3) scale(7.78,17.29)"/>
<use href="#g13" transform="translate(2004.8,1632.5) skewX(-15) translate(0,-17.3) scale(7.41,17.29)"/>
<use href="#g9" transform="translate(2017.7,1632.5) skewX(-15) translate(0,-17.3) scale(7.78,17.29)"/>
<use href="#g2" transform="translate(2031.0,1632.5) skewX(-15) translate(0,-17.3) scale(7.41,17.29)"/>
</g>
<g fill="none" stroke="#000" stroke-width="1.71" stroke-linecap="round" stroke-linejoin="round">
<use href="#g33" transform="translate(2315.9,1632.5) skewX(-15) translate(0,-17.3) scale(9.50,17.29)"/>
<use href="#g54" transform="translate(2331.1,1632.5) skewX(-15) translate(0,-17.3) scale(10.27,17.29)"/>
<use href="#g39" transform="translate(2347.2,1632.5) skewX(-15) translate(0,-17.3) scale(7.95,17.29)"/>
<use href="#g18" transform="translate(2360.9,1632.5) skewX(-15) translate(0,-17.3) scale(7.95,17.29)"/>
<use href="#g63" transform="translate(2374.6,1632.5) skewX(-15) translate(0,-17.3) scale(7.18,17.29)"/>
<use href="#g55" transform="translate(2398.6,1632.5) skewX(-15) translate(0,-17.3) scale(7.95,17.29)"/>
<use href="#g42" transform="translate(2412.3,1632.5) skewX(-15) translate(0,-17.3) scale(7.18,17.29)"/>
<use href="#g18" transform="translate(2425.3,1632.5) skewX(-15) translate(0,-17.3) scale(7.95,17.29)"/>
<use href="#g50" transform="translate(2439.0,1632.5) skewX(-15) translate(0,-17.3) scale(7.95,17.29)"/>
<use href="#g41" transform="translate(2452.7,1632.5) skewX(-15) translate(0,-17.3) scale(7.95,17.29)"/>
<use href="#g39" transform="translate(2466.4,1632.5) skewX(-15) translate(0,-17.3) scale(7.95,17.29)"/>
<use href="#g65" transform="translate(2480.1,1632.5) skewX(-15) translate(0,-17.3) scale(7.57,17.29)"/>
<use href="#g52" transform="translate(2504.5,1632.5) skewX(-15) translate(0,-17.3) scale(7.95,17.29)"/>
<use href="#g39" transform="translate(2518.2,1632.5) skewX(-15) translate(0,-17.3) scale(7.95,17.29)"/>
<use href="#g41" transform="translate(2531.9,1632.5) skewX(-15) translate(0,-17.3) scale(7.95,17.29)"/>
<use href="#g49" transform="translate(2545.7,1632.5) skewX(-15) translate(0,-17.3) scale(7.95,17.29)"/>
<use href="#g50" transform="translate(2559.4,1632.5) skewX(-15) translate(0,-17.3) scale(7.95,17.29)"/>
<use href="#g51" transform="translate(2573.1,1632.5) skewX(-15) translate(0,-17.3) scale(7.95,17.29)"/>
<use href="#g50" transform="translate(2586.8,1632.5) skewX(-15) translate(0,-17.3) scale(7.95,17.29)"/>
<use href="#g18" transform="translate(2600.6,1632.5) skewX(-15) translate(0,-17.3) scale(7.95,17.29)"/>
<use href="#g50" transform="translate(2614.3,1632.5) skewX(-15) translate(0,-17.3) scale(7.95,17.29)"/>
<use href="#g59" transform="translate(2628.0,1632.5) skewX(-15) translate(0,-17.3) scale(7.57,17.29)"/>
<use href="#g49" transform="translate(2641.3,1632.5) skewX(-15) translate(0,-17.3) scale(7.95,17.29)"/>
<use href="#g39" transform="translate(2655.1,1632.5) skewX(-15) translate(0,-17.3) scale(7.95,17.29)"/>
<use href="#g65" transform="translate(2668.8,1632.5) skewX(-15) translate(0,-17.3) scale(7.57,17.29)"/>
</g>
<g fill="none" stroke="#000" stroke-width="1.71" stroke-linecap="round" stroke-linejoin="round">
<use href="#g0" transform="translate(2851.4,1632.5) skewX(-11) translate(0,-17.3) scale(3.04,17.29)"/>
<use href="#g5" transform="translate(2859.4,1632.5) skewX(-11) translate(0,-17.3) scale(6.52,17.29)"/>
</g>
<g fill="none" stroke="#000" stroke-width="1.71" stroke-linecap="round" stroke-linejoin="round">
<use href="#g1" transform="translate(2933.4,1632.5) skewX(-11) translate(0,-17.3) scale(8.62,17.29)"/>
<use href="#g10" transform="translate(2947.8,1632.5) skewX(-11) translate(0,-17.3) scale(1.02,17.29)"/>
<use href="#g0" transform="translate(2954.6,1632.5) skewX(-11) translate(0,-17.3) scale(4.14,17.29)"/>
<use href="#g7" transform="translate(2964.5,1632.5) skewX(-11) translate(0,-17.3) scale(8.42,17.29)"/>
</g>
<g fill="none" stroke="#000" stroke-width="1.71" stroke-linecap="round" stroke-linejoin="round">
<use href="#g2" transform="translate(3058.9,1632.5) skewX(-11) translate(0,-17.3) scale(6.78,17.29)"/>
<use href="#g3" transform="translate(3070.9,1632.5) skewX(-11) translate(0,-17.3) scale(8.47,17.29)"/>
<use href="#g10" transform="translate(3084.7,1632.5) skewX(-11) translate(0,-17.3) scale(0.67,17.29)"/>
<use href="#g7" transform="translate(3090.6,1632.5) skewX(-11) translate(0,-17.3) scale(7.11,17.29)"/>
<use href="#g3" transform="translate(3103.0,1632.5) skewX(-11) translate(0,-17.3) scale(8.47,17.29)"/>
</g>
<g fill="none" stroke="#000" stroke-width="1.71" stroke-linecap="round" stroke-linejoin="round">
<use href="#g4" transform="translate(2327.1,1693.1) skewX(-15) translate(0,-17.3) scale(7.94,17.29)"/>
<use href="#g6" transform="translate(2340.6,1693.1) skewX(-15) translate(0,-17.3) scale(7.94,17.29)"/>
<use href="#g57" transform="translate(2354.1,1693.1) skewX(-15) translate(0,-17.3) scale(7.19,17.29)"/>
<use href="#g4" transform="translate(2366.9,1693.1) skewX(-15) translate(0,-17.3) scale(7.94,17.29)"/>
<use href="#g66" transform="translate(2391.1,1693.1) skewX(-15) translate(0,-17.3) scale(2.37,17.29)"/>
<use href="#g68" transform="translate(2399.0,1693.1) skewX(-15) translate(0,-17.3) scale(6.64,17.29)"/>
<use href="#g4" transform="translate(2411.3,1693.1) skewX(-15) translate(0,-17.3) scale(7.94,17.29)"/>
<use href="#g7" transform="translate(2424.8,1693.1) skewX(-15) translate(0,-17.3) scale(7.94,17.29)"/>
<use href="#g4" transform="translate(2438.4,1693.1) skewX(-15) translate(0,-17.3) scale(7.94,17.29)"/>
<use href="#g48" transform="translate(2451.9,1693.1) skewX(-15) translate(0,-17.3) scale(9.42,17.29)"/>
<use href="#g48" transform="translate(2466.9,1693.1) skewX(-15) translate(0,-17.3) scale(9.42,17.29)"/>
</g>
<g fill="none" stroke="#000" stroke-width="1.71" stroke-linecap="round" stroke-linejoin="round">
<use href="#g4" transform="translate(1806.9,1753.5) skewX(-11) translate(0,-17.3) scale(8.60,17.29)"/>
</g>
<g fill="none" stroke="#000" stroke-width="1.71" stroke-linecap="round" stroke-linejoin="round">
<use href="#g21" transform="translate(1885.1,1753.5) skewX(-15) translate(0,-17.3) scale(6.52,17.29)"/>
<use href="#g30" transform="translate(1897.1,1753.5) skewX(-15) translate(0,-17.3) scale(9.63,17.29)"/>
<use href="#g33" transform="translate(1912.3,1753.5) skewX(-15) translate(0,-17.3) scale(8.90,17.29)"/>
<use href="#g34" transform="translate(1926.8,1753.5) skewX(-15) translate(0,-17.3) scale(8.90,17.29)"/>
<use href="#g0" transform="translate(1951.6,1753.5) skewX(-15) translate(0,-17.3) scale(3.78,17.29)"/>
<use href="#g9" transform="translate(1961.0,1753.5) skewX(-15) translate(0,-17.3) scale(7.80,17.29)"/>
<use href="#g9" transform="translate(1974.3,1753.5) skewX(-15) translate(0,-17.3) scale(7.80,17.29)"/>
<use href="#g6" transform="translate(1987.7,1753.5) skewX(-15) translate(0,-17.3) scale(7.80,17.29)"/>
<use href="#g2" transform="translate(2001.0,1753.5) skewX(-15) translate(0,-17.3) scale(7.44,17.29)"/>
<use href="#g13" transform="translate(2014.0,1753.5) skewX(-15) translate(0,-17.3) scale(7.44,17.29)"/>
<use href="#g1" transform="translate(2027.0,1753.5) skewX(-15) translate(0,-17.3) scale(7.99,17.29)"/>
<use href="#g6" transform="translate(2040.6,1753.5) skewX(-15) translate(0,-17.3) scale(7.80,17.29)"/>
<use href="#g0" transform="translate(2053.9,1753.5) skewX(-15) translate(0,-17.3) scale(3.78,17.29)"/>
<use href="#g4" transform="translate(2063.3,1753.5) skewX(-15) translate(0,-17.3) scale(7.80,17.29)"/>
</g>
<g fill="none" stroke="#000" stroke-width="1.71" stroke-linecap="round" stroke-linejoin="round">
<use href="#g33" transform="translate(2315.9,1753.5) skewX(-15) translate(0,-17.3) scale(9.38,17.29)"/>
<use href="#g54" transform="translate(2331.0,1753.5) skewX(-15) translate(0,-17.3) scale(10.14,17.29)"/>
<use href="#g39" transform="translate(2346.8,1753.5) skewX(-15) translate(0,-17.3) scale(7.85,17.29)"/>
<use href="#g18" transform="translate(2360.4,1753.5) skewX(-15) translate(0,-17.3) scale(7.85,17.29)"/>
<use href="#g63" transform="translate(2374.0,1753.5) skewX(-15) translate(0,-17.3) scale(7.09,17.29)"/>
<use href="#g18" transform="translate(2397.7,1753.5) skewX(-15) translate(0,-17.3) scale(7.85,17.29)"/>
<use href="#g45" transform="translate(2411.3,1753.5) skewX(-15) translate(0,-17.3) scale(7.85,17.29)"/>
<use href="#g53" transform="translate(2424.8,1753.5) skewX(-15) translate(0,-17.3) scale(7.09,17.29)"/>
<use href="#g54" transform="translate(2437.7,1753.5) skewX(-15) translate(0,-17.3) scale(10.14,17.29)"/>
<use href="#g50" transform="translate(2453.5,1753.5) skewX(-15) translate(0,-17.3) scale(7.85,17.29)"/>
<use href="#g41" transform="translate(2467.1,1753.5) skewX(-15) translate(0,-17.3) scale(7.85,17.29)"/>
<use href="#g39" transform="translate(2480.7,1753.5) skewX(-15) translate(0,-17.3) scale(7.85,17.29)"/>
<use href="#g65" transform="translate(2494.2,1753.5) skewX(-15) translate(0,-17.3) scale(7.47,17.29)"/>
<use href="#g54" transform="translate(2518.3,1753.5) skewX(-15) translate(0,-17.3) scale(10.14,17.29)"/>
<use href="#g50" transform="translate(2534.2,1753.5) skewX(-15) translate(0,-17.3) scale(7.85,17.29)"/>
<use href="#g18" transform="translate(2547.8,1753.5) skewX(-15) translate(0,-17.3) scale(7.85,17.29)"/>
<use href="#g61" transform="translate(2561.4,1753.5) skewX(-15) translate(0,-17.3) scale(10.91,17.29)"/>
<use href="#g11" transform="translate(2578.0,1753.5) skewX(-15) translate(0,-17.3) scale(0.20,17.29)"/>
<use href="#g0" transform="translate(2583.9,1753.5) skewX(-15) translate(0,-17.3) scale(4.03,17.29)"/>
<use href="#g6" transform="translate(2593.7,1753.5) skewX(-15) translate(0,-17.3) scale(8.23,17.29)"/>
<use href="#g48" transform="translate(2607.6,1753.5) skewX(-15) translate(0,-17.3) scale(9.76,17.29)"/>
<use href="#g48" transform="translate(2623.1,1753.5) skewX(-15) translate(0,-17.3) scale(9.76,17.29)"/>
<use href="#g69" transform="translate(2649.5,1753.5) skewX(-15) translate(0,-17.3) scale(2.50,17.29)"/>
<use href="#g0" transform="translate(2657.7,1753.5) skewX(-15) translate(0,-17.3) scale(4.03,17.29)"/>
<use href="#g4" transform="translate(2667.5,1753.5) skewX(-15) translate(0,-17.3) scale(8.23,17.29)"/>
<use href="#g6" transform="translate(2681.4,1753.5) skewX(-15) translate(0,-17.3) scale(8.23,17.29)"/>
<use href="#g57" transform="translate(2695.4,1753.5) skewX(-15) translate(0,-17.3) scale(7.47,17.29)"/>
<use href="#g0" transform="translate(2708.6,1753.5) skewX(-15) translate(0,-17.3) scale(4.03,17.29)"/>
<use href="#g4" transform="translate(2718.3,1753.5) skewX(-15) translate(0,-17.3) scale(8.23,17.29)"/>
<use href="#g6" transform="translate(2732.3,1753.5) skewX(-15) translate(0,-17.3) scale(8.23,17.29)"/>
<use href="#g70" transform="translate(2746.3,1753.5) skewX(-15) translate(0,-17.3) scale(2.50,17.29)"/>
</g>
<g fill="none" stroke="#000" stroke-width="1.71" stroke-linecap="round" stroke-linejoin="round">
<use href="#g0" transform="translate(2851.4,1753.5) skewX(-11) translate(0,-17.3) scale(3.04,17.29)"/>
<use href="#g5" transform="translate(2859.4,1753.5) skewX(-11) translate(0,-17.3) scale(6.52,17.29)"/>
</g>
<g fill="none" stroke="#000" stroke-width="1.71" stroke-linecap="round" stroke-linejoin="round">
<use href="#g0" transform="translate(2933.4,1753.5) skewX(-11) translate(0,-17.3) scale(4.16,17.29)"/>
<use href="#g10" transform="translate(2943.3,1753.5) skewX(-11) translate(0,-17.3) scale(1.03,17.29)"/>
<use href="#g7" transform="translate(2950.2,1753.5) skewX(-11) translate(0,-17.3) scale(8.47,17.29)"/>
<use href="#g7" transform="translate(2964.5,1753.5) skewX(-11) translate(0,-17.3) scale(8.47,17.29)"/>
</g>
<g fill="none" stroke="#000" stroke-width="1.71" stroke-linecap="round" stroke-linejoin="round">
<use href="#g1" transform="translate(3058.9,1753.5) skewX(-11) translate(0,-17.3) scale(7.70,17.29)"/>
<use href="#g8" transform="translate(3072.0,1753.5) skewX(-11) translate(0,-17.3) scale(7.52,17.29)"/>
<use href="#g10" transform="translate(3084.9,1753.5) skewX(-11) translate(0,-17.3) scale(0.77,17.29)"/>
<use href="#g2" transform="translate(3091.2,1753.5) skewX(-11) translate(0,-17.3) scale(7.16,17.29)"/>
<use href="#g1" transform="translate(3103.8,1753.5) skewX(-11) translate(0,-17.3) scale(7.70,17.29)"/>
</g>
<g fill="none" stroke="#000" stroke-width="1.71" stroke-linecap="round" stroke-linejoin="round">
<use href="#g5" transform="translate(1806.9,1813.5) skewX(-11) translate(0,-17.3) scale(8.60,17.29)"/>
</g>
<g fill="none" stroke="#000" stroke-width="1.71" stroke-linecap="round" stroke-linejoin="round">
<use href="#g21" transform="translate(1885.1,1813.5) skewX(-15) translate(0,-17.3) scale(6.52,17.29)"/>
<use href="#g30" transform="translate(1897.1,1813.5) skewX(-15) translate(0,-17.3) scale(9.63,17.29)"/>
<use href="#g33" transform="translate(1912.3,1813.5) skewX(-15) translate(0,-17.3) scale(8.90,17.29)"/>
<use href="#g34" transform="translate(1926.8,1813.5) skewX(-15) translate(0,-17.3) scale(8.90,17.29)"/>
<use href="#g0" transform="translate(1951.6,1813.5) skewX(-15) translate(0,-17.3) scale(3.78,17.29)"/>
<use href="#g9" transform="translate(1961.0,1813.5) skewX(-15) translate(0,-17.3) scale(7.80,17.29)"/>
<use href="#g9" transform="translate(1974.3,1813.5) skewX(-15) translate(0,-17.3) scale(7.80,17.29)"/>
<use href="#g6" transform="translate(1987.7,1813.5) skewX(-15) translate(0,-17.3) scale(7.80,17.29)"/>
<use href="#g2" transform="translate(2001.0,1813.5) skewX(-15) translate(0,-17.3) scale(7.44,17.29)"/>
<use href="#g13" transform="translate(2014.0,1813.5) skewX(-15) translate(0,-17.3) scale(7.44,17.29)"/>
<use href="#g1" transform="translate(2027.0,1813.5) skewX(-15) translate(0,-17.3) scale(7.99,17.29)"/>
<use href="#g6" transform="translate(2040.6,1813.5) skewX(-15) translate(0,-17.3) scale(7.80,17.29)"/>
<use href="#g0" transform="translate(2053.9,1813.5) skewX(-15) translate(0,-17.3) scale(3.78,17.29)"/>
<use href="#g4" transform="translate(2063.3,1813.5) skewX(-15) translate(0,-17.3) scale(7.80,17.29)"/>
</g>
<g fill="none" stroke="#000" stroke-width="1.71" stroke-linecap="round" stroke-linejoin="round">
<use href="#g33" transform="translate(2315.9,1813.5) skewX(-15) translate(0,-17.3) scale(9.38,17.29)"/>
<use href="#g54" transform="translate(2331.0,1813.5) skewX(-15) translate(0,-17.3) scale(10.14,17.29)"/>
<use href="#g39" transform="translate(2346.8,1813.5) skewX(-15) translate(0,-17.3) scale(7.85,17.29)"/>
<use href="#g18" transform="translate(2360.4,1813.5) skewX(-15) translate(0,-17.3) scale(7.85,17.29)"/>
<use href="#g63" transform="translate(2374.0,1813.5) skewX(-15) translate(0,-17.3) scale(7.09,17.29)"/>
<use href="#g18" transform="translate(2397.7,1813.5) skewX(-15) translate(0,-17.3) scale(7.85,17.29)"/>
<use href="#g45" transform="translate(2411.3,1813.5) skewX(-15) translate(0,-17.3) scale(7.85,17.29)"/>
<use href="#g53" transform="translate(2424.8,1813.5) skewX(-15) translate(0,-17.3) scale(7.09,17.29)"/>
<use href="#g54" transform="translate(2437.7,1813.5) skewX(-15) translate(0,-17.3) scale(10.14,17.29)"/>
<use href="#g50" transform="translate(2453.5,1813.5) skewX(-15) translate(0,-17.3) scale(7.85,17.29)"/>
<use href="#g41" transform="translate(2467.1,1813.5) skewX(-15) translate(0,-17.3) scale(7.85,17.29)"/>
<use href="#g39" transform="translate(2480.7,1813.5) skewX(-15) translate(0,-17.3) scale(7.85,17.29)"/>
<use href="#g65" transform="translate(2494.2,1813.5) skewX(-15) translate(0,-17.3) scale(7.47,17.29)"/>
<use href="#g54" transform="translate(2518.3,1813.5) skewX(-15) translate(0,-17.3) scale(10.14,17.29)"/>
<use href="#g50" transform="translate(2534.2,1813.5) skewX(-15) translate(0,-17.3) scale(7.85,17.29)"/>
<use href="#g18" transform="translate(2547.8,1813.5) skewX(-15) translate(0,-17.3) scale(7.85,17.29)"/>
<use href="#g61" transform="translate(2561.4,1813.5) skewX(-15) translate(0,-17.3) scale(10.91,17.29)"/>
<use href="#g11" transform="translate(2578.0,1813.5) skewX(-15) translate(0,-17.3) scale(0.20,17.29)"/>
<use href="#g0" transform="translate(2583.9,1813.5) skewX(-15) translate(0,-17.3) scale(4.03,17.29)"/>
<use href="#g6" transform="translate(2593.7,1813.5) skewX(-15) translate(0,-17.3) scale(8.23,17.29)"/>
<use href="#g48" transform="translate(2607.6,1813.5) skewX(-15) translate(0,-17.3) scale(9.76,17.29)"/>
<use href="#g48" transform="translate(2623.1,1813.5) skewX(-15) translate(0,-17.3) scale(9.76,17.29)"/>
<use href="#g69" transform="translate(2649.5,1813.5) skewX(-15) translate(0,-17.3) scale(2.50,17.29)"/>
<use href="#g0" transform="translate(2657.7,1813.5) skewX(-15) translate(0,-17.3) scale(4.03,17.29)"/>
<use href="#g6" transform="translate(2667.5,1813.5) skewX(-15) translate(0,-17.3) scale(8.23,17.29)"/>
<use href="#g6" transform="translate(2681.4,1813.5) skewX(-15) translate(0,-17.3) scale(8.23,17.29)"/>
<use href="#g57" transform="translate(2695.4,1813.5) skewX(-15) translate(0,-17.3) scale(7.47,17.29)"/>
<use href="#g0" transform="translate(2708.6,1813.5) skewX(-15) translate(0,-17.3) scale(4.03,17.29)"/>
<use href="#g6" transform="translate(2718.3,1813.5) skewX(-15) translate(0,-17.3) scale(8.23,17.29)"/>
<use href="#g6" transform="translate(2732.3,1813.5) skewX(-15) translate(0,-17.3) scale(8.23,17.29)"/>
<use href="#g70" transform="translate(2746.3,1813.5) skewX(-15) translate(0,-17.3) scale(2.50,17.29)"/>
</g>
<g fill="none" stroke="#000" stroke-width="1.71" stroke-linecap="round" stroke-linejoin="round">
<use href="#g0" transform="translate(2851.4,1813.5) skewX(-11) translate(0,-17.3) scale(3.04,17.29)"/>
<use href="#g5" transform="translate(2859.4,1813.5) skewX(-11) translate(0,-17.3) scale(6.52,17.29)"/>
</g>
<g fill="none" stroke="#000" stroke-width="1.71" stroke-linecap="round" stroke-linejoin="round">
<use href="#g6" transform="translate(2926.4,1813.5) skewX(-11) translate(0,-17.3) scale(7.69,17.29)"/>
<use href="#g10" transform="translate(2939.5,1813.5) skewX(-11) translate(0,-17.3) scale(0.82,17.29)"/>
<use href="#g7" transform="translate(2945.9,1813.5) skewX(-11) translate(0,-17.3) scale(7.69,17.29)"/>
<use href="#g8" transform="translate(2959.1,1813.5) skewX(-11) translate(0,-17.3) scale(7.69,17.29)"/>
<use href="#g4" transform="translate(2972.3,1813.5) skewX(-11) translate(0,-17.3) scale(7.69,17.29)"/>
</g>
<g fill="none" stroke="#000" stroke-width="1.71" stroke-linecap="round" stroke-linejoin="round">
<use href="#g0" transform="translate(3058.9,1813.5) skewX(-11) translate(0,-17.3) scale(4.01,17.29)"/>
<use href="#g1" transform="translate(3068.6,1813.5) skewX(-11) translate(0,-17.3) scale(8.39,17.29)"/>
<use href="#g10" transform="translate(3082.7,1813.5) skewX(-11) translate(0,-17.3) scale(0.96,17.29)"/>
<use href="#g4" transform="translate(3089.3,1813.5) skewX(-11) translate(0,-17.3) scale(8.20,17.29)"/>
<use href="#g5" transform="translate(3103.3,1813.5) skewX(-11) translate(0,-17.3) scale(8.20,17.29)"/>
</g>
<line x1="1752.7" y1="1874.0" x2="3162.0" y2="1874.0" stroke="#000" stroke-width="2.2" shape-rendering="crispEdges"/>
<line x1="1753.0" y1="1874.3" x2="1753.0" y2="2292.0" stroke="#000" stroke-width="2.2" shape-rendering="crispEdges"/>
<line x1="1833.0" y1="1874.3" x2="1833.0" y2="2063.8" stroke="#000" stroke-width="2" shape-rendering="crispEdges"/>
<line x1="1993.0" y1="1874.3" x2="1993.0" y2="2063.8" stroke="#000" stroke-width="2" shape-rendering="crispEdges"/>
<line x1="1913.0" y1="1874.3" x2="1913.0" y2="2292.0" stroke="#000" stroke-width="2" shape-rendering="crispEdges"/>
<line x1="2073.0" y1="1874.3" x2="2073.0" y2="2292.0" stroke="#000" stroke-width="2" shape-rendering="crispEdges"/>
<line x1="2193.0" y1="1874.3" x2="2193.0" y2="2292.0" stroke="#000" stroke-width="2" shape-rendering="crispEdges"/>
<line x1="2273.0" y1="1874.3" x2="2273.0" y2="2292.0" stroke="#000" stroke-width="2.2" shape-rendering="crispEdges"/>
<line x1="1752.7" y1="1912.5" x2="2272.9" y2="1912.5" stroke="#000" stroke-width="1.2" shape-rendering="crispEdges"/>
<line x1="1752.7" y1="1950.5" x2="2272.9" y2="1950.5" stroke="#000" stroke-width="1.2" shape-rendering="crispEdges"/>
<line x1="1752.7" y1="1988.5" x2="2272.9" y2="1988.5" stroke="#000" stroke-width="1.2" shape-rendering="crispEdges"/>
<line x1="1752.7" y1="2102.5" x2="2272.9" y2="2102.5" stroke="#000" stroke-width="1.2" shape-rendering="crispEdges"/>
<line x1="1752.7" y1="2140.5" x2="2272.9" y2="2140.5" stroke="#000" stroke-width="1.2" shape-rendering="crispEdges"/>
<line x1="1752.7" y1="2178.5" x2="2272.9" y2="2178.5" stroke="#000" stroke-width="1.2" shape-rendering="crispEdges"/>
<line x1="1752.7" y1="2216.5" x2="2272.9" y2="2216.5" stroke="#000" stroke-width="1.2" shape-rendering="crispEdges"/>
<line x1="1752.7" y1="2254.5" x2="2272.9" y2="2254.5" stroke="#000" stroke-width="1.2" shape-rendering="crispEdges"/>
<line x1="1752.7" y1="2026.0" x2="2272.9" y2="2026.0" stroke="#000" stroke-width="2" shape-rendering="crispEdges"/>
<line x1="1752.7" y1="2064.0" x2="2272.9" y2="2064.0" stroke="#000" stroke-width="2" shape-rendering="crispEdges"/>
<line x1="2272.9" y1="1949.0" x2="3162.0" y2="1949.0" stroke="#000" stroke-width="2" shape-rendering="crispEdges"/>
<line x1="2272.9" y1="2064.0" x2="3162.0" y2="2064.0" stroke="#000" stroke-width="2" shape-rendering="crispEdges"/>
<line x1="2780.6" y1="2101.5" x2="3162.0" y2="2101.5" stroke="#000" stroke-width="1.2" shape-rendering="crispEdges"/>
<line x1="2272.9" y1="2178.0" x2="3162.0" y2="2178.0" stroke="#000" stroke-width="2" shape-rendering="crispEdges"/>
<line x1="2781.0" y1="2063.8" x2="2781.0" y2="2292.0" stroke="#000" stroke-width="2" shape-rendering="crispEdges"/>
<line x1="2896.0" y1="2063.8" x2="2896.0" y2="2178.1" stroke="#000" stroke-width="2" shape-rendering="crispEdges"/>
<line x1="3010.0" y1="2063.8" x2="3010.0" y2="2178.1" stroke="#000" stroke-width="2" shape-rendering="crispEdges"/>
<g fill="none" stroke="#444" stroke-width="1.10" stroke-linecap="round" stroke-linejoin="round">
<use href="#g5" transform="translate(1835.5,1953.8) scale(9.64,18.40)"/>
<use href="#g10" transform="translate(1850.6,1953.8) scale(1.79,18.40)"/>
<use href="#g6" transform="translate(1857.9,1953.8) scale(9.64,18.40)"/>
<use href="#g6" transform="translate(1872.9,1953.8) scale(9.64,18.40)"/>
<use href="#g6" transform="translate(1888.0,1953.8) scale(9.64,18.40)"/>
</g>
<line x1="1817.0" y1="1963.5" x2="1834.0" y2="1963.5" stroke="#000" stroke-width="1" shape-rendering="crispEdges"/>
<line x1="1806.3" y1="1979.5" x2="1904.6" y2="1979.5" stroke="#000" stroke-width="1" shape-rendering="crispEdges"/>
<line x1="1806.5" y1="1979.0" x2="1806.5" y2="2024.0" stroke="#000" stroke-width="1" shape-rendering="crispEdges"/>
<polyline points="1790.5,2009.5 1806.5,2024.5 1822.5,2009.5" fill="none" stroke="#000" stroke-width="1"/>
<line x1="1767.8" y1="2024.0" x2="1817.0" y2="2024.0" stroke="#000" stroke-width="2" shape-rendering="crispEdges"/>
<g fill="none" stroke="#000" stroke-width="1.99" stroke-linecap="round" stroke-linejoin="round">
<use href="#g25" transform="translate(1768.3,2052.7) skewX(-15) translate(0,-20.1) scale(10.06,20.11)"/>
<use href="#g16" transform="translate(1784.7,2052.7) skewX(-15) translate(0,-20.1) scale(7.56,20.11)"/>
<use href="#g48" transform="translate(1798.6,2052.7) skewX(-15) translate(0,-20.1) scale(10.47,20.11)"/>
</g>
<g fill="none" stroke="#000" stroke-width="1.99" stroke-linecap="round" stroke-linejoin="round">
<use href="#g26" transform="translate(1844.3,2052.7) skewX(-15) translate(0,-20.1) scale(9.93,20.11)"/>
<use href="#g50" transform="translate(1860.8,2052.7) skewX(-15) translate(0,-20.1) scale(8.84,20.11)"/>
<use href="#g18" transform="translate(1876.1,2052.7) skewX(-15) translate(0,-20.1) scale(8.84,20.11)"/>
</g>
<g fill="none" stroke="#000" stroke-width="1.99" stroke-linecap="round" stroke-linejoin="round">
<use href="#g27" transform="translate(1923.3,2052.7) skewX(-15) translate(0,-20.1) scale(10.35,20.11)"/>
<use href="#g45" transform="translate(1940.1,2052.7) skewX(-15) translate(0,-20.1) scale(8.65,20.11)"/>
<use href="#g53" transform="translate(1955.2,2052.7) skewX(-15) translate(0,-20.1) scale(7.80,20.11)"/>
<use href="#g54" transform="translate(1969.5,2052.7) skewX(-15) translate(0,-20.1) scale(11.21,20.11)"/>
</g>
<g fill="none" stroke="#000" stroke-width="1.99" stroke-linecap="round" stroke-linejoin="round">
<use href="#g38" transform="translate(2003.0,2052.7) skewX(-15) translate(0,-20.1) scale(10.38,20.11)"/>
<use href="#g43" transform="translate(2019.8,2052.7) skewX(-15) translate(0,-20.1) scale(8.68,20.11)"/>
<use href="#g50" transform="translate(2035.0,2052.7) skewX(-15) translate(0,-20.1) scale(8.68,20.11)"/>
<use href="#g47" transform="translate(2050.1,2052.7) skewX(-15) translate(0,-20.1) scale(8.25,20.11)"/>
</g>
<g fill="none" stroke="#000" stroke-width="1.99" stroke-linecap="round" stroke-linejoin="round">
<use href="#g31" transform="translate(2101.8,2052.7) skewX(-15) translate(0,-20.1) scale(10.24,20.11)"/>
<use href="#g50" transform="translate(2118.5,2052.7) skewX(-15) translate(0,-20.1) scale(8.55,20.11)"/>
<use href="#g43" transform="translate(2133.4,2052.7) skewX(-15) translate(0,-20.1) scale(8.55,20.11)"/>
<use href="#g51" transform="translate(2148.4,2052.7) skewX(-15) translate(0,-20.1) scale(8.55,20.11)"/>
<use href="#g11" transform="translate(2163.4,2052.7) skewX(-15) translate(0,-20.1) scale(0.12,20.11)"/>
</g>
<g fill="none" stroke="#000" stroke-width="1.99" stroke-linecap="round" stroke-linejoin="round">
<use href="#g22" transform="translate(2198.7,2052.7) skewX(-15) translate(0,-20.1) scale(12.70,20.11)"/>
<use href="#g39" transform="translate(2218.4,2052.7) skewX(-15) translate(0,-20.1) scale(9.85,20.11)"/>
<use href="#g54" transform="translate(2235.2,2052.7) skewX(-15) translate(0,-20.1) scale(12.70,20.11)"/>
<use href="#g39" transform="translate(2254.8,2052.7) skewX(-15) translate(0,-20.1) scale(9.85,20.11)"/>
</g>
<g fill="none" stroke="#000" stroke-width="1.94" stroke-linecap="round" stroke-linejoin="round">
<use href="#g32" transform="translate(1772.6,2090.6) skewX(-15) translate(0,-19.7) scale(10.56,19.66)"/>
<use href="#g39" transform="translate(1789.8,2090.6) skewX(-15) translate(0,-19.7) scale(9.42,19.66)"/>
<use href="#g16" transform="translate(1806.0,2090.6) skewX(-15) translate(0,-19.7) scale(8.51,19.66)"/>
<use href="#g52" transform="translate(1821.2,2090.6) skewX(-15) translate(0,-19.7) scale(9.42,19.66)"/>
<use href="#g39" transform="translate(1837.3,2090.6) skewX(-15) translate(0,-19.7) scale(9.42,19.66)"/>
<use href="#g40" transform="translate(1853.5,2090.6) skewX(-15) translate(0,-19.7) scale(9.42,19.66)"/>
<use href="#g11" transform="translate(1869.6,2090.6) skewX(-15) translate(0,-19.7) scale(0.33,19.66)"/>
</g>
<g fill="none" stroke="#000" stroke-width="2.02" stroke-linecap="round" stroke-linejoin="round">
<use href="#g35" transform="translate(1929.6,2094.4) skewX(-15) translate(0,-20.4) scale(13.29,20.38)"/>
<use href="#g55" transform="translate(1949.6,2094.4) skewX(-15) translate(0,-20.4) scale(9.24,20.38)"/>
<use href="#g49" transform="translate(1965.6,2094.4) skewX(-15) translate(0,-20.4) scale(9.24,20.38)"/>
<use href="#g54" transform="translate(1981.6,2094.4) skewX(-15) translate(0,-20.4) scale(11.94,20.38)"/>
<use href="#g65" transform="translate(2000.3,2094.4) skewX(-15) translate(0,-20.4) scale(8.79,20.38)"/>
<use href="#g17" transform="translate(2015.8,2094.4) skewX(-15) translate(0,-20.4) scale(9.24,20.38)"/>
<use href="#g41" transform="translate(2031.8,2094.4) skewX(-15) translate(0,-20.4) scale(9.24,20.38)"/>
<use href="#g39" transform="translate(2047.8,2094.4) skewX(-15) translate(0,-20.4) scale(9.24,20.38)"/>
</g>
<g fill="none" stroke="#000" stroke-width="1.93" stroke-linecap="round" stroke-linejoin="round">
<use href="#g0" transform="translate(2201.8,2098.2) skewX(-11) translate(0,-19.6) scale(4.30,19.56)"/>
<use href="#g0" transform="translate(2212.4,2098.2) skewX(-11) translate(0,-19.6) scale(4.30,19.56)"/>
<use href="#g11" transform="translate(2223.0,2098.2) skewX(-11) translate(0,-19.6) scale(0.14,19.56)"/>
<use href="#g1" transform="translate(2229.4,2098.2) skewX(-11) translate(0,-19.6) scale(9.08,19.56)"/>
<use href="#g1" transform="translate(2244.8,2098.2) skewX(-11) translate(0,-19.6) scale(9.08,19.56)"/>
</g>
<g fill="none" stroke="#000" stroke-width="1.99" stroke-linecap="round" stroke-linejoin="round">
<use href="#g21" transform="translate(1773.9,2168.4) skewX(-15) translate(0,-20.1) scale(8.47,20.11)"/>
<use href="#g25" transform="translate(1789.2,2168.4) skewX(-15) translate(0,-20.1) scale(11.49,20.11)"/>
<use href="#g31" transform="translate(1807.6,2168.4) skewX(-15) translate(0,-20.1) scale(11.49,20.11)"/>
</g>
<g fill="none" stroke="#000" stroke-width="2.04" stroke-linecap="round" stroke-linejoin="round">
<use href="#g28" transform="translate(1927.0,2169.0) skewX(-15) translate(0,-20.7) scale(13.32,20.66)"/>
<use href="#g39" transform="translate(1947.1,2169.0) skewX(-15) translate(0,-20.7) scale(9.25,20.66)"/>
<use href="#g18" transform="translate(1963.2,2169.0) skewX(-15) translate(0,-20.7) scale(9.25,20.66)"/>
<use href="#g62" transform="translate(1979.2,2169.0) skewX(-15) translate(0,-20.7) scale(11.51,20.66)"/>
<use href="#g57" transform="translate(1997.5,2169.0) skewX(-15) translate(0,-20.7) scale(8.80,20.66)"/>
</g>
<g fill="none" stroke="#000" stroke-width="1.93" stroke-linecap="round" stroke-linejoin="round">
<use href="#g0" transform="translate(2201.8,2174.2) skewX(-11) translate(0,-19.6) scale(4.30,19.56)"/>
<use href="#g0" transform="translate(2212.4,2174.2) skewX(-11) translate(0,-19.6) scale(4.30,19.56)"/>
<use href="#g11" transform="translate(2223.0,2174.2) skewX(-11) translate(0,-19.6) scale(0.14,19.56)"/>
<use href="#g1" transform="translate(2229.4,2174.2) skewX(-11) translate(0,-19.6) scale(9.08,19.56)"/>
<use href="#g1" transform="translate(2244.8,2174.2) skewX(-11) translate(0,-19.6) scale(9.08,19.56)"/>
</g>
<g fill="none" stroke="#000" stroke-width="2.05" stroke-linecap="round" stroke-linejoin="round">
<use href="#g29" transform="translate(1763.8,2284.3) skewX(-15) translate(0,-20.7) scale(11.15,20.75)"/>
<use href="#g11" transform="translate(1781.8,2284.3) skewX(-15) translate(0,-20.7) scale(0.22,20.75)"/>
<use href="#g26" transform="translate(1801.8,2284.3) skewX(-15) translate(0,-20.7) scale(10.47,20.75)"/>
<use href="#g50" transform="translate(1819.1,2284.3) skewX(-15) translate(0,-20.7) scale(9.33,20.75)"/>
<use href="#g49" transform="translate(1835.3,2284.3) skewX(-15) translate(0,-20.7) scale(9.33,20.75)"/>
<use href="#g54" transform="translate(1851.4,2284.3) skewX(-15) translate(0,-20.7) scale(12.06,20.75)"/>
<use href="#g52" transform="translate(1870.3,2284.3) skewX(-15) translate(0,-20.7) scale(9.33,20.75)"/>
</g>
<g fill="none" stroke="#000" stroke-width="2.07" stroke-linecap="round" stroke-linejoin="round">
<use href="#g24" transform="translate(1928.3,2285.0) skewX(-15) translate(0,-20.9) scale(9.11,20.93)"/>
<use href="#g41" transform="translate(1944.0,2285.0) skewX(-15) translate(0,-20.9) scale(8.68,20.93)"/>
<use href="#g17" transform="translate(1959.3,2285.0) skewX(-15) translate(0,-20.9) scale(8.68,20.93)"/>
<use href="#g52" transform="translate(1974.6,2285.0) skewX(-15) translate(0,-20.9) scale(8.68,20.93)"/>
<use href="#g17" transform="translate(1989.8,2285.0) skewX(-15) translate(0,-20.9) scale(8.68,20.93)"/>
<use href="#g41" transform="translate(2005.1,2285.0) skewX(-15) translate(0,-20.9) scale(8.68,20.93)"/>
</g>
<g fill="none" stroke="#000" stroke-width="1.93" stroke-linecap="round" stroke-linejoin="round">
<use href="#g0" transform="translate(2201.8,2288.1) skewX(-11) translate(0,-19.6) scale(4.30,19.56)"/>
<use href="#g0" transform="translate(2212.4,2288.1) skewX(-11) translate(0,-19.6) scale(4.30,19.56)"/>
<use href="#g11" transform="translate(2223.0,2288.1) skewX(-11) translate(0,-19.6) scale(0.14,19.56)"/>
<use href="#g1" transform="translate(2229.4,2288.1) skewX(-11) translate(0,-19.6) scale(9.08,19.56)"/>
<use href="#g1" transform="translate(2244.8,2288.1) skewX(-11) translate(0,-19.6) scale(9.08,19.56)"/>
</g>
<path d="M2085.6,2120.8 C2095,2112 2105,2100 2115,2085 C2118,2075 2120,2062 2123,2058 C2120,2075 2112,2095 2110,2110 C2112,2090 2125,2080 2128,2088 C2124,2098 2118,2092 2130,2085 C2138,2080 2140,2072 2142,2068 C2138,2085 2132,2100 2133,2112 C2136,2098 2145,2090 2161,2089" fill="none" stroke="#000" stroke-width="1" stroke-linejoin="round" stroke-linecap="round"/>
<path d="M2095.7,2182 C2110,2170 2125,2165 2140,2158 C2155,2152 2162,2145 2150,2144 C2130,2146 2115,2160 2108,2168 C2104,2160 2110,2150 2116,2141 C2110,2160 2104,2180 2102,2195" fill="none" stroke="#000" stroke-width="1" stroke-linejoin="round" stroke-linecap="round"/>
<path d="M2099.5,2277 C2120,2275 2150,2276 2172,2272 C2150,2268 2110,2272 2100,2280 C2130,2282 2160,2270 2176.7,2266 C2150,2262 2120,2268 2112,2272 M2115,2287 C2140,2286 2160,2282 2165,2278 C2150,2276 2130,2270 2140,2262 C2150,2258 2165,2258 2168,2256" fill="none" stroke="#000" stroke-width="1" stroke-linejoin="round" stroke-linecap="round"/>
<g fill="none" stroke="#000" stroke-width="1.98" stroke-linecap="round" stroke-linejoin="round">
<use href="#g6" transform="translate(2641.6,1924.7) skewX(-15) translate(0,-20.0) scale(9.68,20.02)"/>
<use href="#g5" transform="translate(2658.0,1924.7) skewX(-15) translate(0,-20.0) scale(9.68,20.02)"/>
<use href="#g72" transform="translate(2674.3,1924.7) skewX(-15) translate(0,-20.0) scale(7.44,20.02)"/>
<use href="#g0" transform="translate(2688.5,1924.7) skewX(-15) translate(0,-20.0) scale(4.75,20.02)"/>
<use href="#g6" transform="translate(2699.9,1924.7) skewX(-15) translate(0,-20.0) scale(9.68,20.02)"/>
<use href="#g13" transform="translate(2716.3,1924.7) skewX(-15) translate(0,-20.0) scale(9.24,20.02)"/>
<use href="#g1" transform="translate(2732.2,1924.7) skewX(-15) translate(0,-20.0) scale(9.91,20.02)"/>
<use href="#g6" transform="translate(2748.8,1924.7) skewX(-15) translate(0,-20.0) scale(9.68,20.02)"/>
<use href="#g1" transform="translate(2765.2,1924.7) skewX(-15) translate(0,-20.0) scale(9.91,20.02)"/>
<use href="#g1" transform="translate(2781.8,1924.7) skewX(-15) translate(0,-20.0) scale(9.91,20.02)"/>
<use href="#g13" transform="translate(2798.4,1924.7) skewX(-15) translate(0,-20.0) scale(9.24,20.02)"/>
<use href="#g26" transform="translate(2814.3,1924.7) skewX(-15) translate(0,-20.0) scale(10.36,20.02)"/>
<use href="#g32" transform="translate(2831.4,1924.7) skewX(-15) translate(0,-20.0) scale(10.36,20.02)"/>
</g>
<g fill="none" stroke="#000" stroke-width="1.88" stroke-linecap="round" stroke-linejoin="round">
<use href="#g33" transform="translate(2304.6,1986.0) skewX(-15) translate(0,-19.0) scale(8.59,19.02)"/>
<use href="#g45" transform="translate(2318.9,1986.0) skewX(-15) translate(0,-19.0) scale(7.15,19.02)"/>
<use href="#g53" transform="translate(2331.7,1986.0) skewX(-15) translate(0,-19.0) scale(6.42,19.02)"/>
<use href="#g54" transform="translate(2343.8,1986.0) skewX(-15) translate(0,-19.0) scale(9.31,19.02)"/>
<use href="#g17" transform="translate(2358.8,1986.0) skewX(-15) translate(0,-19.0) scale(7.15,19.02)"/>
<use href="#g48" transform="translate(2371.6,1986.0) skewX(-15) translate(0,-19.0) scale(8.95,19.02)"/>
<use href="#g39" transform="translate(2386.2,1986.0) skewX(-15) translate(0,-19.0) scale(7.15,19.02)"/>
<use href="#g42" transform="translate(2409.4,1986.0) skewX(-15) translate(0,-19.0) scale(6.42,19.02)"/>
<use href="#g39" transform="translate(2421.5,1986.0) skewX(-15) translate(0,-19.0) scale(7.15,19.02)"/>
<use href="#g16" transform="translate(2434.3,1986.0) skewX(-15) translate(0,-19.0) scale(6.42,19.02)"/>
<use href="#g50" transform="translate(2446.4,1986.0) skewX(-15) translate(0,-19.0) scale(7.15,19.02)"/>
<use href="#g53" transform="translate(2459.2,1986.0) skewX(-15) translate(0,-19.0) scale(6.42,19.02)"/>
<use href="#g49" transform="translate(2471.3,1986.0) skewX(-15) translate(0,-19.0) scale(7.15,19.02)"/>
<use href="#g39" transform="translate(2484.1,1986.0) skewX(-15) translate(0,-19.0) scale(7.15,19.02)"/>
<use href="#g40" transform="translate(2496.9,1986.0) skewX(-15) translate(0,-19.0) scale(7.15,19.02)"/>
<use href="#g44" transform="translate(2509.7,1986.0) skewX(-15) translate(0,-19.0) scale(9.31,19.02)"/>
<use href="#g17" transform="translate(2524.7,1986.0) skewX(-15) translate(0,-19.0) scale(7.15,19.02)"/>
<use href="#g49" transform="translate(2537.5,1986.0) skewX(-15) translate(0,-19.0) scale(7.15,19.02)"/>
<use href="#g45" transform="translate(2550.4,1986.0) skewX(-15) translate(0,-19.0) scale(7.15,19.02)"/>
<use href="#g65" transform="translate(2563.2,1986.0) skewX(-15) translate(0,-19.0) scale(6.79,19.02)"/>
<use href="#g10" transform="translate(2575.6,1986.0) skewX(-15) translate(0,-19.0) scale(0.65,19.02)"/>
<use href="#g54" transform="translate(2592.2,1986.0) skewX(-15) translate(0,-19.0) scale(9.31,19.02)"/>
<use href="#g17" transform="translate(2607.2,1986.0) skewX(-15) translate(0,-19.0) scale(7.15,19.02)"/>
<use href="#g51" transform="translate(2620.1,1986.0) skewX(-15) translate(0,-19.0) scale(7.15,19.02)"/>
<use href="#g18" transform="translate(2632.9,1986.0) skewX(-15) translate(0,-19.0) scale(7.15,19.02)"/>
<use href="#g50" transform="translate(2645.7,1986.0) skewX(-15) translate(0,-19.0) scale(7.15,19.02)"/>
<use href="#g53" transform="translate(2658.5,1986.0) skewX(-15) translate(0,-19.0) scale(6.42,19.02)"/>
<use href="#g49" transform="translate(2670.6,1986.0) skewX(-15) translate(0,-19.0) scale(7.15,19.02)"/>
<use href="#g39" transform="translate(2683.4,1986.0) skewX(-15) translate(0,-19.0) scale(7.15,19.02)"/>
<use href="#g40" transform="translate(2696.2,1986.0) skewX(-15) translate(0,-19.0) scale(7.15,19.02)"/>
<use href="#g44" transform="translate(2709.1,1986.0) skewX(-15) translate(0,-19.0) scale(9.31,19.02)"/>
<use href="#g17" transform="translate(2724.0,1986.0) skewX(-15) translate(0,-19.0) scale(7.15,19.02)"/>
<use href="#g49" transform="translate(2736.9,1986.0) skewX(-15) translate(0,-19.0) scale(7.15,19.02)"/>
<use href="#g45" transform="translate(2749.7,1986.0) skewX(-15) translate(0,-19.0) scale(7.15,19.02)"/>
<use href="#g65" transform="translate(2762.5,1986.0) skewX(-15) translate(0,-19.0) scale(6.79,19.02)"/>
<use href="#g45" transform="translate(2785.3,1986.0) skewX(-15) translate(0,-19.0) scale(7.15,19.02)"/>
<use href="#g54" transform="translate(2808.4,1986.0) skewX(-15) translate(0,-19.0) scale(9.31,19.02)"/>
<use href="#g17" transform="translate(2823.3,1986.0) skewX(-15) translate(0,-19.0) scale(7.15,19.02)"/>
<use href="#g51" transform="translate(2836.2,1986.0) skewX(-15) translate(0,-19.0) scale(7.15,19.02)"/>
<use href="#g18" transform="translate(2849.0,1986.0) skewX(-15) translate(0,-19.0) scale(7.15,19.02)"/>
<use href="#g50" transform="translate(2861.8,1986.0) skewX(-15) translate(0,-19.0) scale(7.15,19.02)"/>
<use href="#g48" transform="translate(2874.6,1986.0) skewX(-15) translate(0,-19.0) scale(8.95,19.02)"/>
<use href="#g17" transform="translate(2889.2,1986.0) skewX(-15) translate(0,-19.0) scale(7.15,19.02)"/>
<use href="#g57" transform="translate(2902.1,1986.0) skewX(-15) translate(0,-19.0) scale(6.79,19.02)"/>
<use href="#g39" transform="translate(2914.5,1986.0) skewX(-15) translate(0,-19.0) scale(7.15,19.02)"/>
<use href="#g49" transform="translate(2927.3,1986.0) skewX(-15) translate(0,-19.0) scale(7.15,19.02)"/>
<use href="#g45" transform="translate(2940.2,1986.0) skewX(-15) translate(0,-19.0) scale(7.15,19.02)"/>
<use href="#g59" transform="translate(2953.0,1986.0) skewX(-15) translate(0,-19.0) scale(6.79,19.02)"/>
<use href="#g17" transform="translate(2965.4,1986.0) skewX(-15) translate(0,-19.0) scale(7.15,19.02)"/>
<use href="#g53" transform="translate(2978.3,1986.0) skewX(-15) translate(0,-19.0) scale(6.42,19.02)"/>
<use href="#g47" transform="translate(2990.3,1986.0) skewX(-15) translate(0,-19.0) scale(6.79,19.02)"/>
<use href="#g45" transform="translate(3002.8,1986.0) skewX(-15) translate(0,-19.0) scale(7.15,19.02)"/>
<use href="#g57" transform="translate(3015.6,1986.0) skewX(-15) translate(0,-19.0) scale(6.79,19.02)"/>
<use href="#g52" transform="translate(3038.4,1986.0) skewX(-15) translate(0,-19.0) scale(7.15,19.02)"/>
<use href="#g17" transform="translate(3051.2,1986.0) skewX(-15) translate(0,-19.0) scale(7.15,19.02)"/>
<use href="#g60" transform="translate(3064.0,1986.0) skewX(-15) translate(0,-19.0) scale(9.67,19.02)"/>
<use href="#g17" transform="translate(3079.4,1986.0) skewX(-15) translate(0,-19.0) scale(7.15,19.02)"/>
<use href="#g49" transform="translate(3092.2,1986.0) skewX(-15) translate(0,-19.0) scale(7.15,19.02)"/>
<use href="#g45" transform="translate(3105.0,1986.0) skewX(-15) translate(0,-19.0) scale(7.15,19.02)"/>
<use href="#g46" transform="translate(3117.8,1986.0) skewX(-15) translate(0,-19.0) scale(7.15,19.02)"/>
</g>
<g fill="none" stroke="#000" stroke-width="1.69" stroke-linecap="round" stroke-linejoin="round">
<use href="#g47" transform="translate(2292.0,2011.0) skewX(-15) translate(0,-17.1) scale(6.97,17.11)"/>
<use href="#g50" transform="translate(2304.5,2011.0) skewX(-15) translate(0,-17.1) scale(7.33,17.11)"/>
<use href="#g54" transform="translate(2317.3,2011.0) skewX(-15) translate(0,-17.1) scale(9.50,17.11)"/>
<use href="#g18" transform="translate(2332.3,2011.0) skewX(-15) translate(0,-17.1) scale(7.33,17.11)"/>
<use href="#g39" transform="translate(2345.1,2011.0) skewX(-15) translate(0,-17.1) scale(7.33,17.11)"/>
<use href="#g49" transform="translate(2368.2,2011.0) skewX(-15) translate(0,-17.1) scale(7.33,17.11)"/>
<use href="#g39" transform="translate(2381.0,2011.0) skewX(-15) translate(0,-17.1) scale(7.33,17.11)"/>
<use href="#g52" transform="translate(2393.9,2011.0) skewX(-15) translate(0,-17.1) scale(7.33,17.11)"/>
<use href="#g55" transform="translate(2406.7,2011.0) skewX(-15) translate(0,-17.1) scale(7.33,17.11)"/>
<use href="#g44" transform="translate(2419.5,2011.0) skewX(-15) translate(0,-17.1) scale(9.50,17.11)"/>
<use href="#g49" transform="translate(2434.5,2011.0) skewX(-15) translate(0,-17.1) scale(7.33,17.11)"/>
<use href="#g50" transform="translate(2447.3,2011.0) skewX(-15) translate(0,-17.1) scale(7.33,17.11)"/>
<use href="#g42" transform="translate(2460.1,2011.0) skewX(-15) translate(0,-17.1) scale(6.61,17.11)"/>
<use href="#g50" transform="translate(2472.2,2011.0) skewX(-15) translate(0,-17.1) scale(7.33,17.11)"/>
<use href="#g52" transform="translate(2495.3,2011.0) skewX(-15) translate(0,-17.1) scale(7.33,17.11)"/>
<use href="#g39" transform="translate(2508.1,2011.0) skewX(-15) translate(0,-17.1) scale(7.33,17.11)"/>
<use href="#g16" transform="translate(2520.9,2011.0) skewX(-15) translate(0,-17.1) scale(6.61,17.11)"/>
<use href="#g48" transform="translate(2533.0,2011.0) skewX(-15) translate(0,-17.1) scale(9.14,17.11)"/>
<use href="#g17" transform="translate(2547.6,2011.0) skewX(-15) translate(0,-17.1) scale(7.33,17.11)"/>
<use href="#g61" transform="translate(2560.5,2011.0) skewX(-15) translate(0,-17.1) scale(10.22,17.11)"/>
<use href="#g17" transform="translate(2576.2,2011.0) skewX(-15) translate(0,-17.1) scale(7.33,17.11)"/>
<use href="#g49" transform="translate(2589.0,2011.0) skewX(-15) translate(0,-17.1) scale(7.33,17.11)"/>
<use href="#g45" transform="translate(2601.8,2011.0) skewX(-15) translate(0,-17.1) scale(7.33,17.11)"/>
<use href="#g65" transform="translate(2614.6,2011.0) skewX(-15) translate(0,-17.1) scale(6.97,17.11)"/>
<use href="#g51" transform="translate(2637.4,2011.0) skewX(-15) translate(0,-17.1) scale(7.33,17.11)"/>
<use href="#g50" transform="translate(2650.2,2011.0) skewX(-15) translate(0,-17.1) scale(7.33,17.11)"/>
<use href="#g39" transform="translate(2673.3,2011.0) skewX(-15) translate(0,-17.1) scale(7.33,17.11)"/>
<use href="#g43" transform="translate(2686.1,2011.0) skewX(-15) translate(0,-17.1) scale(7.33,17.11)"/>
<use href="#g52" transform="translate(2698.9,2011.0) skewX(-15) translate(0,-17.1) scale(7.33,17.11)"/>
<use href="#g17" transform="translate(2711.7,2011.0) skewX(-15) translate(0,-17.1) scale(7.33,17.11)"/>
<use href="#g53" transform="translate(2724.5,2011.0) skewX(-15) translate(0,-17.1) scale(6.61,17.11)"/>
<use href="#g55" transform="translate(2736.6,2011.0) skewX(-15) translate(0,-17.1) scale(7.33,17.11)"/>
<use href="#g73" transform="translate(2749.5,2011.0) skewX(-15) translate(0,-17.1) scale(0.11,17.11)"/>
<use href="#g4" transform="translate(2765.3,2011.0) skewX(-15) translate(0,-17.1) scale(7.69,17.11)"/>
<use href="#g6" transform="translate(2778.5,2011.0) skewX(-15) translate(0,-17.1) scale(7.69,17.11)"/>
<use href="#g73" transform="translate(2791.7,2011.0) skewX(-15) translate(0,-17.1) scale(0.11,17.11)"/>
<use href="#g0" transform="translate(2797.3,2011.0) skewX(-15) translate(0,-17.1) scale(3.72,17.11)"/>
<use href="#g1" transform="translate(2806.5,2011.0) skewX(-15) translate(0,-17.1) scale(7.87,17.11)"/>
<use href="#g73" transform="translate(2819.8,2011.0) skewX(-15) translate(0,-17.1) scale(0.11,17.11)"/>
<use href="#g6" transform="translate(2825.4,2011.0) skewX(-15) translate(0,-17.1) scale(7.69,17.11)"/>
<use href="#g6" transform="translate(2838.6,2011.0) skewX(-15) translate(0,-17.1) scale(7.69,17.11)"/>
<use href="#g8" transform="translate(2851.8,2011.0) skewX(-15) translate(0,-17.1) scale(7.69,17.11)"/>
<use href="#g6" transform="translate(2865.0,2011.0) skewX(-15) translate(0,-17.1) scale(7.69,17.11)"/>
<use href="#g2" transform="translate(2878.2,2011.0) skewX(-15) translate(0,-17.1) scale(7.33,17.11)"/>
<use href="#g0" transform="translate(2891.0,2011.0) skewX(-15) translate(0,-17.1) scale(3.72,17.11)"/>
<use href="#g0" transform="translate(2900.2,2011.0) skewX(-15) translate(0,-17.1) scale(3.72,17.11)"/>
<use href="#g73" transform="translate(2909.4,2011.0) skewX(-15) translate(0,-17.1) scale(0.11,17.11)"/>
<use href="#g0" transform="translate(2915.0,2011.0) skewX(-15) translate(0,-17.1) scale(3.72,17.11)"/>
<use href="#g4" transform="translate(2924.2,2011.0) skewX(-15) translate(0,-17.1) scale(7.69,17.11)"/>
<use href="#g10" transform="translate(2937.4,2011.0) skewX(-15) translate(0,-17.1) scale(0.84,17.11)"/>
<use href="#g50" transform="translate(2954.0,2011.0) skewX(-15) translate(0,-17.1) scale(7.33,17.11)"/>
<use href="#g40" transform="translate(2966.8,2011.0) skewX(-15) translate(0,-17.1) scale(7.33,17.11)"/>
<use href="#g18" transform="translate(2979.6,2011.0) skewX(-15) translate(0,-17.1) scale(7.33,17.11)"/>
<use href="#g11" transform="translate(2992.4,2011.0) skewX(-15) translate(0,-17.1) scale(0.11,17.11)"/>
<use href="#g28" transform="translate(3008.3,2011.0) skewX(-15) translate(0,-17.1) scale(10.58,17.11)"/>
<use href="#g50" transform="translate(3024.4,2011.0) skewX(-15) translate(0,-17.1) scale(7.33,17.11)"/>
<use href="#g53" transform="translate(3037.2,2011.0) skewX(-15) translate(0,-17.1) scale(6.61,17.11)"/>
<use href="#g47" transform="translate(3049.3,2011.0) skewX(-15) translate(0,-17.1) scale(6.97,17.11)"/>
<use href="#g50" transform="translate(3061.7,2011.0) skewX(-15) translate(0,-17.1) scale(7.33,17.11)"/>
<use href="#g41" transform="translate(3074.5,2011.0) skewX(-15) translate(0,-17.1) scale(7.33,17.11)"/>
<use href="#g53" transform="translate(3087.4,2011.0) skewX(-15) translate(0,-17.1) scale(6.61,17.11)"/>
<use href="#g47" transform="translate(3099.5,2011.0) skewX(-15) translate(0,-17.1) scale(6.97,17.11)"/>
<use href="#g39" transform="translate(3111.9,2011.0) skewX(-15) translate(0,-17.1) scale(7.33,17.11)"/>
<use href="#g65" transform="translate(3124.7,2011.0) skewX(-15) translate(0,-17.1) scale(6.97,17.11)"/>
<use href="#g10" transform="translate(3137.2,2011.0) skewX(-15) translate(0,-17.1) scale(0.84,17.11)"/>
</g>
<g fill="none" stroke="#000" stroke-width="1.57" stroke-linecap="round" stroke-linejoin="round">
<use href="#g42" transform="translate(2350.2,2034.7) skewX(-15) translate(0,-15.9) scale(6.90,15.93)"/>
<use href="#g11" transform="translate(2362.5,2034.7) skewX(-15) translate(0,-15.9) scale(0.27,15.93)"/>
<use href="#g28" transform="translate(2378.7,2034.7) skewX(-15) translate(0,-15.9) scale(10.95,15.93)"/>
<use href="#g62" transform="translate(2395.1,2034.7) skewX(-15) translate(0,-15.9) scale(9.47,15.93)"/>
<use href="#g54" transform="translate(2410.0,2034.7) skewX(-15) translate(0,-15.9) scale(9.84,15.93)"/>
<use href="#g45" transform="translate(2425.3,2034.7) skewX(-15) translate(0,-15.9) scale(7.63,15.93)"/>
<use href="#g61" transform="translate(2438.4,2034.7) skewX(-15) translate(0,-15.9) scale(10.58,15.93)"/>
<use href="#g45" transform="translate(2454.4,2034.7) skewX(-15) translate(0,-15.9) scale(7.63,15.93)"/>
<use href="#g10" transform="translate(2467.5,2034.7) skewX(-15) translate(0,-15.9) scale(1.00,15.93)"/>
<use href="#g51" transform="translate(2484.4,2034.7) skewX(-15) translate(0,-15.9) scale(7.63,15.93)"/>
<use href="#g50" transform="translate(2497.5,2034.7) skewX(-15) translate(0,-15.9) scale(7.63,15.93)"/>
<use href="#g53" transform="translate(2510.6,2034.7) skewX(-15) translate(0,-15.9) scale(6.90,15.93)"/>
<use href="#g11" transform="translate(2522.9,2034.7) skewX(-15) translate(0,-15.9) scale(0.27,15.93)"/>
<use href="#g20" transform="translate(2539.1,2034.7) skewX(-15) translate(0,-15.9) scale(8.55,15.93)"/>
<use href="#g17" transform="translate(2553.1,2034.7) skewX(-15) translate(0,-15.9) scale(7.63,15.93)"/>
<use href="#g60" transform="translate(2566.2,2034.7) skewX(-15) translate(0,-15.9) scale(10.21,15.93)"/>
<use href="#g47" transform="translate(2581.8,2034.7) skewX(-15) translate(0,-15.9) scale(7.26,15.93)"/>
<use href="#g45" transform="translate(2594.5,2034.7) skewX(-15) translate(0,-15.9) scale(7.63,15.93)"/>
<use href="#g10" transform="translate(2607.6,2034.7) skewX(-15) translate(0,-15.9) scale(1.00,15.93)"/>
<use href="#g1" transform="translate(2624.6,2034.7) skewX(-15) translate(0,-15.9) scale(8.18,15.93)"/>
<use href="#g13" transform="translate(2638.2,2034.7) skewX(-15) translate(0,-15.9) scale(7.63,15.93)"/>
<use href="#g46" transform="translate(2651.3,2034.7) skewX(-15) translate(0,-15.9) scale(7.63,15.93)"/>
<use href="#g47" transform="translate(2674.8,2034.7) skewX(-15) translate(0,-15.9) scale(7.26,15.93)"/>
<use href="#g48" transform="translate(2687.5,2034.7) skewX(-15) translate(0,-15.9) scale(9.47,15.93)"/>
<use href="#g11" transform="translate(2702.5,2034.7) skewX(-15) translate(0,-15.9) scale(0.27,15.93)"/>
<use href="#g27" transform="translate(2718.7,2034.7) skewX(-15) translate(0,-15.9) scale(9.11,15.93)"/>
<use href="#g45" transform="translate(2733.2,2034.7) skewX(-15) translate(0,-15.9) scale(7.63,15.93)"/>
<use href="#g51" transform="translate(2746.3,2034.7) skewX(-15) translate(0,-15.9) scale(7.63,15.93)"/>
<use href="#g47" transform="translate(2759.4,2034.7) skewX(-15) translate(0,-15.9) scale(7.26,15.93)"/>
<use href="#g45" transform="translate(2772.1,2034.7) skewX(-15) translate(0,-15.9) scale(7.63,15.93)"/>
<use href="#g49" transform="translate(2785.1,2034.7) skewX(-15) translate(0,-15.9) scale(7.63,15.93)"/>
<use href="#g53" transform="translate(2798.2,2034.7) skewX(-15) translate(0,-15.9) scale(6.90,15.93)"/>
<use href="#g47" transform="translate(2810.6,2034.7) skewX(-15) translate(0,-15.9) scale(7.26,15.93)"/>
<use href="#g50" transform="translate(2823.3,2034.7) skewX(-15) translate(0,-15.9) scale(7.63,15.93)"/>
<use href="#g42" transform="translate(2836.3,2034.7) skewX(-15) translate(0,-15.9) scale(6.90,15.93)"/>
<use href="#g50" transform="translate(2848.7,2034.7) skewX(-15) translate(0,-15.9) scale(7.63,15.93)"/>
<use href="#g60" transform="translate(2872.2,2034.7) skewX(-15) translate(0,-15.9) scale(10.21,15.93)"/>
<use href="#g50" transform="translate(2887.9,2034.7) skewX(-15) translate(0,-15.9) scale(7.63,15.93)"/>
<use href="#g53" transform="translate(2901.0,2034.7) skewX(-15) translate(0,-15.9) scale(6.90,15.93)"/>
<use href="#g53" transform="translate(2913.3,2034.7) skewX(-15) translate(0,-15.9) scale(6.90,15.93)"/>
<use href="#g17" transform="translate(2925.6,2034.7) skewX(-15) translate(0,-15.9) scale(7.63,15.93)"/>
<use href="#g10" transform="translate(2938.7,2034.7) skewX(-15) translate(0,-15.9) scale(1.00,15.93)"/>
<use href="#g53" transform="translate(2955.7,2034.7) skewX(-15) translate(0,-15.9) scale(6.90,15.93)"/>
<use href="#g54" transform="translate(2968.0,2034.7) skewX(-15) translate(0,-15.9) scale(9.84,15.93)"/>
<use href="#g52" transform="translate(2983.3,2034.7) skewX(-15) translate(0,-15.9) scale(7.63,15.93)"/>
<use href="#g50" transform="translate(2996.4,2034.7) skewX(-15) translate(0,-15.9) scale(7.63,15.93)"/>
<use href="#g17" transform="translate(3009.4,2034.7) skewX(-15) translate(0,-15.9) scale(7.63,15.93)"/>
<use href="#g49" transform="translate(3022.5,2034.7) skewX(-15) translate(0,-15.9) scale(7.63,15.93)"/>
<use href="#g45" transform="translate(3035.6,2034.7) skewX(-15) translate(0,-15.9) scale(7.63,15.93)"/>
<use href="#g17" transform="translate(3048.7,2034.7) skewX(-15) translate(0,-15.9) scale(7.63,15.93)"/>
<use href="#g8" transform="translate(3072.2,2034.7) skewX(-15) translate(0,-15.9) scale(8.00,15.93)"/>
</g>
<g fill="none" stroke="#000" stroke-width="1.99" stroke-linecap="round" stroke-linejoin="round">
<use href="#g33" transform="translate(2798.6,2093.0) skewX(-15) translate(0,-20.1) scale(11.18,20.11)"/>
<use href="#g54" transform="translate(2816.5,2093.0) skewX(-15) translate(0,-20.1) scale(12.09,20.11)"/>
<use href="#g39" transform="translate(2835.4,2093.0) skewX(-15) translate(0,-20.1) scale(9.37,20.11)"/>
<use href="#g43" transform="translate(2851.5,2093.0) skewX(-15) translate(0,-20.1) scale(9.37,20.11)"/>
<use href="#g45" transform="translate(2867.6,2093.0) skewX(-15) translate(0,-20.1) scale(9.37,20.11)"/>
<use href="#g65" transform="translate(2883.8,2093.0) skewX(-15) translate(0,-20.1) scale(8.91,20.11)"/>
</g>
<g fill="none" stroke="#000" stroke-width="1.99" stroke-linecap="round" stroke-linejoin="round">
<use href="#g27" transform="translate(2917.6,2093.0) skewX(-15) translate(0,-20.1) scale(10.48,20.11)"/>
<use href="#g45" transform="translate(2934.6,2093.0) skewX(-15) translate(0,-20.1) scale(8.76,20.11)"/>
<use href="#g53" transform="translate(2949.8,2093.0) skewX(-15) translate(0,-20.1) scale(7.90,20.11)"/>
<use href="#g54" transform="translate(2964.2,2093.0) skewX(-15) translate(0,-20.1) scale(11.34,20.11)"/>
</g>
<g fill="none" stroke="#000" stroke-width="1.99" stroke-linecap="round" stroke-linejoin="round">
<use href="#g27" transform="translate(3026.0,2093.0) skewX(-15) translate(0,-20.1) scale(10.66,20.11)"/>
<use href="#g45" transform="translate(3043.2,2093.0) skewX(-15) translate(0,-20.1) scale(8.91,20.11)"/>
<use href="#g53" transform="translate(3058.7,2093.0) skewX(-15) translate(0,-20.1) scale(8.04,20.11)"/>
<use href="#g54" transform="translate(3073.3,2093.0) skewX(-15) translate(0,-20.1) scale(11.53,20.11)"/>
<use href="#g50" transform="translate(3091.4,2093.0) skewX(-15) translate(0,-20.1) scale(8.91,20.11)"/>
<use href="#g41" transform="translate(3106.9,2093.0) skewX(-15) translate(0,-20.1) scale(8.91,20.11)"/>
</g>
<g fill="none" stroke="#000" stroke-width="1.72" stroke-linecap="round" stroke-linejoin="round">
<use href="#g32" transform="translate(2832.5,2152.6) skewX(-15) translate(0,-17.4) scale(12.26,17.38)"/>
</g>
<g fill="none" stroke="#000" stroke-width="1.72" stroke-linecap="round" stroke-linejoin="round">
<use href="#g3" transform="translate(2942.9,2152.6) skewX(-11) translate(0,-17.4) scale(9.57,17.38)"/>
</g>
<g fill="none" stroke="#000" stroke-width="2.11" stroke-linecap="round" stroke-linejoin="round">
<use href="#g26" transform="translate(2401.3,2129.0) skewX(-15) translate(0,-21.3) scale(10.50,21.29)"/>
<use href="#g50" transform="translate(2418.7,2129.0) skewX(-15) translate(0,-21.3) scale(9.35,21.29)"/>
<use href="#g49" transform="translate(2434.9,2129.0) skewX(-15) translate(0,-21.3) scale(9.35,21.29)"/>
<use href="#g53" transform="translate(2451.2,2129.0) skewX(-15) translate(0,-21.3) scale(8.44,21.29)"/>
<use href="#g54" transform="translate(2466.6,2129.0) skewX(-15) translate(0,-21.3) scale(12.10,21.29)"/>
<use href="#g52" transform="translate(2485.6,2129.0) skewX(-15) translate(0,-21.3) scale(9.35,21.29)"/>
<use href="#g55" transform="translate(2501.9,2129.0) skewX(-15) translate(0,-21.3) scale(9.35,21.29)"/>
<use href="#g54" transform="translate(2518.1,2129.0) skewX(-15) translate(0,-21.3) scale(12.10,21.29)"/>
<use href="#g45" transform="translate(2537.1,2129.0) skewX(-15) translate(0,-21.3) scale(9.35,21.29)"/>
<use href="#g41" transform="translate(2553.4,2129.0) skewX(-15) translate(0,-21.3) scale(9.35,21.29)"/>
<use href="#g49" transform="translate(2569.7,2129.0) skewX(-15) translate(0,-21.3) scale(9.35,21.29)"/>
<use href="#g62" transform="translate(2586.0,2129.0) skewX(-15) translate(0,-21.3) scale(11.64,21.29)"/>
<use href="#g17" transform="translate(2604.5,2129.0) skewX(-15) translate(0,-21.3) scale(9.35,21.29)"/>
<use href="#g52" transform="translate(2633.9,2129.0) skewX(-15) translate(0,-21.3) scale(9.35,21.29)"/>
<use href="#g17" transform="translate(2650.1,2129.0) skewX(-15) translate(0,-21.3) scale(9.35,21.29)"/>
<use href="#g60" transform="translate(2666.4,2129.0) skewX(-15) translate(0,-21.3) scale(12.56,21.29)"/>
<use href="#g17" transform="translate(2685.9,2129.0) skewX(-15) translate(0,-21.3) scale(9.35,21.29)"/>
<use href="#g49" transform="translate(2702.1,2129.0) skewX(-15) translate(0,-21.3) scale(9.35,21.29)"/>
<use href="#g45" transform="translate(2718.4,2129.0) skewX(-15) translate(0,-21.3) scale(9.35,21.29)"/>
<use href="#g65" transform="translate(2734.7,2129.0) skewX(-15) translate(0,-21.3) scale(8.89,21.29)"/>
</g>
<g fill="none" stroke="#000" stroke-width="2.11" stroke-linecap="round" stroke-linejoin="round">
<use href="#g31" transform="translate(2341.8,2228.9) skewX(-15) translate(0,-21.3) scale(8.69,21.29)"/>
<use href="#g18" transform="translate(2356.5,2228.9) skewX(-15) translate(0,-21.3) scale(7.20,21.29)"/>
<use href="#g39" transform="translate(2369.7,2228.9) skewX(-15) translate(0,-21.3) scale(7.20,21.29)"/>
<use href="#g49" transform="translate(2382.9,2228.9) skewX(-15) translate(0,-21.3) scale(7.20,21.29)"/>
<use href="#g56" transform="translate(2406.7,2228.9) skewX(-15) translate(0,-21.3) scale(9.43,21.29)"/>
<use href="#g55" transform="translate(2422.2,2228.9) skewX(-15) translate(0,-21.3) scale(7.20,21.29)"/>
<use href="#g49" transform="translate(2435.4,2228.9) skewX(-15) translate(0,-21.3) scale(7.20,21.29)"/>
<use href="#g43" transform="translate(2448.6,2228.9) skewX(-15) translate(0,-21.3) scale(7.20,21.29)"/>
<use href="#g39" transform="translate(2461.8,2228.9) skewX(-15) translate(0,-21.3) scale(7.20,21.29)"/>
<use href="#g48" transform="translate(2475.0,2228.9) skewX(-15) translate(0,-21.3) scale(9.06,21.29)"/>
<use href="#g17" transform="translate(2490.1,2228.9) skewX(-15) translate(0,-21.3) scale(7.20,21.29)"/>
<use href="#g49" transform="translate(2503.3,2228.9) skewX(-15) translate(0,-21.3) scale(7.20,21.29)"/>
<use href="#g54" transform="translate(2516.5,2228.9) skewX(-15) translate(0,-21.3) scale(9.43,21.29)"/>
<use href="#g39" transform="translate(2532.0,2228.9) skewX(-15) translate(0,-21.3) scale(7.20,21.29)"/>
<use href="#g47" transform="translate(2555.8,2228.9) skewX(-15) translate(0,-21.3) scale(6.83,21.29)"/>
<use href="#g50" transform="translate(2568.6,2228.9) skewX(-15) translate(0,-21.3) scale(7.20,21.29)"/>
<use href="#g54" transform="translate(2581.9,2228.9) skewX(-15) translate(0,-21.3) scale(9.43,21.29)"/>
<use href="#g18" transform="translate(2597.3,2228.9) skewX(-15) translate(0,-21.3) scale(7.20,21.29)"/>
<use href="#g39" transform="translate(2610.5,2228.9) skewX(-15) translate(0,-21.3) scale(7.20,21.29)"/>
<use href="#g11" transform="translate(2623.7,2228.9) skewX(-15) translate(0,-21.3) scale(0.02,21.29)"/>
<use href="#g28" transform="translate(2640.1,2228.9) skewX(-15) translate(0,-21.3) scale(10.55,21.29)"/>
<use href="#g0" transform="translate(2656.7,2228.9) skewX(-15) translate(0,-21.3) scale(3.48,21.29)"/>
<use href="#g73" transform="translate(2666.2,2228.9) skewX(-15) translate(0,-21.3) scale(0.02,21.29)"/>
<use href="#g4" transform="translate(2671.9,2228.9) skewX(-15) translate(0,-21.3) scale(7.57,21.29)"/>
<use href="#g6" transform="translate(2685.5,2228.9) skewX(-15) translate(0,-21.3) scale(7.57,21.29)"/>
<use href="#g11" transform="translate(2699.1,2228.9) skewX(-15) translate(0,-21.3) scale(0.02,21.29)"/>
</g>
<g fill="none" stroke="#000" stroke-width="2.11" stroke-linecap="round" stroke-linejoin="round">
<use href="#g32" transform="translate(2280.2,2269.3) skewX(-15) translate(0,-21.3) scale(7.29,21.29)"/>
<use href="#g39" transform="translate(2293.1,2269.3) skewX(-15) translate(0,-21.3) scale(6.44,21.29)"/>
<use href="#g16" transform="translate(2305.3,2269.3) skewX(-15) translate(0,-21.3) scale(5.76,21.29)"/>
<use href="#g52" transform="translate(2316.7,2269.3) skewX(-15) translate(0,-21.3) scale(6.44,21.29)"/>
<use href="#g17" transform="translate(2328.9,2269.3) skewX(-15) translate(0,-21.3) scale(6.44,21.29)"/>
<use href="#g16" transform="translate(2341.0,2269.3) skewX(-15) translate(0,-21.3) scale(5.76,21.29)"/>
<use href="#g0" transform="translate(2362.2,2269.3) skewX(-15) translate(0,-21.3) scale(3.02,21.29)"/>
<use href="#g13" transform="translate(2370.9,2269.3) skewX(-15) translate(0,-21.3) scale(6.44,21.29)"/>
<use href="#g0" transform="translate(2383.0,2269.3) skewX(-15) translate(0,-21.3) scale(3.02,21.29)"/>
<use href="#g10" transform="translate(2391.8,2269.3) skewX(-15) translate(0,-21.3) scale(0.29,21.29)"/>
<use href="#g32" transform="translate(2407.5,2269.3) skewX(-15) translate(0,-21.3) scale(7.29,21.29)"/>
<use href="#g39" transform="translate(2420.5,2269.3) skewX(-15) translate(0,-21.3) scale(6.44,21.29)"/>
<use href="#g16" transform="translate(2432.6,2269.3) skewX(-15) translate(0,-21.3) scale(5.76,21.29)"/>
<use href="#g52" transform="translate(2444.1,2269.3) skewX(-15) translate(0,-21.3) scale(6.44,21.29)"/>
<use href="#g17" transform="translate(2456.2,2269.3) skewX(-15) translate(0,-21.3) scale(6.44,21.29)"/>
<use href="#g16" transform="translate(2468.3,2269.3) skewX(-15) translate(0,-21.3) scale(5.76,21.29)"/>
<use href="#g1" transform="translate(2489.5,2269.3) skewX(-15) translate(0,-21.3) scale(6.95,21.29)"/>
<use href="#g13" transform="translate(2502.2,2269.3) skewX(-15) translate(0,-21.3) scale(6.44,21.29)"/>
<use href="#g1" transform="translate(2514.3,2269.3) skewX(-15) translate(0,-21.3) scale(6.95,21.29)"/>
<use href="#g10" transform="translate(2527.0,2269.3) skewX(-15) translate(0,-21.3) scale(0.29,21.29)"/>
<use href="#g15" transform="translate(2542.7,2269.3) skewX(-15) translate(0,-21.3) scale(7.98,21.29)"/>
<use href="#g16" transform="translate(2556.4,2269.3) skewX(-15) translate(0,-21.3) scale(5.76,21.29)"/>
<use href="#g17" transform="translate(2567.8,2269.3) skewX(-15) translate(0,-21.3) scale(6.44,21.29)"/>
<use href="#g18" transform="translate(2579.9,2269.3) skewX(-15) translate(0,-21.3) scale(6.44,21.29)"/>
<use href="#g0" transform="translate(2601.8,2269.3) skewX(-15) translate(0,-21.3) scale(3.02,21.29)"/>
<use href="#g10" transform="translate(2610.5,2269.3) skewX(-15) translate(0,-21.3) scale(0.29,21.29)"/>
<use href="#g15" transform="translate(2626.3,2269.3) skewX(-15) translate(0,-21.3) scale(7.98,21.29)"/>
<use href="#g16" transform="translate(2639.9,2269.3) skewX(-15) translate(0,-21.3) scale(5.76,21.29)"/>
<use href="#g17" transform="translate(2651.4,2269.3) skewX(-15) translate(0,-21.3) scale(6.44,21.29)"/>
<use href="#g18" transform="translate(2663.5,2269.3) skewX(-15) translate(0,-21.3) scale(6.44,21.29)"/>
<use href="#g1" transform="translate(2685.4,2269.3) skewX(-15) translate(0,-21.3) scale(6.95,21.29)"/>
<use href="#g11" transform="translate(2698.1,2269.3) skewX(-15) translate(0,-21.3) scale(0.02,21.29)"/>
<use href="#g28" transform="translate(2713.1,2269.3) skewX(-15) translate(0,-21.3) scale(9.52,21.29)"/>
<use href="#g0" transform="translate(2728.3,2269.3) skewX(-15) translate(0,-21.3) scale(3.02,21.29)"/>
<use href="#g73" transform="translate(2737.0,2269.3) skewX(-15) translate(0,-21.3) scale(0.02,21.29)"/>
<use href="#g4" transform="translate(2742.3,2269.3) skewX(-15) translate(0,-21.3) scale(6.78,21.29)"/>
<use href="#g6" transform="translate(2754.8,2269.3) skewX(-15) translate(0,-21.3) scale(6.78,21.29)"/>
<use href="#g11" transform="translate(2767.3,2269.3) skewX(-15) translate(0,-21.3) scale(0.02,21.29)"/>
</g>
<g fill="none" stroke="#000" stroke-width="1.92" stroke-linecap="round" stroke-linejoin="round">
<use href="#g30" transform="translate(2890.0,2243.9) skewX(-15) translate(0,-19.4) scale(12.88,19.38)"/>
<use href="#g30" transform="translate(2909.8,2243.9) skewX(-15) translate(0,-19.4) scale(12.88,19.38)"/>
<use href="#g30" transform="translate(2929.6,2243.9) skewX(-15) translate(0,-19.4) scale(12.88,19.38)"/>
<use href="#g71" transform="translate(2963.0,2243.9) skewX(-15) translate(0,-19.4) scale(4.77,19.38)"/>
<use href="#g29" transform="translate(2974.7,2243.9) skewX(-15) translate(0,-19.4) scale(11.93,19.38)"/>
<use href="#g31" transform="translate(2993.5,2243.9) skewX(-15) translate(0,-19.4) scale(11.93,19.38)"/>
<use href="#g26" transform="translate(3012.4,2243.9) skewX(-15) translate(0,-19.4) scale(11.21,19.38)"/>
<use href="#g71" transform="translate(3044.1,2243.9) skewX(-15) translate(0,-19.4) scale(4.77,19.38)"/>
<use href="#g24" transform="translate(3055.8,2243.9) skewX(-15) translate(0,-19.4) scale(10.49,19.38)"/>
<use href="#g28" transform="translate(3073.3,2243.9) skewX(-15) translate(0,-19.4) scale(14.31,19.38)"/>
<use href="#g37" transform="translate(3094.5,2243.9) skewX(-15) translate(0,-19.4) scale(11.93,19.38)"/>
<use href="#g71" transform="translate(3113.4,2243.9) skewX(-15) translate(0,-19.4) scale(4.77,19.38)"/>
</g>
<g fill="none" stroke="#000" stroke-width="1.73" stroke-linecap="round" stroke-linejoin="round">
<use href="#g35" transform="translate(2834.6,2320.5) skewX(-15) translate(0,-17.5) scale(14.31,17.47)"/>
<use href="#g50" transform="translate(2855.6,2320.5) skewX(-15) translate(0,-17.5) scale(10.07,17.47)"/>
<use href="#g52" transform="translate(2872.3,2320.5) skewX(-15) translate(0,-17.5) scale(10.07,17.47)"/>
<use href="#g48" transform="translate(2889.0,2320.5) skewX(-15) translate(0,-17.5) scale(12.42,17.47)"/>
<use href="#g39" transform="translate(2908.2,2320.5) skewX(-15) translate(0,-17.5) scale(10.07,17.47)"/>
<use href="#g54" transform="translate(2924.9,2320.5) skewX(-15) translate(0,-17.5) scale(12.90,17.47)"/>
<use href="#g19" transform="translate(2957.9,2320.5) skewX(-15) translate(0,-17.5) scale(12.42,17.47)"/>
<use href="#g2" transform="translate(2977.0,2320.5) skewX(-15) translate(0,-17.5) scale(10.07,17.47)"/>
</g>
<rect x="61.1" y="1645.0" width="91.6" height="644.4" fill="none" stroke="#000" stroke-width="2.2" shape-rendering="crispEdges"/>
<line x1="100.0" y1="1645.0" x2="100.0" y2="2289.4" stroke="#000" stroke-width="2" shape-rendering="crispEdges"/>
<line x1="61.1" y1="1835.0" x2="152.7" y2="1835.0" stroke="#000" stroke-width="2" shape-rendering="crispEdges"/>
<line x1="61.1" y1="2102.0" x2="152.7" y2="2102.0" stroke="#000" stroke-width="2" shape-rendering="crispEdges"/>
<g transform="translate(90.60,1807.30) rotate(-90)">
<g fill="none" stroke="#000" stroke-width="2.12" stroke-linecap="round" stroke-linejoin="round">
<use href="#g20" transform="translate(1.1,-1.1) skewX(-15) translate(0,-21.5) scale(10.60,21.48)"/>
<use href="#g16" transform="translate(18.6,-1.1) skewX(-15) translate(0,-21.5) scale(8.52,21.48)"/>
<use href="#g39" transform="translate(34.1,-1.1) skewX(-15) translate(0,-21.5) scale(9.44,21.48)"/>
<use href="#g48" transform="translate(50.6,-1.1) skewX(-15) translate(0,-21.5) scale(11.76,21.48)"/>
<use href="#g11" transform="translate(69.3,-1.1) skewX(-15) translate(0,-21.5) scale(0.19,21.48)"/>
<use href="#g45" transform="translate(89.7,-1.1) skewX(-15) translate(0,-21.5) scale(9.44,21.48)"/>
<use href="#g49" transform="translate(106.1,-1.1) skewX(-15) translate(0,-21.5) scale(9.44,21.48)"/>
<use href="#g41" transform="translate(122.5,-1.1) skewX(-15) translate(0,-21.5) scale(9.44,21.48)"/>
<use href="#g11" transform="translate(139.0,-1.1) skewX(-15) translate(0,-21.5) scale(0.19,21.48)"/>
<use href="#g38" transform="translate(159.3,-1.1) skewX(-15) translate(0,-21.5) scale(11.30,21.48)"/>
</g>
</g>
<g transform="translate(90.60,2085.10) rotate(-90)">
<g fill="none" stroke="#000" stroke-width="2.12" stroke-linecap="round" stroke-linejoin="round">
<use href="#g22" transform="translate(1.1,-1.1) skewX(-15) translate(0,-21.5) scale(12.74,21.48)"/>
<use href="#g39" transform="translate(21.0,-1.1) skewX(-15) translate(0,-21.5) scale(9.86,21.48)"/>
<use href="#g54" transform="translate(38.0,-1.1) skewX(-15) translate(0,-21.5) scale(12.74,21.48)"/>
<use href="#g39" transform="translate(57.9,-1.1) skewX(-15) translate(0,-21.5) scale(9.86,21.48)"/>
<use href="#g45" transform="translate(88.6,-1.1) skewX(-15) translate(0,-21.5) scale(9.86,21.48)"/>
<use href="#g51" transform="translate(119.2,-1.1) skewX(-15) translate(0,-21.5) scale(9.86,21.48)"/>
<use href="#g50" transform="translate(136.3,-1.1) skewX(-15) translate(0,-21.5) scale(9.86,21.48)"/>
<use href="#g43" transform="translate(153.3,-1.1) skewX(-15) translate(0,-21.5) scale(9.86,21.48)"/>
<use href="#g51" transform="translate(170.3,-1.1) skewX(-15) translate(0,-21.5) scale(9.86,21.48)"/>
<use href="#g45" transform="translate(187.3,-1.1) skewX(-15) translate(0,-21.5) scale(9.86,21.48)"/>
<use href="#g53" transform="translate(204.3,-1.1) skewX(-15) translate(0,-21.5) scale(8.90,21.48)"/>
<use href="#g63" transform="translate(220.4,-1.1) skewX(-15) translate(0,-21.5) scale(8.90,21.48)"/>
</g>
</g>
<g transform="translate(90.60,2272.00) rotate(-90)">
<g fill="none" stroke="#000" stroke-width="2.12" stroke-linecap="round" stroke-linejoin="round">
<use href="#g25" transform="translate(1.1,-1.1) skewX(-15) translate(0,-21.5) scale(10.91,21.48)"/>
<use href="#g49" transform="translate(18.8,-1.1) skewX(-15) translate(0,-21.5) scale(9.11,21.48)"/>
<use href="#g41" transform="translate(34.8,-1.1) skewX(-15) translate(0,-21.5) scale(9.11,21.48)"/>
<use href="#g11" transform="translate(50.7,-1.1) skewX(-15) translate(0,-21.5) scale(0.12,21.48)"/>
<use href="#g38" transform="translate(70.5,-1.1) skewX(-15) translate(0,-21.5) scale(10.91,21.48)"/>
<use href="#g51" transform="translate(101.1,-1.1) skewX(-15) translate(0,-21.5) scale(9.11,21.48)"/>
<use href="#g50" transform="translate(117.0,-1.1) skewX(-15) translate(0,-21.5) scale(9.11,21.48)"/>
<use href="#g43" transform="translate(133.0,-1.1) skewX(-15) translate(0,-21.5) scale(9.11,21.48)"/>
<use href="#g18" transform="translate(148.9,-1.1) skewX(-15) translate(0,-21.5) scale(9.11,21.48)"/>
<use href="#g11" transform="translate(164.9,-1.1) skewX(-15) translate(0,-21.5) scale(0.12,21.48)"/>
</g>
</g>
</svg></body></html>
